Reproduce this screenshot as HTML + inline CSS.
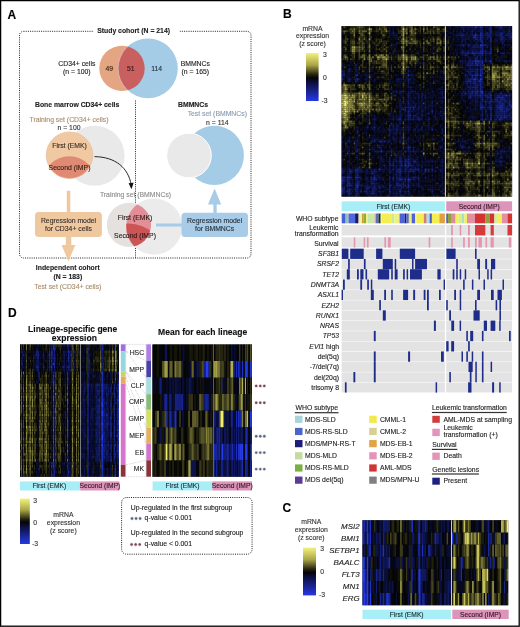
<!DOCTYPE html><html><head><meta charset="utf-8"><style>html,body{margin:0;padding:0;background:#fff;}svg{display:block;font-family:"Liberation Sans",sans-serif;filter:blur(0.3px);}</style></head><body><svg width="520" height="627" viewBox="0 0 520 627" font-family="Liberation Sans, sans-serif">
<rect width="520" height="627" fill="#fff"/>
<defs><clipPath id="cG2"><circle cx="128" cy="262" r="38.5"/></clipPath></defs>
<text x="7.60" y="18.66" font-size="12" font-weight="bold" fill="#000" stroke="#000" stroke-width="0.12">A</text>
<rect x="19.5" y="31.3" width="231.5" height="226.7" rx="4" fill="none" stroke="#222" stroke-width="1" stroke-dasharray="1 1.2"/>
<rect x="93.50" y="27.00" width="86.00" height="8.00" fill="#fff"/>
<text x="133.60" y="33.46" font-size="6.85" text-anchor="middle" font-weight="bold" fill="#222" stroke="#222" stroke-width="0.12">Study cohort (N = 214)</text>
<defs><clipPath id="cOr"><circle cx="122" cy="68.4" r="22.7"/></clipPath><clipPath id="cG1"><circle cx="128.9" cy="224.9" r="22.1"/></clipPath><clipPath id="cPe"><circle cx="69.5" cy="155.2" r="23.3"/></clipPath></defs>
<circle cx="122" cy="68.4" r="22.7" fill="#e3a582"/>
<circle cx="148" cy="68.4" r="29.8" fill="#a5cce6"/>
<circle cx="148" cy="68.4" r="29.8" fill="#c9605f" clip-path="url(#cOr)"/>
<circle cx="148" cy="68.4" r="29.8" fill="none" stroke="#fff" stroke-opacity="0.35" stroke-width="0.8" clip-path="url(#cOr)"/>
<text x="76.80" y="66.26" font-size="6.85" text-anchor="middle" fill="#222" stroke="#222" stroke-width="0.12">CD34+ cells</text>
<text x="76.80" y="74.36" font-size="6.85" text-anchor="middle" fill="#222" stroke="#222" stroke-width="0.12">(n = 100)</text>
<text x="109.30" y="70.66" font-size="6.85" text-anchor="middle" fill="#3a2410" stroke="#3a2410" stroke-width="0.12">49</text>
<text x="130.80" y="70.66" font-size="6.85" text-anchor="middle" fill="#3a1414" stroke="#3a1414" stroke-width="0.12">51</text>
<text x="156.60" y="70.66" font-size="6.85" text-anchor="middle" fill="#1e2c3a" stroke="#1e2c3a" stroke-width="0.12">114</text>
<text x="195.30" y="65.76" font-size="6.85" text-anchor="middle" fill="#222" stroke="#222" stroke-width="0.12">BMMNCs</text>
<text x="195.30" y="74.06" font-size="6.85" text-anchor="middle" fill="#222" stroke="#222" stroke-width="0.12">(n = 165)</text>
<text x="35.00" y="106.56" font-size="6.85" font-weight="bold" fill="#222" stroke="#222" stroke-width="0.12">Bone marrow CD34+ cells</text>
<text x="178.00" y="106.56" font-size="6.85" font-weight="bold" fill="#222" stroke="#222" stroke-width="0.12">BMMNCs</text>
<line x1="135.5" y1="100.5" x2="135.5" y2="258" stroke="#222" stroke-width="1" stroke-dasharray="1 1.2"/>
<text x="69.00" y="121.76" font-size="6.85" text-anchor="middle" fill="#a88c6c" stroke="#a88c6c" stroke-width="0.12">Training set (CD34+ cells)</text>
<text x="69.00" y="129.76" font-size="6.85" text-anchor="middle" fill="#333" stroke="#333" stroke-width="0.12">n = 100</text>
<circle cx="94.6" cy="155.8" r="30" fill="#e9e9e9"/>
<circle cx="69.5" cy="155.2" r="23.3" fill="#f0c8a2"/>
<circle cx="69.3" cy="182.8" r="26.6" fill="#e08a74" clip-path="url(#cPe)"/>
<circle cx="69.5" cy="155.2" r="23.3" fill="none" stroke="#e8b89a" stroke-width="0.6"/>
<text x="69.50" y="148.26" font-size="6.85" text-anchor="middle" fill="#3a2a20" stroke="#3a2a20" stroke-width="0.12">First (EMK)</text>
<text x="69.50" y="169.56" font-size="6.85" text-anchor="middle" fill="#3a2018" stroke="#3a2018" stroke-width="0.12">Second (IMP)</text>
<path d="M94.5 156.6 C 116 157, 128 168, 131.2 184.5" fill="none" stroke="#111" stroke-width="0.9"/>
<path d="M128.6 183.2 L131.5 189.2 L133.6 182.8 Z" fill="#111"/>
<text x="217.30" y="116.46" font-size="6.85" text-anchor="middle" fill="#8a9bb0" stroke="#8a9bb0" stroke-width="0.12">Test set (BMMNCs)</text>
<text x="217.30" y="124.56" font-size="6.85" text-anchor="middle" fill="#333" stroke="#333" stroke-width="0.12">n = 114</text>
<circle cx="214.3" cy="155.4" r="29.6" fill="#a5cce6"/>
<circle cx="189" cy="155.5" r="22.3" fill="#e9e9e9" stroke="#fff" stroke-width="1"/>
<text x="135.50" y="197.46" font-size="6.85" text-anchor="middle" fill="#8c8c8c" stroke="#8c8c8c" stroke-width="0.12">Training set (BMMNCs)</text>
<circle cx="154.1" cy="226.6" r="28.1" fill="#ebebeb"/>
<circle cx="128.9" cy="224.9" r="22.1" fill="#e5e1de"/>
<g clip-path="url(#cG1)"><circle cx="154.1" cy="226.6" r="28.1" fill="#e38d97"/><circle cx="154.1" cy="226.6" r="28.1" fill="#cc5454" clip-path="url(#cG2)"/><circle cx="154.1" cy="226.6" r="28.1" fill="none" stroke="#fff" stroke-opacity="0.3" stroke-width="0.8"/></g>
<text x="135.00" y="220.36" font-size="6.85" text-anchor="middle" fill="#2a2020" stroke="#2a2020" stroke-width="0.12">First (EMK)</text>
<text x="135.00" y="237.66" font-size="6.85" text-anchor="middle" fill="#2a1818" stroke="#2a1818" stroke-width="0.12">Second (IMP)</text>
<rect x="66.80" y="190.80" width="3.50" height="22.00" fill="#f0c8a0"/>
<rect x="35" y="212" width="66.9" height="24.9" rx="3.5" fill="#f0c8a0"/>
<rect x="65.80" y="236.50" width="5.50" height="9.00" fill="#f0c8a0"/>
<path d="M61.5 245 L75.4 245 L68.45 261.2 Z" fill="#f0c8a0"/>
<text x="68.50" y="222.56" font-size="6.85" text-anchor="middle" fill="#3a3028" stroke="#3a3028" stroke-width="0.12">Regression model</text>
<text x="68.50" y="230.66" font-size="6.85" text-anchor="middle" fill="#3a3028" stroke="#3a3028" stroke-width="0.12">for CD34+ cells</text>
<rect x="156.00" y="223.50" width="26.00" height="3.00" fill="#a8cce8"/>
<rect x="181.5" y="212.7" width="66.5" height="24.3" rx="3.5" fill="#a8cce8"/>
<rect x="213.40" y="203.00" width="3.30" height="10.00" fill="#a8cce8"/>
<path d="M208 204.6 L221.2 204.6 L214.6 188.5 Z" fill="#a8cce8"/>
<text x="214.60" y="222.56" font-size="6.85" text-anchor="middle" fill="#22303c" stroke="#22303c" stroke-width="0.12">Regression model</text>
<text x="214.60" y="231.06" font-size="6.85" text-anchor="middle" fill="#22303c" stroke="#22303c" stroke-width="0.12">for BMMNCs</text>
<text x="67.80" y="269.76" font-size="6.85" text-anchor="middle" font-weight="bold" fill="#222" stroke="#222" stroke-width="0.12">Independent cohort</text>
<text x="67.80" y="278.56" font-size="6.85" text-anchor="middle" font-weight="bold" fill="#222" stroke="#222" stroke-width="0.12">(N = 183)</text>
<text x="67.80" y="289.26" font-size="6.85" text-anchor="middle" fill="#a88c6c" stroke="#a88c6c" stroke-width="0.12">Test set (CD34+ cells)</text>
<rect x="341.60" y="26.20" width="170.50" height="170.40" fill="#000"/>
<path stroke="#050503" stroke-width="2.00" d="M341.6 27.2h1.7m3.4 0h1.7m25.4 0h1.7m37.2 0h1.7m3.4 0h1.7m5.1 0h1.7m1.7 0h1.7m11.8 0h1.7m7.9 0h1.7m39 0h1.7M343.3 29.2h1.7m1.7 0h1.7m59.2 0h1.7m30.5 0h1.7m6.2 0h1.7m42.4 0h3.4M378.9 31.2h1.6m10.2 0h1.7m3.4 0h1.7m10.1 0h1.7m45.2 0h1.7M346.7 33.2h1.7m8.4 0h1.7m6.8 0h1.7m5.1 0h3.4m32.1 0h1.7m8.5 0h1.7m35 0h1.7M355.1 35.2h1.7m13.6 0h1.7m3.4 0h1.7m3.3 0h1.7m5.1 0h1.7m10.2 0h1.7m3.4 0h1.7m20.3 0h1.7m3.4 0h3.3M341.6 37.2h3.4m1.7 0h3.4m22 0h3.4m3.4 0h1.6m10.2 0h1.7m8.5 0h1.7m15.2 0h5.1m3.4 0h1.7m1.7 0h1.7m10.1 0h1.7m14.7 0h1.7M348.4 39.2h1.7m5 0h3.4m8.5 0h1.7m15.2 0h3.4m11.9 0h1.7m6.7 0h1.7m8.5 0h1.7m1.7 0h1.7m5.1 0h1.7m62.1 0h1.7M356.8 41.2h1.7m15.3 0h1.7m18.6 0h1.7m25.4 0h1.7m11.8 0h1.7m23.2 0h1.7m5 0h1.7m18.7 0h1.7M341.6 43.2h1.7m3.4 0h3.4m30.4 0h1.7m35.6 0h1.7m1.7 0h1.7m8.5 0h1.6m1.7 0h1.7m5.1 0h1.7m14.7 0h1.7m13.5 0h1.7m17 0h1.7m11.8 0h1.7M356.8 45.2h1.7m28.8 0h1.7m8.5 0h3.4m6.7 0h1.7m3.4 0h1.7m27.1 0h3.4m2.8 0h1.7m42.4 0h1.7m5 0h1.7M341.6 47.2h1.7m27.1 0h1.7m1.7 0h1.7m8.4 0h1.7m11.9 0h3.4m5.1 0h1.6m5.1 0h1.7m10.2 0h1.7m3.4 0h1.7m8.4 0h1.7m11.3 0h3.4m35.6 0h1.7m5 0h1.7M346.7 49.3h3.4m54.2 0h5m1.7 0h1.7m3.4 0h1.7m23.7 0h1.7m6.2 0h1.7m47.4 0h1.7m5.1 0h1.7M367 51.3h1.7m3.4 0h1.7m5.1 0h1.6m6.8 0h1.7m1.7 0h1.7m11.9 0h1.7m8.4 0h1.7m11.9 0h1.7m11.8 0h1.7m2.8 0h3.4m8.5 0h1.7m32.2 0h1.7m6.7 0h1.7m6.8 0h3.4M343.3 53.3h1.7m5.1 0h1.7m5 0h1.7m3.4 0h1.7m6.8 0h1.7m33.9 0h1.6m5.1 0h1.7m8.5 0h1.7m1.7 0h1.7m11.8 0h1.7m6.2 0h1.7M355.1 55.3h1.7m10.2 0h1.7m20.3 0h1.7m25.4 0h1.7m1.7 0h1.7m10.2 0h1.6m1.7 0h1.7m5.1 0h1.7m2.8 0h1.7m3.4 0h1.7m5.1 0h1.7m38.9 0h1.7m6.8 0h1.7M341.6 57.3h1.7m6.8 0h1.7m3.3 0h3.4m59.3 0h1.7m36.7 0h1.7m35.6 0h3.3m10.2 0h1.7M355.1 59.3h1.7m18.7 0h1.7m18.6 0h1.7m51.9 0h1.7m55.9 0h1.7M341.6 61.3h5.1m11.8 0h3.4m1.7 0h3.4m52.5 0h1.7m13.5 0h1.7m5.1 0h3.4m9.6 0h3.4m35.6 0h1.7M345 63.3h3.4m15.2 0h1.7m5.1 0h1.7m15.2 0h1.7m1.7 0h3.4m3.4 0h1.7m8.4 0h1.7m17 0h1.7m6.7 0h1.7m1.7 0h1.7m45.2 0h1.7m6.8 0h1.7m1.6 0h3.4m1.7 0h1.7m5.1 0h1.7M375.5 65.3h5m13.6 0h1.7m11.8 0h3.4m17 0h1.7m1.7 0h1.6m1.7 0h1.7m3.4 0h5.1m4.5 0h1.7m47.4 0h1.7m5.1 0h1.7M348.4 67.3h1.7m1.7 0h1.7m13.5 0h1.7m5.1 0h1.7m25.4 0h1.7m18.6 0h1.7m5.1 0h1.7m10.1 0h3.4M360.2 69.3h1.7m5.1 0h1.7m25.4 0h1.7m1.7 0h1.7m20.3 0h3.4m8.5 0h1.6m1.7 0h1.7m5.1 0h1.7m41.8 0h1.7M353.5 71.3h1.6m18.7 0h1.7m13.5 0h1.7m3.4 0h1.7m3.4 0h1.7m15.2 0h1.7m8.5 0h1.7m3.4 0h1.6m23.2 0h1.7m5 0h1.7m18.7 0h1.7m15.2 0h1.7M361.9 73.3h1.7m8.5 0h1.7m5.1 0h1.6m8.5 0h3.4m3.4 0h3.4m13.5 0h1.7m45.2 0h1.7M377.2 75.3h1.7m42.3 0h1.7m3.4 0h1.7m5 0h1.7m19.8 0h1.7m3.4 0h1.7m28.8 0h1.7m8.4 0h1.7M358.5 77.3h1.7m1.7 0h3.4m23.7 0h1.7m3.4 0h1.7M372.1 79.3h1.7m6.7 0h1.7m11.9 0h1.7m22 0h1.7m1.7 0h1.7m3.4 0h1.7m21.4 0h1.7m3.4 0h1.7m5.1 0h1.6m20.4 0h1.7M361.9 81.3h1.7m13.6 0h3.3m1.7 0h3.4m5.1 0h1.7m1.7 0h1.7m10.2 0h1.6m11.9 0h1.7m3.4 0h1.7m1.7 0h1.7m1.7 0h1.6m19.8 0h1.7m28.8 0h3.4M341.6 83.3h1.7m1.7 0h5.1m8.4 0h1.7m6.8 0h1.7m3.4 0h1.7m42.3 0h1.7m1.7 0h1.7m24.8 0h1.7m11.9 0h1.7m23.7 0h1.7M355.1 85.3h1.7m35.6 0h1.7m6.8 0h1.7m25.4 0h1.7m6.7 0h1.7m5.1 0h1.7m4.5 0h1.7m3.4 0h1.7M356.8 87.3h1.7m6.8 0h1.7m3.4 0h3.4m20.3 0h1.7m5.1 0h1.7m1.7 0h1.7m27 0h1.7m1.7 0h3.4m3.4 0h1.7m40.1 0h1.7m1.7 0h1.7M358.5 89.3h1.7m18.7 0h3.3m15.3 0h1.7m60.4 0h1.7m23.7 0h1.7m1.7 0h1.7m10.1 0h1.7M355.1 91.4h3.4m15.3 0h1.7m1.7 0h1.7m6.7 0h3.4m1.7 0h1.7m23.7 0h1.7m29.9 0h3.4m1.7 0h1.7m1.7 0h1.7m38.9 0h3.4m10.2 0h1.7M373.8 93.4h1.7m70.5 0h1.7m3.4 0h1.7M378.9 95.4h1.6m17 0h1.7m28.8 0h1.7m8.4 0h1.7m6.2 0h1.7m44.1 0h1.7M382.2 97.4h1.7m10.2 0h1.7m8.5 0h1.7m27 0h1.7m14.7 0h1.7m1.7 0h1.7m1.7 0h3.4M392.4 99.4h1.7m1.7 0h1.7m35.5 0h1.7m8.5 0h1.7m9.6 0h1.7m10.1 0h1.7M373.8 101.4h1.7m11.8 0h1.7m5.1 0h1.7m27.1 0h1.7m28.2 0h1.7m1.7 0h1.7m10.1 0h1.7M373.8 103.4h1.7m57.5 0h1.7m8.5 0h1.7m1.1 0h1.7m1.7 0h1.7m10.2 0h1.6m3.4 0h1.7m15.3 0h1.7M392.4 105.4h3.4m6.8 0h1.7m51.9 0h5.1m5 0h1.7M372.1 107.4h1.7m18.6 0h3.4m37.2 0h1.7m28.2 0h1.7M389 109.4h1.7m1.7 0h1.7m3.4 0h1.7m38.9 0h1.7m9.6 0h1.7m16.9 0h1.7M380.5 111.4h1.7m20.4 0h1.7m45.1 0h1.7m8.5 0h3.3m28.9 0h1.7M355.1 113.4h1.7m1.7 0h1.7m18.7 0h1.6m13.6 0h1.7m15.2 0h1.7m1.7 0h1.7m16.9 0h1.7m19.8 0h3.4m3.4 0h1.6m3.4 0h3.4M355.1 115.4h1.7m6.8 0h1.7m10.2 0h1.7m5 0h1.7m18.7 0h1.7m55.3 0h1.7m6.7 0h1.7m13.6 0h1.7M351.8 117.4h1.7m11.8 0h1.7m13.5 0h1.7m1.7 0h3.4m15.3 0h1.7m18.6 0h1.7M353.5 119.4h1.6m3.4 0h1.7m62.7 0h1.7m40 0h1.7m11.9 0h1.7m11.9 0h1.7M360.2 121.4h1.7m8.5 0h1.7m3.4 0h1.7m28.8 0h1.6m3.4 0h1.7m17 0h1.7m8.4 0h1.7m43.5 0h1.7m23.7 0h1.7M356.8 123.4h1.7m5.1 0h1.7m10.2 0h3.4m18.6 0h1.7m1.7 0h1.7m18.6 0h1.7m15.2 0h1.7m6.2 0h1.7M358.5 125.4h1.7m1.7 0h1.7m5.1 0h1.7m13.5 0h5.1m40.7 0h1.7m18 0h1.7m6.8 0h1.7m3.3 0h1.7m20.4 0h1.7M348.4 127.4h1.7m1.7 0h1.7m15.2 0h1.7m20.3 0h1.7m30.5 0h1.7m10.1 0h3.4m11.3 0h1.7m8.5 0h1.7m1.6 0h3.4m20.4 0h1.7M350.1 129.4h1.7m6.7 0h1.7m15.3 0h1.7m8.4 0h1.7m35.6 0h1.7m24.8 0h3.4m3.4 0h1.7m6.7 0h1.7m1.7 0h1.7m18.7 0h1.7m8.4 0h1.7M345 131.4h1.7m13.5 0h1.7m5.1 0h3.4m1.7 0h1.7m13.5 0h1.7m17 0h1.6m3.4 0h1.7m6.8 0h1.7m24.8 0h1.7m23.7 0h3.4m10.2 0h1.7m16.9 0h1.7m1.7 0h1.7M351.8 133.5h1.7m6.7 0h1.7m6.8 0h1.7m1.7 0h1.7m23.7 0h1.7m11.8 0h1.7m3.4 0h1.7m5.1 0h1.7m5.1 0h1.7m14.6 0h1.7m1.7 0h1.7m5.1 0h1.7m3.4 0h1.6m1.7 0h3.4m3.4 0h1.7m6.8 0h1.7m5.1 0h3.4m6.7 0h1.7m1.7 0h1.7m1.7 0h1.7m3.4 0h1.7M345 135.5h8.5m6.7 0h1.7m1.7 0h1.7m13.6 0h1.6m5.1 0h1.7m18.7 0h1.6m27.1 0h1.7m3.4 0h3.4m19.7 0h3.4m1.7 0h3.4m1.7 0h1.7m22 0h1.7M380.5 137.5h1.7m3.4 0h1.7m18.7 0h1.6m3.4 0h1.7m1.7 0h1.7m27.1 0h1.7m9.6 0h1.7m1.7 0h1.7m6.7 0h5.1m25.4 0h1.7m1.7 0h1.7M360.2 139.5h1.7m6.8 0h1.7m27.1 0h1.7m15.2 0h1.7m29.9 0h1.7m8.5 0h1.7m16.9 0h1.7m8.5 0h1.7m8.5 0h1.6m6.8 0h5.1M360.2 141.5h1.7m1.7 0h3.4m8.5 0h1.7m42.3 0h1.7m6.8 0h1.7m1.7 0h3.3m1.7 0h1.7m57.1 0h1.6m13.6 0h1.7M377.2 143.5h1.7m18.6 0h1.7m16.9 0h1.7m82.4 0h3.4m3.4 0h3.4M343.3 145.5h1.7m42.3 0h1.7m1.7 0h1.7m1.7 0h1.7m1.7 0h1.7m6.8 0h1.6m28.8 0h1.7m18.1 0h1.7m10.1 0h1.7m35.6 0h1.7M343.3 147.5h1.7m20.3 0h1.7m30.5 0h1.7m20.3 0h1.7m3.4 0h1.7m5.1 0h1.6m3.4 0h1.7m7.9 0h1.7m42.4 0h1.7m1.7 0h1.7M360.2 149.5h1.7m22 0h1.7m1.7 0h1.7m8.5 0h3.4m10.1 0h1.7m1.7 0h1.7m3.4 0h1.7m6.8 0h1.7m1.7 0h1.6m23.2 0h1.7m6.7 0h1.7m13.6 0h3.4m1.7 0h1.7m18.6 0h1.7M353.5 151.5h1.6m101.1 0h1.7m3.4 0h1.6m10.2 0h1.7m1.7 0h1.7m1.7 0h1.7m5.1 0h1.7M343.3 153.5h1.7m25.4 0h1.7m1.7 0h1.7m3.4 0h1.6m6.8 0h1.7m6.8 0h1.7m8.5 0h1.6m5.1 0h1.7m1.7 0h1.7m1.7 0h1.7m3.4 0h1.7m1.7 0h1.7m8.4 0h3.4m29.9 0h1.7m17 0h1.7M350.1 155.5h1.7m1.7 0h1.6m5.1 0h1.7m3.4 0h1.7m8.5 0h1.7m40.6 0h1.7m6.8 0h1.7m1.7 0h1.7m5 0h1.7m19.8 0h1.7m3.3 0h1.7m3.4 0h3.4m10.2 0h1.7m1.7 0h1.7m11.8 0h1.7M346.7 157.5h1.7m3.4 0h3.3m20.4 0h1.7m6.7 0h1.7m33.9 0h1.7m8.5 0h1.7m33.2 0h1.7m20.4 0h1.7m3.4 0h1.7m10.1 0h1.7m5.1 0h1.7M345 159.5h1.7m5.1 0h1.7m23.7 0h1.7m11.8 0h1.7m30.5 0h1.7m8.4 0h3.4m6.8 0h1.7m41.8 0h1.7m5.1 0h1.7m10.1 0h1.7m3.4 0h1.7M343.3 161.5h1.7m5.1 0h1.7m3.3 0h1.7m1.7 0h3.4m5.1 0h1.7m77.3 0h1.7m10.2 0h3.4m23.7 0h3.4m18.6 0h1.7m1.7 0h1.7M351.8 163.5h5m30.5 0h1.7m44 0h1.7m1.7 0h3.4m3.4 0h1.7m16.4 0h1.6m33.9 0h1.7m3.4 0h1.7M343.3 165.5h1.7m16.9 0h1.7m1.7 0h1.7m8.5 0h3.4m106.1 0h1.7m1.7 0h1.7m3.4 0h1.7m10.1 0h1.7m3.4 0h1.7M350.1 167.5h1.7m20.3 0h1.7m3.4 0h1.7m3.3 0h1.7m6.8 0h1.7m5.1 0h1.7m10.1 0h1.7m11.9 0h1.7m5.1 0h1.7m70.5 0h1.7m3.4 0h3.4M390.7 169.5h1.7m57 0h1.7m5.1 0h1.7m15.2 0h1.7m6.8 0h1.7m1.7 0h1.7m8.5 0h1.6m5.1 0h1.7M446 171.5h1.7m11.9 0h1.7m11.8 0h1.7m10.2 0h1.7m15.2 0h3.4M361.9 173.5h1.7m45.7 0h1.7m15.3 0h1.7m1.7 0h1.7m3.3 0h3.4m5.1 0h1.7m6.2 0h1.7M368.7 175.6h1.7m13.5 0h1.7m5.1 0h1.7m10.2 0h1.7m15.2 0h1.7m1.7 0h1.7m1.7 0h1.7m8.4 0h1.7m5.1 0h1.7m14.7 0h1.7m3.3 0h1.7m23.8 0h1.7m6.7 0h1.7M361.9 177.6h1.7m22 0h1.7m87.5 0h1.7m1.7 0h1.7m18.6 0h3.4m6.8 0h1.7M436.4 179.6h1.7m11.3 0h1.7m10.2 0h1.6m18.7 0h1.7m6.8 0h1.7M361.9 181.6h1.7m23.7 0h1.7m92.6 0h1.7m6.8 0h1.7M368.7 183.6h1.7m11.8 0h1.7m39 0h1.7m5.1 0h1.7m31.5 0h1.7m17 0h1.7M446 185.6h1.7m11.9 0h1.7m13.5 0h3.4m3.4 0h1.7m1.7 0h1.7m8.5 0h1.6m1.7 0h1.7M479.9 187.6h3.4m11.9 0h1.6m3.4 0h1.7M361.9 189.6h1.7m18.6 0h1.7m18.7 0h1.7m1.7 0h1.6m41.8 0h1.7m3.4 0h1.7m6.7 0h1.7m15.3 0h3.4m1.7 0h3.4M409.3 191.6h1.7m5.1 0h1.7m5.1 0h1.7m1.7 0h1.7m6.7 0h1.7m1.7 0h1.7m3.4 0h1.7m6.2 0h1.7m6.8 0h3.3m23.8 0h1.7M361.9 193.6h1.7m18.6 0h1.7m18.7 0h1.7m25.4 0h1.7m14.6 0h1.7m23.7 0h1.7m6.8 0h3.4m1.7 0h1.7m10.1 0h1.7m1.7 0h1.7m5.1 0h1.7M360.2 195.6h1.7m1.7 0h1.7m25.4 0h1.7m5.1 0h1.7m25.4 0h3.4m1.7 0h1.7m8.4 0h1.7m1.7 0h1.7m14.7 0h1.7m20.3 0h1.7m1.7 0h1.7m13.5 0h1.7"/>
<path stroke="#4b4922" stroke-width="2.00" d="M343.3 27.2h1.7m15.2 0h3.4m5.1 0h1.7m13.5 0h1.7m15.3 0h1.7m6.7 0h1.7m11.9 0h1.7M358.5 29.2h1.7m44.1 0h1.7M370.4 31.2h1.7m8.4 0h1.7m22.1 0h1.7m6.7 0h1.7m15.3 0h1.7m1.6 0h1.7m1.7 0h1.7m5.1 0h1.7M343.3 33.2h1.7m15.2 0h3.4m16.9 0h1.7m42.4 0h1.7m3.4 0h1.7m1.6 0h1.7m3.4 0h1.7M360.2 35.2h1.7m22 0h1.7m15.3 0h1.7M353.5 37.2h1.6m3.4 0h1.7m3.4 0h1.7m3.4 0h1.7m35.6 0h1.6M346.7 39.2h1.7m52.5 0h1.7m3.4 0h1.6m6.8 0h1.7m6.8 0h1.7M345 41.2h1.7m5.1 0h3.3m3.4 0h3.4m18.6 0h1.7m33.9 0h1.7m15.2 0h1.7m1.7 0h1.7m5.1 0h1.7M345 43.2h1.7m5.1 0h1.7m5 0h1.7m8.5 0h1.7m15.2 0h1.7m13.6 0h1.7m8.4 0h3.4m1.7 0h1.7m8.5 0h1.7M361.9 45.2h1.7m20.3 0h1.7M356.8 47.2h1.7m1.7 0h1.7m1.7 0h1.7m20.3 0h1.7M355.1 49.3h1.7m22.1 0h1.6m3.4 0h1.7m37.3 0h1.7m11.8 0h1.7m58.7 0h1.7M363.6 51.3h1.7M351.8 53.3h1.7m5 0h1.7M343.3 55.3h3.4m6.8 0h1.6m3.4 0h1.7m37.3 0h1.7m1.7 0h1.7m1.7 0h1.7m5 0h1.7m13.6 0h1.7m8.4 0h1.7M343.3 57.3h1.7m1.7 0h1.7m5.1 0h1.6m3.4 0h1.7m30.5 0h1.7m5.1 0h5.1m6.7 0h1.7m11.9 0h1.7m6.8 0h1.6m6.8 0h1.7m1.7 0h1.7m6.2 0h1.7m1.7 0h1.7M346.7 59.3h1.7m1.7 0h1.7m27.1 0h1.6m6.8 0h1.7m1.7 0h1.7m5.1 0h1.7m23.7 0h1.7m3.4 0h1.7M361.9 61.3h1.7m11.9 0h1.7m5 0h1.7m25.4 0h1.7m25.4 0h1.7m9.6 0h1.7M375.5 63.3h1.7m5 0h3.4m15.3 0h1.7m6.7 0h1.7M451.1 65.3h1.7m50.8 0h1.7m1.7 0h1.7m1.7 0h1.7M358.5 67.3h1.7m8.5 0h1.7m5.1 0h1.7m5 0h1.7m6.8 0h1.7m1.7 0h1.7m35.6 0h3.3m50.3 0h1.7m13.5 0h1.7M368.7 69.3h1.7m59.3 0h1.7m67.1 0h1.7M361.9 71.3h1.7m16.9 0h3.4m17 0h1.7m30.4 0h1.7m18.1 0h1.7m32.2 0h1.7m13.5 0h3.4M447.7 73.3h1.7m49.1 0h1.7m8.5 0h1.7M368.7 75.3h1.7m116.3 0h1.7m8.4 0h1.7M402.6 77.3h1.7m48.5 0h3.4m44 0h1.7M447.7 79.3h1.7m39 0h1.7m5.1 0h1.6m1.7 0h1.7M368.7 81.3h1.7m79 0h1.7m44.1 0h1.6m1.7 0h1.7m3.4 0h1.7m5.1 0h1.7M343.3 83.3h1.7m111.2 0h1.7m33.9 0h5m8.5 0h1.7m1.7 0h1.7M348.4 85.3h1.7m10.1 0h1.7m5.1 0h1.7m10.2 0h1.6m5.1 0h1.7m15.3 0h1.7m41.7 0h1.7m8.5 0h1.7m33.9 0h3.4m3.3 0h1.7m3.4 0h1.7m5.1 0h1.7M341.6 87.3h1.7m15.2 0h1.7m3.4 0h1.7m82.4 0h1.7m3.4 0h1.7m37.3 0h1.7m5 0h1.7m6.8 0h1.7M350.1 89.3h1.7m95.9 0h1.7m55.9 0h1.7m3.4 0h1.7M341.6 93.4h1.7m8.5 0h1.7m1.6 0h3.4m11.9 0h1.7m11.8 0h3.4M377.2 95.4h1.7M355.1 97.4h1.7m10.2 0h1.7m18.6 0h1.7M351.8 99.4h1.7m3.3 0h1.7m18.7 0h1.7m3.3 0h1.7m1.7 0h3.4m1.7 0h1.7m55.3 0h1.7M365.3 101.4h3.4M367 103.4h1.7m3.4 0h1.7m5.1 0h1.6m1.7 0h1.7m39 0h1.7m33.3 0h1.7M356.8 105.4h1.7m11.9 0h1.7m1.7 0h1.7m1.7 0h1.7m8.4 0h1.7m58.7 0h1.7M370.4 107.4h1.7m73.9 0h3.4m3.4 0h1.7M355.1 109.4h1.7m3.4 0h1.7m1.7 0h1.7m11.9 0h1.7M351.8 111.4h1.7m23.7 0h1.7m15.2 0h1.7m51.9 0h1.7M350.1 113.4h1.7m10.1 0h1.7m84.1 0h5.1M348.4 115.4h1.7m97.6 0h1.7M451.1 117.4h3.4M447.7 119.4h1.7M456.2 121.4h3.4m3.3 0h1.7M348.4 123.4h6.7m97.7 0h3.4m1.7 0h1.7m3.3 0h1.7m3.4 0h3.4m1.7 0h1.7m5.1 0h3.4m8.5 0h3.4M343.3 125.4h1.7m3.4 0h1.7m102.7 0h1.7m11.8 0h1.7m1.7 0h1.7m3.4 0h1.7m1.7 0h1.7m3.4 0h1.7m6.8 0h1.7m16.9 0h1.7M402.6 127.4h1.7m48.5 0h3.4m1.7 0h1.7m13.5 0h1.7m17 0h1.7m13.5 0h1.7M474.8 129.4h1.7M447.7 131.4h1.7m27.1 0h1.7m13.6 0h1.7m1.7 0h1.6m13.6 0h1.7M402.6 133.5h1.7m43.4 0h1.7m28.8 0h1.7m11.9 0h1.7M368.7 135.5h1.7m32.2 0h1.7m46.8 0h1.7m33.9 0h1.7m18.6 0h1.7m1.7 0h1.7M451.1 139.5h1.7m35.6 0h1.7M491.8 141.5h1.7M426.3 143.5h1.7m62.1 0h1.7m18.6 0h1.7M368.7 145.5h1.7m106.1 0h1.7m8.5 0h1.7m5.1 0h1.7M402.6 147.5h1.7m73.9 0h1.7m5.1 0h3.4M368.7 149.5h1.7m75.6 0h1.7M459.6 151.5h1.7M346.7 153.5h1.7m15.2 0h1.7m64.4 0h1.7m3.3 0h3.4m16.4 0h1.7m6.7 0h1.7m1.7 0h1.7m18.7 0h1.7M368.7 155.5h1.7m20.3 0h1.7m40.6 0h1.7m11.3 0h1.7m1.7 0h1.7m13.5 0h1.7m17 0h1.7m6.8 0h1.7M451.1 157.5h1.7m25.4 0h1.7m3.4 0h1.7M447.7 159.5h5.1m1.7 0h1.7m6.7 0h1.7m1.7 0h1.7M365.3 161.5h1.7m84.1 0h1.7m1.7 0h1.7M473.1 163.5h1.7m1.7 0h1.7m8.5 0h1.7m3.4 0h1.7M363.6 165.5h1.7m87.5 0h1.7m1.7 0h1.7m6.7 0h1.7m8.5 0h3.4m3.4 0h1.7M361.9 167.5h1.7m90.9 0h3.4m15.2 0h1.7m1.7 0h1.7m5.1 0h1.7m6.8 0h3.4M451.1 169.5h1.7M469.7 171.5h1.7m6.8 0h1.7m3.4 0h1.7m8.5 0h1.7M446 173.5h1.7m10.2 0h1.7m23.7 0h1.7m10.2 0h1.6m3.4 0h1.7m1.7 0h1.7m1.7 0h1.7M452.8 175.6h6.8m13.5 0h1.7m18.7 0h3.3m10.2 0h1.7M451.1 177.6h1.7m33.9 0h1.7m3.4 0h1.7M468 179.6h1.7m17 0h1.7M446 181.6h3.4m5.1 0h1.7m8.4 0h3.4m17 0h1.7m10.1 0h1.7m5.1 0h1.7M452.8 183.6h1.7m1.7 0h1.7m6.7 0h1.7m5.1 0h1.7m10.2 0h1.7m1.7 0h3.4m1.7 0h1.7m3.3 0h1.7m3.4 0h1.7M447.7 185.6h1.7m3.4 0h1.7m3.4 0h1.7m8.4 0h1.7m13.6 0h1.7m6.8 0h1.7M451.1 187.6h1.7m11.8 0h3.4m1.7 0h1.7m22.1 0h1.7m11.8 0h5.1M447.7 189.6h1.7m33.9 0h1.7m20.3 0h1.7M468 191.6h1.7m13.6 0h1.7m20.3 0h1.7m1.7 0h3.4M466.3 193.6h1.7M449.4 195.6h1.7m15.2 0h1.7m6.8 0h1.7m3.4 0h1.7m1.7 0h1.7m3.4 0h1.7"/>
<path stroke="#252511" stroke-width="2.00" d="M345 27.2h1.7m3.4 0h6.7m6.8 0h1.7m10.2 0h1.7m3.3 0h1.7m3.4 0h1.7m20.3 0h1.7m5.1 0h1.7m18.6 0h1.7m1.7 0h1.7M348.4 29.2h1.7m5 0h3.4m3.4 0h1.7m13.6 0h1.7m3.3 0h1.7m13.6 0h1.7m13.5 0h1.7m15.3 0h5m6.8 0h1.7M341.6 31.2h1.7m5.1 0h1.7m5 0h1.7m17 0h1.7m11.8 0h3.4m6.8 0h1.7m18.6 0h1.7m11.9 0h1.6m6.8 0h3.4m2.8 0h1.7m5.1 0h1.7M363.6 33.2h1.7m1.7 0h1.7m13.5 0h3.4m11.9 0h3.4m8.4 0h1.7m5.1 0h1.7m1.7 0h1.7m6.8 0h1.7M345 35.2h1.7m16.9 0h1.7m40.7 0h1.6m6.8 0h1.7m13.6 0h1.7m8.4 0h1.7M361.9 37.2h1.7m18.6 0h3.4m1.7 0h1.7m18.6 0h8.5m11.9 0h1.7m1.7 0h3.3m8.5 0h1.7M350.1 39.2h5m5.1 0h1.7m3.4 0h1.7m10.2 0h3.3m45.8 0h1.7m3.4 0h1.6m14.7 0h1.7M346.7 41.2h1.7m16.9 0h3.4m3.4 0h1.7m8.4 0h6.8m10.2 0h1.7m8.4 0h1.7m6.8 0h3.4m1.7 0h3.4m5.1 0h1.6m5.1 0h1.7m6.2 0h1.7M343.3 43.2h1.7m15.2 0h1.7m5.1 0h1.7m3.4 0h1.7m3.4 0h1.7m3.3 0h3.4m11.9 0h1.7m30.5 0h1.7m1.6 0h1.7m11.3 0h1.7M346.7 45.2h1.7m1.7 0h1.7m8.4 0h1.7m1.7 0h1.7m16.9 0h1.7m27.1 0h1.7m3.4 0h1.7m5.1 0h1.7m11.8 0h1.7M367 47.2h1.7m6.8 0h1.7m3.3 0h3.4m3.4 0h1.7m30.5 0h1.7m11.8 0h1.7m62.1 0h1.7m11.9 0h1.7M363.6 49.3h1.7m11.9 0h1.7m15.2 0h1.7m18.6 0h1.7m13.6 0h1.7m1.6 0h1.7m60.5 0h1.6M343.3 51.3h3.4m13.5 0h3.4m18.6 0h1.7m10.2 0h1.7m30.5 0h1.7m10.1 0h1.7M363.6 53.3h1.7m3.4 0h1.7m15.2 0h1.7m28.8 0h1.7M350.1 55.3h3.4m6.7 0h1.7m3.4 0h1.7m23.7 0h1.7m6.8 0h1.7m8.4 0h1.7m3.4 0h1.7m8.5 0h1.7m6.7 0h1.7m8.5 0h1.7m50.3 0h1.6M351.8 57.3h1.7m16.9 0h1.7m16.9 0h1.7m3.4 0h3.4m28.8 0h1.7m10.1 0h1.7m13 0h1.7m42.3 0h1.7M341.6 59.3h3.4m6.8 0h3.3m6.8 0h1.7m16.9 0h1.7m25.4 0h3.4m15.3 0h1.7m11.8 0h1.7m4.5 0h3.4m1.7 0h5.1m39 0h1.6M346.7 61.3h1.7m23.7 0h1.7m3.4 0h3.3m17 0h3.4m3.4 0h1.7m6.7 0h1.7m8.5 0h1.7m1.7 0h1.7m24.8 0h1.7M372.1 63.3h3.4m5 0h1.7m22.1 0h1.7m5 0h1.7m3.4 0h1.7m1.7 0h1.7m6.8 0h3.4m11.8 0h1.7m2.8 0h1.7m1.7 0h1.7m39 0h1.7M380.5 65.3h1.7m8.5 0h1.7m11.9 0h3.3m6.8 0h1.7m10.2 0h1.7m8.4 0h1.7m7.9 0h1.7m39 0h1.7m5.1 0h3.3m5.1 0h1.7M345 67.3h1.7m16.9 0h3.4m10.2 0h1.7m8.4 0h1.7m15.3 0h1.7m8.4 0h1.7m10.2 0h1.7m10.1 0h1.7m18.1 0h5M387.3 69.3h1.7m11.9 0h1.7m23.7 0h1.7m5 0h1.7m8.5 0h1.7m11.3 0h1.7m42.3 0h1.7M343.3 71.3h1.7m18.6 0h1.7m11.9 0h1.7m5 0h1.7m1.7 0h1.7m1.7 0h1.7m11.9 0h1.7m16.9 0h1.7m26.5 0h1.7m35.6 0h1.7M358.5 73.3h1.7m8.5 0h1.7m10.1 0h6.8m18.7 0h1.6m11.9 0h1.7m6.8 0h1.7m23.1 0h1.7m6.8 0h1.6m20.4 0h1.7m3.4 0h1.7m6.7 0h1.7m1.7 0h1.7M390.7 75.3h1.7m23.7 0h1.7m28.2 0h1.7m1.7 0h1.7M353.5 77.3h1.6m25.4 0h1.7m8.5 0h1.7m13.6 0h1.6m22.1 0h1.7m19.7 0h1.7m37.3 0h1.7M368.7 79.3h1.7m16.9 0h1.7m13.6 0h1.7m48.5 0h1.7m1.7 0h1.7m32.2 0h1.7m5 0h1.7m3.4 0h1.7M426.3 81.3h1.7m5 0h1.7m16.4 0h1.7m3.4 0h3.4M363.6 83.3h3.4m20.3 0h1.7m54.2 0h1.7m4.5 0h1.7m45.7 0h1.7m1.7 0h1.7M341.6 85.3h1.7m13.5 0h1.7m11.9 0h1.7m22 0h1.7m27.1 0h1.7m26.5 0h1.7m35.6 0h1.7m10.1 0h3.4M351.8 87.3h3.3m20.4 0h1.7m10.1 0h1.7m13.6 0h1.7m45.1 0h3.4m6.8 0h1.7m38.9 0h3.4m1.7 0h1.7m1.7 0h1.7M355.1 89.3h1.7m6.8 0h3.4m23.7 0h1.7m27.1 0h1.7m29.9 0h3.4m1.7 0h1.7m3.4 0h1.6m30.6 0h1.7m3.3 0h1.7M358.5 91.4h5.1m82.4 0h1.7m3.4 0h1.7M375.5 93.4h3.4M372.1 95.4h1.7m11.8 0h1.7m3.4 0h1.7m55.3 0h1.7M356.8 97.4h1.7m15.3 0h1.7m13.5 0h1.7m60.4 0h1.7M375.5 99.4h1.7m25.4 0h1.7m45.1 0h1.7M355.1 101.4h1.7m13.6 0h3.4m1.7 0h1.7M390.7 103.4h1.7m10.2 0h1.7m46.8 0h1.7M355.1 105.4h1.7m97.7 0h1.7M355.1 107.4h3.4m17 0h1.7m3.3 0h5.1m5.1 0h1.7m57 0h1.7m5.1 0h1.7M380.5 109.4h3.4m6.8 0h1.7m1.7 0h1.7m62.1 0h1.7M365.3 111.4h1.7m8.5 0h1.7m1.7 0h1.6m1.7 0h1.7m6.8 0h1.7m53.6 0h1.7M377.2 113.4h1.7m6.7 0h3.4m68.9 0h1.7M368.7 115.4h1.7m84.1 0h3.4m5 0h1.7M350.1 117.4h1.7m1.7 0h1.6m13.6 0h1.7m75.6 0h1.7m1.7 0h1.7m5.1 0h1.7M348.4 119.4h1.7m11.8 0h1.7m87.5 0h3.4M358.5 121.4h1.7m1.7 0h1.7m22 0h1.7m72.3 0h3.3m1.7 0h1.7m5.1 0h5.1m15.3 0h5M346.7 123.4h1.7m10.1 0h1.7m67.8 0h1.7m6.7 0h1.7m13 0h1.7m3.4 0h1.7m6.7 0h1.7m18.7 0h1.7m8.5 0h1.6m5.1 0h1.7M346.7 125.4h1.7m5.1 0h1.6m99.4 0h1.7m37.3 0h1.7m13.5 0h1.7M341.6 127.4h1.7m6.8 0h1.7m1.7 0h1.6m1.7 0h1.7m87.5 0h1.7m8.5 0h1.7m10.1 0h3.4m32.2 0h1.7M341.6 129.4h1.7m1.7 0h1.7m6.8 0h1.6m47.5 0h1.7m53.6 0h1.7m11.8 0h3.4m17 0h1.7m13.5 0h1.7M402.6 131.4h1.7m48.5 0h1.7m1.7 0h1.7m16.9 0h1.7m3.4 0h5.1m13.5 0h1.7m8.5 0h1.7M361.9 133.5h1.7m87.5 0h3.4m30.5 0h1.7m6.8 0h1.7m10.1 0h1.7M387.3 135.5h1.7m25.4 0h1.7m6.8 0h1.7m8.4 0h1.7m1.7 0h3.4m14.7 0h5.1m15.2 0h1.7m18.7 0h1.6M351.8 137.5h3.3m13.6 0h1.7m52.5 0h1.7m28.2 0h1.7m18.6 0h3.4m15.3 0h1.7m10.1 0h3.4M426.3 139.5h1.7m5 0h1.7m23.2 0h1.7m33.9 0h1.7M486.7 141.5h3.4m3.4 0h1.7M361.9 143.5h1.7m1.7 0h3.4m1.7 0h1.7m18.6 0h1.7m13.6 0h1.6m22.1 0h3.3m10.2 0h1.7m1.1 0h1.7m1.7 0h1.7m3.4 0h1.7m18.6 0h1.7m22 0h1.7M345 145.5h1.7m13.5 0h1.7m40.7 0h1.7m15.2 0h1.7m28.2 0h3.4m44 0h3.4M422.9 147.5h1.7m5.1 0h1.7m16.3 0h1.7m30.5 0h1.7m15.2 0h3.4M358.5 149.5h1.7m30.5 0h1.7m10.2 0h1.7m22 0h1.7m1.7 0h1.7m3.3 0h1.7m6.8 0h1.7m9.6 0h1.7m18.6 0h1.7m10.2 0h1.7M363.6 151.5h1.7m25.4 0h1.7m53.6 0h1.7m30.5 0h1.7m11.9 0h1.7M350.1 153.5h1.7m33.8 0h1.7m3.4 0h1.7m5.1 0h1.7m15.2 0h1.7m10.2 0h1.7m15.2 0h1.7m4.5 0h1.7m13.5 0h1.7m6.8 0h3.4m8.5 0h1.7m6.8 0h1.7M345 155.5h1.7m15.2 0h1.7m30.5 0h1.7m6.8 0h1.7m18.6 0h1.7m31.6 0h1.7m3.4 0h1.6m25.5 0h1.7m3.4 0h1.7M454.5 157.5h1.7m1.7 0h1.7m1.7 0h1.6m5.1 0h1.7M358.5 159.5h1.7m10.2 0h1.7m73.9 0h1.7m22 0h3.4M361.9 161.5h3.4m84.1 0h1.7m5.1 0h1.7m6.7 0h1.7m1.7 0h5.1m1.7 0h1.7M350.1 163.5h1.7m8.4 0h3.4m8.5 0h1.7m1.7 0h1.7m75.6 0h1.7m3.4 0h3.4m18.6 0h1.7m3.4 0h1.7m6.8 0h1.7m10.1 0h3.4M462.9 165.5h1.7m3.4 0h1.7m8.5 0h1.7M363.6 167.5h1.7m96 0h1.6m25.5 0h1.7M447.7 169.5h1.7m8.5 0h1.7m6.7 0h1.7m1.7 0h3.4m3.4 0h1.7m5.1 0h1.7m8.5 0h1.7M447.7 171.5h1.7m3.4 0h1.7m22 0h1.7m18.6 0h1.7m10.2 0h1.7M422.9 173.5h1.7m29.9 0h1.7m6.7 0h3.4m6.8 0h1.7m5.1 0h3.4m1.7 0h1.7m3.4 0h1.7m13.5 0h1.7M449.4 175.6h1.7m10.2 0h1.6m6.8 0h1.7m25.4 0h1.7M452.8 177.6h1.7m10.1 0h1.7m1.7 0h3.4m5.1 0h1.7m15.3 0h1.7m6.7 0h3.4m1.7 0h1.7M454.5 179.6h1.7m1.7 0h1.7m15.2 0h5.1m11.9 0h1.7m1.7 0h3.3m5.1 0h1.7M402.6 181.6h1.7m25.4 0h1.7m21.4 0h1.7m22 0h1.7m1.7 0h1.7m13.6 0h1.6m10.2 0h1.7M402.6 183.6h1.7m53.6 0h5m6.8 0h1.7m5.1 0h1.7M402.6 185.6h1.7m45.1 0h3.4m10.1 0h1.7m8.5 0h1.7m13.6 0h1.7m3.4 0h1.7m1.6 0h1.7m3.4 0h3.4m5.1 0h1.7M402.6 187.6h1.7m48.5 0h1.7m16.9 0h1.7m5.1 0h1.7M422.9 189.6h1.7m5.1 0h1.7m6.7 0h1.7m3.4 0h1.7m6.2 0h3.4m1.7 0h1.7m11.8 0h6.8m11.9 0h1.7m3.4 0h1.7m6.7 0h3.4M446 191.6h1.7m18.6 0h1.7m20.4 0h1.7m16.9 0h1.7M449.4 193.6h1.7m1.7 0h1.7m15.2 0h1.7m30.5 0h1.7m1.7 0h1.7M368.7 195.6h1.7m16.9 0h1.7m13.6 0h1.7m6.7 0h1.7m20.3 0h1.7m1.7 0h1.7m16.4 0h1.7m1.7 0h1.7m1.7 0h3.3m5.1 0h5.1m1.7 0h1.7m17 0h1.6m10.2 0h3.4"/>
<path stroke="#080a20" stroke-width="2.00" d="M348.4 27.2h1.7m40.6 0h1.7m1.7 0h3.4m1.7 0h1.7m45.1 0h3.4m3.4 0h1.7m52.5 0h1.7m1.7 0h1.7M454.5 29.2h6.8m3.3 0h1.7m20.4 0h1.7m8.4 0h1.7m6.8 0h1.7M449.4 31.2h1.7m10.2 0h1.6m3.4 0h1.7m15.3 0h1.7m8.5 0h1.7m5 0h1.7m8.5 0h1.7M341.6 33.2h1.7m52.5 0h1.7m23.7 0h1.7m18.6 0h1.7m2.8 0h1.7m16.9 0h1.7m1.7 0h1.7m6.8 0h3.4m3.4 0h1.7M346.7 35.2h3.4m15.2 0h1.7m5.1 0h3.4m15.2 0h1.7m23.7 0h1.7m16.9 0h1.7m6.8 0h1.7m4.5 0h1.7m42.4 0h1.7M355.1 37.2h1.7m89.2 0h1.7m3.4 0h5.1m39 0h1.6M341.6 39.2h1.7m45.7 0h1.7m1.7 0h1.7m51.9 0h1.7m1.7 0h1.7m5.1 0h1.7m1.7 0h1.7m27.1 0h1.7m3.4 0h1.7M341.6 41.2h1.7m5.1 0h1.7m42.3 0h1.7m1.7 0h1.7m57 0h1.7m35.6 0h3.4m3.3 0h1.7M370.4 43.2h1.7m20.3 0h1.7m73.9 0h1.7m10.2 0h1.7m1.7 0h1.7m11.8 0h3.4m3.4 0h1.7m1.7 0h1.7M355.1 45.2h1.7m15.3 0h3.4m13.5 0h1.7m1.7 0h1.7m37.3 0h1.6m1.7 0h1.7m57.1 0h5m3.4 0h1.7m6.8 0h1.7M394.1 47.2h3.4m16.9 0h1.7m1.7 0h1.7m22 0h1.7m2.8 0h1.7m1.7 0h1.7m5.1 0h1.7m3.4 0h1.6m1.7 0h1.7m17 0h1.7m15.2 0h1.7m1.7 0h1.7m1.7 0h1.7M392.4 49.3h1.7m1.7 0h1.7m15.2 0h1.7m6.8 0h1.7m8.5 0h1.6m23.2 0h3.4m3.3 0h3.4m1.7 0h1.7m13.6 0h5.1m13.5 0h1.7M341.6 51.3h1.7m30.5 0h1.7m33.8 0h1.7m6.8 0h1.7m11.9 0h1.6m16.4 0h3.4m6.8 0h1.7m8.4 0h1.7m15.3 0h1.7m10.1 0h1.7m3.4 0h1.7m1.7 0h1.7M348.4 53.3h1.7m5 0h1.7m10.2 0h1.7m3.4 0h1.7m16.9 0h1.7m1.7 0h5.1m8.4 0h1.7m20.4 0h1.7m6.7 0h1.7m1.7 0h1.7m7.9 0h1.7m5.1 0h1.7m37.2 0h1.7m11.9 0h1.7M392.4 55.3h1.7m27.1 0h1.7m26.5 0h1.7m8.5 0h1.7m6.7 0h1.7m17 0h1.7m8.4 0h1.7m1.7 0h1.7m6.8 0h1.7M441.5 57.3h1.7m23.1 0h1.7m18.7 0h3.4m20.3 0h1.7M348.4 59.3h1.7m6.7 0h1.7m97.7 0h1.7m5 0h1.7m8.5 0h1.7m8.5 0h1.7m1.7 0h3.4m6.7 0h1.7m1.7 0h5.1m5.1 0h1.7M348.4 61.3h1.7m6.7 0h1.7m30.5 0h1.7m60.4 0h1.7m13.5 0h1.7m27.2 0h3.3m3.4 0h1.7M343.3 63.3h1.7m22 0h1.7m27.1 0h1.7m60.4 0h3.4m22 0h1.7m1.7 0h1.7M345 65.3h1.7m3.4 0h1.7m1.7 0h1.6m33.9 0h1.7m1.7 0h1.7m22 0h3.4m1.7 0h1.7m1.7 0h1.7m11.8 0h1.7m45.2 0h1.7M350.1 67.3h1.7m5 0h1.7m30.5 0h1.7m18.6 0h1.7m63.8 0h1.7m1.7 0h1.7M341.6 69.3h3.4m44 0h1.7m5.1 0h1.7m51.9 0h1.7m15.2 0h1.7m22.1 0h1.7M358.5 71.3h1.7m35.6 0h1.7m16.9 0h1.7m8.5 0h1.7m11.8 0h1.7m19.8 0h3.3m27.2 0h1.7M350.1 73.3h1.7m3.3 0h1.7m10.2 0h1.7m23.7 0h1.7m5.1 0h1.7m37.2 0h1.7m1.7 0h1.7m21.4 0h3.4m3.4 0h3.4m3.4 0h1.7M350.1 75.3h3.4m10.1 0h1.7m8.5 0h1.7m3.4 0h1.6m6.8 0h1.7m8.5 0h1.7m6.8 0h1.6m20.4 0h1.7M350.1 77.3h1.7m5 0h1.7m6.8 0h1.7m5.1 0h1.7m25.4 0h1.7m3.4 0h1.7m28.7 0h1.7m5.1 0h1.7m29.9 0h1.7M351.8 79.3h1.7m6.7 0h1.7m5.1 0h1.7m6.8 0h5m1.7 0h1.7m8.5 0h1.7m16.9 0h1.7m15.3 0h1.7m3.3 0h3.4m1.7 0h3.4m18.1 0h1.7m1.6 0h1.7M343.3 81.3h1.7m6.8 0h1.7m5 0h3.4m10.2 0h1.7m6.7 0h1.7m18.7 0h1.7m6.7 0h3.4m1.7 0h1.7m13.6 0h1.7m11.8 0h1.7m9.6 0h1.7m33.9 0h1.7M356.8 83.3h1.7m32.2 0h1.7m3.4 0h3.4m1.7 0h1.7m1.7 0h1.7m8.4 0h1.7m1.7 0h1.7m5.1 0h1.7m13.5 0h1.7M406 85.3h1.6m10.2 0h1.7m15.2 0h1.7m23.2 0h1.7m3.3 0h1.7m1.7 0h1.7M355.1 87.3h1.7m23.7 0h1.7m13.6 0h3.4m13.5 0h5.1m13.6 0h1.6m6.8 0h1.7M392.4 89.3h1.7m1.7 0h1.7m1.7 0h3.4m5 0h1.7m1.7 0h1.7m1.7 0h3.4m6.8 0h1.7m5.1 0h1.6M378.9 91.4h1.6m3.4 0h1.7m11.9 0h1.7m23.7 0h1.7m3.4 0h1.7m5 0h1.7m6.8 0h1.7m16.4 0h1.6m3.4 0h1.7m18.7 0h1.7m6.8 0h1.6m3.4 0h1.7m6.8 0h1.7M387.3 93.4h3.4m1.7 0h1.7m3.4 0h1.7m11.8 0h3.4m5.1 0h1.7m10.2 0h1.6m10.2 0h1.7m11.3 0h1.7m5 0h1.7m22.1 0h1.7m8.4 0h1.7m6.8 0h1.7M395.8 95.4h1.7m1.7 0h1.7m15.2 0h1.7m1.7 0h1.7m10.2 0h1.6m6.8 0h1.7m18.1 0h1.7M395.8 97.4h1.7m1.7 0h3.4m13.5 0h1.7m53.6 0h1.7m37.3 0h1.7M411 99.4h6.8m6.8 0h1.7m3.4 0h1.7m3.3 0h5.1m1.7 0h1.7m2.8 0h1.7m8.5 0h1.7m6.7 0h1.7m3.4 0h1.7m1.7 0h1.7m13.6 0h1.7M389 101.4h1.7m1.7 0h1.7m3.4 0h1.7m1.7 0h1.7m6.7 0h1.7m3.4 0h1.7m3.4 0h1.7m5.1 0h1.7m1.7 0h1.7m5 0h1.7m19.8 0h1.7m10.1 0h1.7m1.7 0h1.7M395.8 103.4h1.7m28.8 0h3.4m5 0h1.7m28.2 0h1.7m1.7 0h1.7m1.7 0h3.4m3.4 0h1.7M416.1 105.4h1.7m5.1 0h1.7m16.9 0h1.7m18.1 0h1.6m6.8 0h5.1m30.5 0h1.7M389 107.4h1.7m32.2 0h1.7m5.1 0h1.7m11.8 0h1.7m31.6 0h3.4M414.4 109.4h1.7m3.4 0h1.7m5.1 0h1.7m1.7 0h1.7m3.3 0h3.4m21.5 0h1.7m3.3 0h1.7m11.9 0h1.7m13.6 0h1.7m15.2 0h1.7M392.4 111.4h1.7m1.7 0h1.7m3.4 0h1.7m13.5 0h1.7m11.9 0h1.7m5 0h1.7m24.8 0h1.7m1.7 0h1.7m3.4 0h10.2m5.1 0h1.7m20.3 0h1.7M373.8 113.4h1.7m22 0h1.7m20.3 0h1.7m1.7 0h3.4m10.1 0h1.7m26.5 0h1.7m3.4 0h1.7m1.7 0h3.4m3.4 0h1.7m6.8 0h1.7m3.4 0h1.7M356.8 115.4h1.7m18.7 0h3.3m10.2 0h1.7m1.7 0h1.7m22 0h1.7m6.8 0h1.7m10.1 0h1.7m35 0h3.4M372.1 117.4h1.7m1.7 0h1.7m10.1 0h5.1m1.7 0h1.7m10.2 0h1.6m3.4 0h1.7m6.8 0h1.7m5.1 0h1.7m1.7 0h1.7m11.8 0h1.7m16.4 0h1.6m1.7 0h3.4m11.9 0h1.7m6.8 0h1.7m1.7 0h1.7M356.8 119.4h1.7m8.5 0h1.7m13.5 0h1.7m1.7 0h3.4m5.1 0h1.7m35.6 0h3.3m5.1 0h1.7m1.7 0h1.7m26.5 0h1.7m1.7 0h1.7m20.3 0h1.7M372.1 121.4h1.7m10.1 0h1.7m3.4 0h1.7m1.7 0h1.7m1.7 0h3.4m13.5 0h3.4m1.7 0h5.1m1.7 0h1.7m6.7 0h1.7m74 0h1.7M367 123.4h1.7m1.7 0h3.4m8.4 0h1.7m8.5 0h3.4m15.2 0h5.1m1.7 0h1.7m5.1 0h1.7m6.7 0h3.4m5.1 0h1.7m46.9 0h1.7m8.4 0h1.7M355.1 125.4h1.7m20.4 0h1.7m3.3 0h1.7m10.2 0h1.7m3.4 0h1.7m8.4 0h1.7m23.7 0h1.7m24.9 0h1.6M358.5 127.4h1.7m15.3 0h1.7m10.1 0h1.7m5.1 0h1.7m15.2 0h5.1m3.4 0h1.7m3.4 0h1.7m6.7 0h1.7m6.8 0h3.4M348.4 129.4h1.7m1.7 0h1.7m1.6 0h1.7m8.5 0h3.4m10.2 0h1.6m35.6 0h1.7m77.4 0h1.6m3.4 0h3.4M341.6 131.4h1.7m3.4 0h1.7m5.1 0h3.3m1.7 0h1.7m3.4 0h1.7m11.9 0h1.7m45.7 0h1.7m5.1 0h1.6m5.1 0h1.7m3.4 0h1.7m16.4 0h1.6M341.6 133.5h1.7m20.3 0h1.7m1.7 0h1.7m1.7 0h1.7m6.8 0h1.6m6.8 0h1.7m1.7 0h1.7m13.6 0h3.3m3.4 0h1.7m3.4 0h3.4m11.8 0h1.7m55.4 0h1.7m3.4 0h1.6M341.6 135.5h1.7m13.5 0h1.7m18.7 0h1.7m15.2 0h1.7m3.4 0h3.4m1.7 0h1.7m3.3 0h1.7m13.6 0h1.7m5.1 0h1.6M346.7 137.5h1.7m6.7 0h1.7m1.7 0h1.7m5.1 0h1.7m6.8 0h3.4m1.7 0h1.6m6.8 0h1.7m5.1 0h1.7m1.7 0h1.7m18.6 0h1.7m8.5 0h1.7m3.3 0h1.7m3.4 0h1.7m19.8 0h1.7m3.3 0h1.7m32.2 0h1.7M341.6 139.5h1.7m10.2 0h3.3m1.7 0h1.7m18.7 0h1.6m3.4 0h1.7m23.7 0h1.7m1.7 0h1.7m1.7 0h1.7m3.4 0h1.7m16.9 0h1.7m1.7 0h1.7m4.5 0h1.7m30.5 0h1.7M345 141.5h1.7m20.3 0h1.7m16.9 0h1.7m5.1 0h1.7m6.8 0h1.7m18.6 0h1.7m11.8 0h1.7m16.4 0h1.7m15.2 0h1.7m27.1 0h1.7m1.7 0h3.4M348.4 143.5h3.4m27.1 0h3.3m3.4 0h3.4m3.4 0h1.7m1.7 0h1.7m15.2 0h1.7m25.4 0h1.7m21.4 0h1.7m5.1 0h3.4M341.6 145.5h1.7m20.3 0h1.7m1.7 0h1.7m6.8 0h1.7m6.7 0h1.7m6.8 0h1.7m1.7 0h1.7m6.8 0h1.7m3.3 0h1.7m3.4 0h3.4m3.4 0h1.7m15.2 0h3.4m23.1 0h1.7m3.4 0h1.7m1.7 0h1.7m25.4 0h1.7m1.7 0h1.7m3.4 0h1.7M358.5 147.5h1.7m8.5 0h1.7m5.1 0h1.7m5 0h1.7m27.1 0h1.7m3.4 0h1.7m16.9 0h1.7m6.8 0h1.7m4.5 0h1.7m15.2 0h1.7m6.8 0h1.7m18.7 0h1.6m5.1 0h1.7M367 149.5h1.7m10.2 0h1.6m15.3 0h1.7m3.4 0h1.7m37.2 0h1.7m19.8 0h3.3m3.4 0h1.7m28.8 0h1.7M368.7 151.5h5.1m44 0h1.7m3.4 0h1.7m3.4 0h1.7m1.7 0h1.6m5.1 0h1.7m3.4 0h1.7m21.4 0h1.7m1.7 0h1.7m3.4 0h1.7m11.9 0h1.7M372.1 153.5h1.7m15.2 0h1.7m27.1 0h1.7m84.1 0h1.7m3.4 0h1.7M343.3 155.5h1.7m1.7 0h1.7m3.4 0h1.7m23.7 0h1.7m3.3 0h1.7m5.1 0h1.7m1.7 0h1.7m3.4 0h1.7m15.2 0h1.7m8.5 0h1.7m15.2 0h3.4m45.2 0h1.7m10.1 0h5.1M341.6 157.5h1.7m6.8 0h1.7m30.4 0h1.7m13.6 0h1.7m11.8 0h5.1m10.2 0h1.7m5 0h1.7m5.1 0h5.1m48.6 0h1.7m1.6 0h1.7M353.5 159.5h1.6m17 0h1.7m1.7 0h1.7m6.7 0h5.1m30.5 0h1.7m68.9 0h1.7m10.1 0h1.7M372.1 161.5h1.7m11.8 0h1.7m3.4 0h1.7m18.6 0h1.7m10.2 0h1.7m13.5 0h1.7m53.7 0h1.7m10.1 0h1.7M341.6 163.5h1.7m5.1 0h1.7m8.4 0h1.7m13.6 0h1.7m6.7 0h1.7m10.2 0h1.7m1.7 0h1.7m20.3 0h1.7m5.1 0h5.1m8.4 0h1.7m48.6 0h1.7m3.4 0h1.6m11.9 0h1.7M341.6 165.5h1.7m1.7 0h1.7m3.4 0h1.7m1.7 0h1.6m5.1 0h1.7m10.2 0h1.7m6.7 0h1.7m3.4 0h1.7m15.3 0h1.7m10.1 0h1.7m3.4 0h1.7m5.1 0h1.7m1.7 0h1.7m55.3 0h1.7m18.6 0h1.7M345 167.5h1.7m18.6 0h1.7m3.4 0h1.7m3.4 0h1.7m10.1 0h1.7m27.1 0h1.7m10.2 0h1.7m68.8 0h3.4M443.2 169.5h1.7m1.1 0h1.7m11.9 0h5m15.3 0h1.7m22 0h1.7m1.7 0h1.7M345 171.5h1.7m22 0h1.7m23.7 0h1.7m20.3 0h1.7m11.9 0h1.7m6.7 0h1.7m3.4 0h1.7m45.2 0h1.7M351.8 173.5h1.7m5 0h1.7m3.4 0h1.7m11.9 0h6.7m33.9 0h1.7m1.7 0h1.7m15.2 0h3.4M343.3 175.6h3.4m6.8 0h1.6m5.1 0h1.7m1.7 0h3.4m3.4 0h3.4m5.1 0h3.3m6.8 0h1.7m10.2 0h1.7m1.7 0h1.7m3.3 0h1.7m13.6 0h1.7M353.5 177.6h1.6m8.5 0h1.7m3.4 0h1.7m23.7 0h1.7m23.7 0h3.4m3.4 0h1.7m3.4 0h1.6m3.4 0h5.1m19.8 0h1.6m17 0h1.7m8.5 0h1.7M353.5 179.6h1.6m6.8 0h1.7m13.6 0h1.7m1.6 0h1.7m1.7 0h1.7m8.5 0h1.7m23.7 0h1.7m11.8 0h1.7m5.1 0h1.7m18.1 0h1.7m38.9 0h1.7M350.1 181.6h1.7m8.4 0h1.7m13.6 0h1.7m1.7 0h1.6m1.7 0h1.7m6.8 0h1.7m1.7 0h1.7m10.2 0h1.6m5.1 0h3.4m18.6 0h1.7m3.4 0h1.7M345 183.6h1.7m6.8 0h1.6m5.1 0h1.7m1.7 0h1.7m28.8 0h1.7m10.2 0h1.6m1.7 0h1.7m3.4 0h1.7m3.4 0h1.7m6.8 0h1.7m1.7 0h1.6m57.1 0h1.7M343.3 185.6h1.7m8.5 0h1.6m28.8 0h1.7m1.7 0h1.7m17 0h1.6m6.8 0h1.7m10.2 0h1.7m3.4 0h1.6m67.2 0h1.7M350.1 187.6h1.7m1.7 0h1.6m3.4 0h1.7m20.3 0h1.7m22.1 0h1.7m8.4 0h3.4m10.2 0h3.4m29.9 0h1.6M345 189.6h1.7m23.7 0h1.7m5.1 0h5m1.7 0h1.7m25.4 0h1.7m5.1 0h1.7m5.1 0h1.7m33.3 0h3.3m27.2 0h1.7m6.7 0h1.7M353.5 191.6h1.6m6.8 0h1.7m11.9 0h1.7m6.7 0h3.4m3.4 0h1.7m27.1 0h1.7m8.5 0h1.7m18 0h1.7m3.4 0h1.7M360.2 193.6h1.7m1.7 0h1.7m3.4 0h1.7m8.5 0h1.6m5.1 0h3.4m1.7 0h1.7m8.5 0h1.7m3.4 0h1.6m5.1 0h3.4m3.4 0h3.4m15.2 0h1.7m35 0h1.7m22 0h1.7M343.3 195.6h1.7m20.3 0h3.4m3.4 0h1.7m3.4 0h1.7m25.4 0h3.3m5.1 0h1.7m3.4 0h5.1m5.1 0h1.7m11.8 0h1.7"/>
<path stroke="#383719" stroke-width="2.00" d="M356.8 27.2h1.7m20.4 0h1.6m1.7 0h1.7m22.1 0h1.6m11.9 0h1.7m5.1 0h1.7m8.4 0h1.7M351.8 29.2h1.7m6.7 0h1.7m1.7 0h1.7m1.7 0h1.7m6.8 0h1.7m3.3 0h1.7m18.7 0h1.7m6.7 0h1.7m5.1 0h1.7m1.7 0h1.7M346.7 31.2h1.7m1.7 0h1.7m8.4 0h1.7m13.6 0h3.4m3.3 0h3.4m13.6 0h1.7m13.5 0h1.7m3.4 0h1.7m5.1 0h3.4m8.4 0h1.7M350.1 33.2h3.4m47.4 0h1.7m1.7 0h1.7m6.7 0h1.7m8.5 0h1.7m1.7 0h1.7m8.4 0h1.7M409.3 35.2h5.1M345 37.2h1.7m13.5 0h1.7m8.5 0h1.7m27.1 0h1.7m35.5 0h3.4M345 39.2h1.7m15.2 0h1.7m11.9 0h1.7m3.3 0h1.7m15.3 0h1.7m5.1 0h1.7m3.3 0h1.7m1.7 0h1.7m15.3 0h1.7m8.4 0h1.7m1.7 0h1.7M343.3 41.2h1.7m5.1 0h1.7m10.1 0h1.7m5.1 0h1.7m5.1 0h1.7m1.7 0h1.6m27.1 0h1.7m1.7 0h1.7m17 0h1.7m16.3 0h1.7M350.1 43.2h1.7m5 0h1.7m5.1 0h1.7m8.5 0h1.7m3.4 0h1.6m23.8 0h1.7m1.6 0h1.7m10.2 0h1.7m22 0h1.7m2.8 0h1.7M351.8 45.2h3.3m3.4 0h1.7m15.3 0h3.4m11.8 0h1.7m27.1 0h1.7m8.5 0h1.7m8.4 0h1.7M343.3 47.2h3.4m3.4 0h1.7m71.1 0h1.7m13.5 0h1.7m3.4 0h1.7m2.8 0h1.7M350.1 49.3h1.7m5 0h1.7m1.7 0h1.7m13.6 0h1.7m5 0h1.7m1.7 0h1.7m13.6 0h1.7m6.7 0h1.7m27.1 0h3.4m1.7 0h1.7m2.8 0h1.7M350.1 51.3h1.7m3.3 0h3.4m22 0h1.7m23.8 0h1.6m15.3 0h1.7m18.6 0h1.7M433 53.3h1.7M373.8 55.3h1.7m1.7 0h1.7m8.4 0h1.7m23.7 0h1.7m8.5 0h1.7M367 57.3h1.7m6.8 0h1.7m30.4 0h1.7m6.8 0h1.7m1.7 0h3.4m5.1 0h1.7m28.2 0h1.7M345 59.3h1.7m11.8 0h1.7m6.8 0h1.7m32.2 0h1.7m13.5 0h3.4m15.2 0h1.7m1.7 0h1.7m3.4 0h1.7M373.8 61.3h1.7m5 0h1.7m1.7 0h1.7m25.4 0h1.7m1.7 0h3.4m22 0h1.7M353.5 63.3h1.6m6.8 0h1.7m13.6 0h3.3m25.5 0h1.6m15.3 0h1.7m8.4 0h1.7m5.1 0h1.7m11.3 0h1.7M360.2 65.3h3.4m33.9 0h1.7m1.7 0h1.7m8.4 0h1.7m10.2 0h1.7m5.1 0h1.7m24.8 0h1.7m25.4 0h1.7m6.8 0h1.7m3.3 0h1.7M343.3 67.3h1.7m16.9 0h1.7m8.5 0h1.7m6.7 0h1.7m1.7 0h1.7m11.9 0h3.4m6.7 0h1.7m27.1 0h1.7m18.1 0h1.7m25.4 0h1.7m10.2 0h1.6M358.5 69.3h1.7m18.7 0h1.6m5.1 0h1.7m3.4 0h1.7m11.9 0h1.7m16.9 0h1.7m26.5 0h1.7m30.5 0h1.7m1.7 0h1.7m5.1 0h5m5.1 0h1.7M436.4 71.3h1.7m5.1 0h1.7m1.1 0h5.1m33.9 0h1.7m11.8 0h1.7m5.1 0h3.4M387.3 73.3h1.7m11.9 0h1.7m15.2 0h1.7m10.2 0h1.7m11.8 0h1.7m1.1 0h1.7m6.8 0h1.7m30.5 0h1.7M385.6 75.3h1.7m15.3 0h1.7m15.2 0h1.7m1.7 0h1.7m26.5 0h3.4m3.4 0h1.7m28.8 0h1.7M377.2 77.3h1.7m3.3 0h1.7m33.9 0h3.4m24.8 0h1.7m1.7 0h1.7m33.9 0h1.7m1.7 0h1.7m13.5 0h1.7M422.9 79.3h1.7m21.4 0h1.7m39 0h1.7m16.9 0h1.7M447.7 81.3h1.7m37.3 0h1.7m20.3 0h1.7M383.9 83.3h3.4m15.3 0h1.7m18.6 0h1.7m8.4 0h1.7m16.4 0h1.7m33.9 0h3.4m11.8 0h1.7M350.1 85.3h3.4m10.1 0h1.7m16.9 0h1.7m3.4 0h1.7m30.5 0h1.7m31.6 0h1.7m32.2 0h1.7m6.8 0h1.6M346.7 87.3h5.1m8.4 0h1.7m5.1 0h1.7m10.2 0h1.6m1.7 0h3.4m5.1 0h1.7m30.5 0h1.7m31.6 0h1.7m45.7 0h1.7M341.6 89.3h1.7m8.5 0h3.3m22.1 0h1.7m5 0h5.1m57 0h1.7m6.8 0h1.7m39 0h3.3m8.5 0h3.4M341.6 91.4h1.7m3.4 0h1.7m1.7 0h1.7m16.9 0h1.7m32.2 0h1.7m87.5 0h1.7m13.5 0h1.7M350.1 93.4h1.7m13.5 0h1.7m23.7 0h1.7m55.3 0h1.7M356.8 95.4h1.7m8.5 0h1.7m1.7 0h1.7m15.2 0h1.7m5.1 0h1.7m57 0h1.7M360.2 97.4h1.7m10.2 0h1.7m1.7 0h3.4m5 0h3.4m15.3 0h1.7M355.1 99.4h1.7m10.2 0h1.7m3.4 0h1.7m20.3 0h1.7M358.5 101.4h3.4m15.3 0h1.7m1.6 0h3.4m18.7 0h1.7M353.5 103.4h3.3m28.8 0h1.7m1.7 0h1.7m45.7 0h1.7m9.6 0h1.7M372.1 105.4h1.7m5.1 0h3.3M365.3 107.4h1.7m10.2 0h3.3m5.1 0h1.7m63.8 0h1.7M356.8 109.4h1.7m8.5 0h1.7m1.7 0h1.7m11.8 0h3.4m15.3 0h1.7m46.8 0h1.7M355.1 111.4h1.7m6.8 0h1.7m1.7 0h1.7m15.2 0h1.7m65.5 0h1.7m3.4 0h1.7M360.2 113.4h1.7m1.7 0h3.4m1.7 0h1.7m72.8 0h1.7m1.1 0h1.7M358.5 115.4h1.7m1.7 0h1.7m87.5 0h1.7M361.9 117.4h1.7m84.1 0h1.7m5.1 0h1.7m1.7 0h1.7M341.6 119.4h1.7m25.4 0h1.7m75.6 0h1.7m6.8 0h1.7M351.8 121.4h3.3m13.6 0h1.7m32.2 0h1.7m45.1 0h1.7m15.2 0h1.7M341.6 123.4h1.7m16.9 0h1.7m23.7 0h1.7m3.4 0h1.7m30.5 0h1.7m46.8 0h1.7m35.6 0h1.7M350.1 125.4h3.4m97.6 0h1.7m11.8 0h1.7m5.1 0h1.7m6.8 0h1.7m20.3 0h1.7m1.7 0h3.4M471.4 127.4h1.7m1.7 0h1.7m3.4 0h1.7m1.7 0h1.7m3.4 0h1.7m3.4 0h1.7m10.1 0h1.7M343.3 129.4h1.7m102.7 0h1.7m3.4 0h1.7m15.2 0h1.7m5.1 0h1.7m1.7 0h1.7m1.7 0h1.7M343.3 131.4h1.7m141.7 0h3.4m3.4 0h1.7m1.6 0h1.7M476.5 133.5h1.7m20.3 0h1.7m6.8 0h1.7M358.5 135.5h1.7m83 0h1.7m1.1 0h1.7m5.1 0h1.7m5.1 0h1.7m42.3 0h3.4m1.7 0h1.7M361.9 137.5h1.7m20.3 0h1.7m60.4 0h1.7m45.8 0h1.7M402.6 139.5h1.7m43.4 0h1.7m27.1 0h3.4M402.6 141.5h1.7m79 0h1.7M345 143.5h1.7m16.9 0h1.7m3.4 0h1.7m49.1 0h1.7m1.7 0h1.7m3.4 0h1.7m6.7 0h1.7m13 0h1.7m20.3 0h1.7m6.8 0h1.7m1.7 0h1.7m10.1 0h1.7M377.2 145.5h1.7m44 0h1.7m5.1 0h1.7m1.6 0h1.7m50.3 0h1.7m3.4 0h1.7m3.4 0h1.6M433 147.5h1.7m41.8 0h1.7m5.1 0h1.7M422.9 149.5h1.7m8.4 0h1.7m14.7 0h3.4m30.5 0h1.7m8.5 0h1.7M451.1 151.5h1.7m5.1 0h1.7M351.8 153.5h3.3m3.4 0h3.4m32.2 0h1.7m6.8 0h1.7m41.7 0h1.7m13.6 0h1.6m6.8 0h1.7m8.5 0h1.7m1.7 0h1.7m3.4 0h1.7m1.7 0h1.7m3.3 0h1.7M454.5 155.5h1.7m18.6 0h3.4m1.7 0h1.7m5.1 0h1.7M368.7 157.5h1.7m67.7 0h1.7m9.6 0h1.7m8.5 0h1.7m13.5 0h1.7M343.3 159.5h1.7m16.9 0h1.7m89.2 0h1.7m3.4 0h1.7m5 0h1.7m1.7 0h1.7m6.8 0h1.7m5.1 0h3.4M368.7 161.5h1.7m92.5 0h1.7m11.9 0h1.7m5.1 0h1.7m6.8 0h1.7M370.4 163.5h1.7m73.9 0h1.7m15.2 0h1.7m17 0h1.7m5.1 0h1.7m20.3 0h1.7M446 165.5h1.7m6.8 0h1.7m13.5 0h1.7m1.7 0h1.7m8.5 0h1.7M358.5 167.5h1.7m76.2 0h1.7m11.3 0h3.4m11.8 0h1.7m5.1 0h1.7m6.8 0h3.4m22 0h1.7m3.4 0h1.7M478.2 169.5h1.7m8.5 0h1.7m18.6 0h1.7M456.2 171.5h1.7m6.7 0h3.4m11.9 0h1.7m25.4 0h1.7m1.7 0h1.7M449.4 173.5h1.7m5.1 0h1.7m1.7 0h3.3m3.4 0h1.7m1.7 0h3.4m13.6 0h1.7m5.1 0h1.7m6.7 0h1.7M446 175.6h1.7m20.3 0h1.7m5.1 0h1.7m8.5 0h1.7m13.5 0h6.8m1.7 0h1.7M466.3 177.6h1.7m42.4 0h1.7M446 179.6h3.4m3.4 0h1.7m8.4 0h5.1m1.7 0h1.7m11.9 0h1.7m3.4 0h1.7m3.4 0h1.7M451.1 181.6h1.7m3.4 0h3.4m13.5 0h3.4m10.2 0h1.7m16.9 0h1.7m1.7 0h1.7M436.4 183.6h1.7m11.3 0h1.7m3.4 0h1.7m28.8 0h1.7m8.5 0h1.6m1.7 0h3.4m1.7 0h1.7M454.5 185.6h3.4m6.7 0h3.4m1.7 0h3.4m5.1 0h3.4m5.1 0h1.7m16.9 0h5.1M447.7 187.6h1.7m23.7 0h1.7m1.7 0h1.7m5.1 0h1.7m6.8 0h1.7m3.3 0h1.7M476.5 189.6h3.4m30.5 0h1.7M456.2 191.6h1.7m11.8 0h1.7m6.8 0h1.7m13.6 0h1.7m3.3 0h1.7m3.4 0h1.7M443.2 193.6h1.7m9.6 0h3.4m10.1 0h1.7m3.4 0h1.7m8.5 0h1.7m1.7 0h1.7m15.2 0h1.7m3.4 0h1.7M451.1 195.6h3.4m1.7 0h1.7m6.7 0h1.7m1.7 0h1.7m20.4 0h1.7m6.7 0h1.7m1.7 0h3.4"/>
<path stroke="#5e5d2b" stroke-width="2.00" d="M358.5 27.2h1.7m50.8 0h1.7m20.3 0h1.7M350.1 29.2h1.7m27.1 0h1.6m3.4 0h3.4m39 0h1.7m8.4 0h3.4m3.4 0h1.7M343.3 31.2h3.4m6.8 0h1.6m6.8 0h5.1m33.9 0h1.7m3.4 0h1.6m1.7 0h1.7m11.9 0h1.7M353.5 33.2h1.6m3.4 0h1.7M361.9 35.2h1.7m5.1 0h1.7m11.8 0h1.7M363.6 39.2h1.7m67.7 0h1.7m1.7 0h3.4M400.9 41.2h1.7m1.7 0h1.7m6.7 0h3.4M353.5 43.2h1.6m6.8 0h1.7m42.4 0h1.6m1.7 0h1.7m27.1 0h1.7M402.6 45.2h1.7m1.7 0h1.6M355.1 47.2h1.7m5.1 0h1.7M345 49.3h1.7m11.8 0h1.7m1.7 0h1.7m5.1 0h1.7M358.5 51.3h1.7m25.4 0h1.7m49.1 0h1.7m58.7 0h1.7M353.5 53.3h1.6m47.5 0h1.7M361.9 55.3h3.4m13.6 0h1.6m25.5 0h1.6M360.2 57.3h3.4m22 0h3.4M370.4 59.3h1.7m27.1 0h1.7m3.4 0h1.7m23.7 0h1.7m1.6 0h1.7m1.7 0h1.7M370.4 61.3h1.7m13.5 0h1.7m50.8 0h1.7M368.7 63.3h1.7m15.2 0h1.7m27.1 0h1.7M368.7 65.3h1.7m11.8 0h5.1m60.4 0h1.7m3.4 0h1.7M378.9 67.3h1.6m5.1 0h1.7m18.7 0h1.6m11.9 0h1.7m1.7 0h1.7m5.1 0h1.7m11.8 0h1.7m2.8 0h1.7m3.4 0h3.4m32.2 0h1.7m8.4 0h1.7m3.4 0h1.7m3.4 0h1.7M507 69.3h3.4M368.7 71.3h1.7m32.2 0h1.7m89.2 0h5M422.9 73.3h1.7m8.4 0h1.7m16.4 0h1.7M447.7 75.3h1.7m49.1 0h1.7m1.7 0h1.7m1.7 0h1.7M422.9 77.3h1.7m31.6 0h1.7m28.8 0h1.7m13.5 0h1.7m3.4 0h1.7M503.6 79.3h1.7m3.4 0h1.7M491.8 81.3h1.7m11.8 0h3.4M368.7 83.3h1.7m77.3 0h1.7m49.1 0h1.7m3.4 0h1.7m1.7 0h1.7M346.7 85.3h1.7m5.1 0h1.6m6.8 0h1.7m5.1 0h1.7m13.5 0h1.7m111.2 0h1.7m8.5 0h1.7M343.3 87.3h1.7m16.9 0h1.7m129.9 0h1.7m1.6 0h1.7m11.9 0h1.7M343.3 89.3h1.7m1.7 0h1.7m13.5 0h1.7m128.2 0h1.7M343.3 91.4h1.7M348.4 93.4h1.7m3.4 0h1.6m5.1 0h1.7m5.1 0h1.7M350.1 95.4h1.7m3.3 0h1.7m3.4 0h1.7m13.6 0h1.7m6.7 0h1.7M363.6 97.4h1.7m5.1 0h1.7m18.6 0h1.7M365.3 99.4h1.7m6.8 0h1.7m3.4 0h3.3M356.8 101.4h1.7m3.4 0h3.4m20.3 0h1.7m60.4 0h1.7M365.3 103.4h1.7m3.4 0h1.7m11.8 0h1.7m67.2 0h1.7m1.7 0h1.7M353.5 105.4h1.6m10.2 0h1.7m8.5 0h1.7m6.7 0h1.7M353.5 107.4h1.6m3.4 0h3.4m6.8 0h1.7M454.5 109.4h1.7M350.1 111.4h1.7m10.1 0h1.7M346.7 113.4h3.4m3.4 0h1.6M341.6 115.4h1.7m3.4 0h1.7M341.6 117.4h1.7m5.1 0h1.7M343.3 119.4h1.7M341.6 121.4h1.7m5.1 0h1.7m95.9 0h1.7m3.4 0h3.4m22 0h1.7m10.2 0h1.7M345 123.4h1.7m22 0h1.7m32.2 0h1.7m84.1 0h1.7m16.9 0h1.7m1.7 0h1.7M468 125.4h1.7m6.8 0h1.7m25.4 0h1.7M343.3 127.4h1.7m102.7 0h1.7m16.9 0h1.7m8.5 0h1.7M478.2 129.4h1.7m25.4 0h1.7M478.2 131.4h1.7M510.4 133.5h1.7M476.5 135.5h3.4m3.4 0h1.7m6.8 0h1.7M402.6 137.5h1.7m75.6 0h1.7m1.7 0h1.7M483.3 139.5h1.7m6.8 0h1.7M478.2 141.5h1.7M353.5 143.5h1.6m97.7 0h1.7m25.4 0h1.7m6.8 0h1.7m1.7 0h3.4M447.7 145.5h1.7m25.4 0h1.7m6.8 0h1.7M361.9 147.5h1.7m124.8 0h1.7M447.7 149.5h1.7m39 0h1.7m1.7 0h1.7M452.8 151.5h1.7M361.9 153.5h1.7m5.1 0h1.7m62.6 0h1.7m41.8 0h3.4M446 157.5h1.7m28.8 0h1.7M368.7 159.5h1.7m85.8 0h1.7m1.7 0h1.7M447.7 161.5h1.7m16.9 0h1.7M451.1 163.5h1.7m1.7 0h3.4m10.1 0h3.4m3.4 0h1.7M368.7 165.5h1.7m80.7 0h1.7M446 167.5h1.7m10.2 0h1.7m10.1 0h1.7m3.4 0h1.7M491.8 169.5h1.7M505.3 171.5h1.7M452.8 173.5h1.7m33.9 0h1.7m1.7 0h1.7M451.1 175.6h1.7m13.5 0h1.7m8.5 0h1.7m1.7 0h1.7m1.7 0h1.7m3.4 0h1.7M447.7 177.6h1.7M468 181.6h5.1m10.2 0h1.7m3.4 0h1.7m3.4 0h1.7m3.3 0h1.7m10.2 0h1.7M447.7 183.6h1.7m1.7 0h1.7m25.4 0h1.7m27.1 0h3.4M503.6 187.6h3.4M466.3 189.6h1.7m23.8 0h1.7m13.5 0h1.7M491.8 191.6h1.7M447.7 193.6h1.7m42.4 0h3.4M486.7 195.6h1.7m5.1 0h1.7"/>
<path stroke="#141409" stroke-width="2.00" d="M365.3 27.2h3.4m8.5 0h1.7m18.6 0h1.7m5.1 0h1.7m23.7 0h1.7m8.4 0h1.7m1.7 0h1.7M341.6 29.2h1.7m1.7 0h1.7m18.6 0h1.7m5.1 0h1.7m25.4 0h1.7m16.9 0h1.7m1.7 0h1.7m1.7 0h1.7m1.7 0h1.7m5 0h1.7m9.6 0h1.7M356.8 31.2h1.7m8.5 0h1.7m3.4 0h1.7m42.3 0h1.7m16.9 0h1.7m68.9 0h1.7M345 33.2h1.7m8.4 0h1.7m13.6 0h1.7m3.4 0h5m5.1 0h3.4m42.4 0h1.6m1.7 0h1.7m3.4 0h1.7m1.7 0h1.7m2.8 0h1.7m44.1 0h1.7M350.1 35.2h3.4m5 0h1.7m17 0h1.7m6.7 0h1.7m32.2 0h1.7m1.7 0h1.7m13.5 0h1.7M350.1 37.2h3.4m3.3 0h1.7m6.8 0h1.7m8.5 0h1.7m3.3 0h1.7m15.3 0h1.7m5.1 0h1.7m16.9 0h3.4m13.5 0h1.7M343.3 39.2h1.7m25.4 0h1.7m1.7 0h1.7m6.7 0h1.7m3.4 0h1.7m1.7 0h1.7m1.7 0h1.7m20.3 0h1.7m1.7 0h1.7m3.4 0h1.7m8.4 0h1.7m33.3 0h1.7M355.1 41.2h1.7m6.8 0h1.7m5.1 0h1.7m5.1 0h1.7m49.1 0h1.7m11.8 0h1.7m7.9 0h1.7M355.1 43.2h1.7m8.5 0h1.7m8.5 0h1.7m13.5 0h1.7m6.8 0h1.7m23.7 0h1.7m24.8 0h1.7m35.6 0h1.7m3.4 0h1.7M343.3 45.2h3.4m20.3 0h1.7m11.8 0h1.7m3.4 0h1.7m13.6 0h1.7m1.7 0h1.7m3.3 0h1.7m3.4 0h1.7m10.2 0h1.7m5 0h1.7m3.4 0h1.7M372.1 47.2h1.7m5.1 0h1.6m10.2 0h1.7m11.9 0h1.7m3.3 0h3.4m3.4 0h1.7m3.4 0h1.7m3.4 0h1.7m6.7 0h3.4m13 0h1.7m40.7 0h3.3M341.6 49.3h3.4m20.3 0h3.4m1.7 0h1.7m1.7 0h1.7m5 0h1.7m5.1 0h1.7m1.7 0h1.7m27.1 0h1.7m3.4 0h3.4m23.1 0h1.7m40.7 0h1.7m13.5 0h3.4M346.7 51.3h3.4m15.2 0h1.7m8.5 0h1.7m6.7 0h1.7m11.9 0h3.4m10.1 0h3.4m1.7 0h1.7m1.7 0h1.7m3.4 0h1.7m3.4 0h1.7m3.3 0h1.7m3.4 0h1.7m52 0h1.7M345 53.3h1.7m28.8 0h3.4m3.3 0h3.4m15.3 0h1.7m1.7 0h1.7m8.4 0h1.7m18.6 0h1.7M346.7 55.3h1.7m8.4 0h1.7m13.6 0h1.7m10.1 0h1.7m8.5 0h3.4m10.1 0h1.7m8.5 0h1.7m8.5 0h3.4m6.7 0h3.4m6.2 0h1.7m3.4 0h1.7m39 0h1.7m10.1 0h1.7M365.3 57.3h1.7m6.8 0h1.7m16.9 0h1.7m30.5 0h1.7m8.4 0h1.7m9.6 0h1.7m1.7 0h1.7m40.7 0h1.7m10.1 0h3.4M360.2 59.3h1.7m3.4 0h1.7m5.1 0h3.4m13.5 0h1.7m1.7 0h3.4m23.7 0h3.4m8.5 0h1.6m58.8 0h1.7M351.8 61.3h3.3m32.2 0h1.7m1.7 0h1.7m1.7 0h1.7m5.1 0h1.7m5 0h1.7m18.7 0h6.7M341.6 63.3h1.7m15.2 0h1.7m33.9 0h1.7m3.4 0h1.7m11.8 0h1.7m22 0h1.7m3.4 0h1.7m62.1 0h1.7m3.4 0h1.7M343.3 65.3h1.7m20.3 0h1.7m5.1 0h3.4m11.8 0h1.7m10.2 0h1.7m18.6 0h1.7m11.8 0h1.7m24.9 0h1.7m27.1 0h1.7m10.1 0h1.7m6.8 0h1.7M353.5 67.3h1.6m5.1 0h1.7m8.5 0h1.7m23.7 0h1.7m13.5 0h3.4m20.3 0h1.7m13 0h1.7m11.8 0h1.7M353.5 69.3h1.6m6.8 0h3.4m5.1 0h3.4m1.7 0h3.4m3.3 0h3.4m13.6 0h1.7m5.1 0h1.6m6.8 0h1.7m1.7 0h1.7m8.5 0h1.7m6.7 0h3.4m6.2 0h1.7m5.1 0h3.4m1.7 0h1.7m1.7 0h1.6M378.9 71.3h1.6m5.1 0h1.7m10.2 0h1.7m20.3 0h1.7m6.8 0h3.4m3.3 0h1.7m18.1 0h1.7m1.7 0h1.7m49.1 0h1.7M353.5 73.3h1.6m8.5 0h1.7m10.2 0h3.4m25.4 0h1.7m5 0h1.7m3.4 0h1.7m13.6 0h1.6m3.4 0h1.7m1.7 0h1.7m7.9 0h1.7m5.1 0h3.4M345 75.3h1.7m37.2 0h1.7m8.5 0h1.7m22 0h1.7m5.1 0h1.7m3.4 0h1.7m5 0h1.7m18.1 0h1.7m27.1 0h1.7M343.3 77.3h1.7m6.8 0h1.7m22 0h1.7m1.7 0h1.6m3.4 0h5.1m3.4 0h1.7m16.9 0h1.7m3.4 0h1.7m3.4 0h1.7m1.7 0h3.4m5 0h1.7m1.7 0h3.4m3.4 0h1.7m13 0h3.4m22 0h1.7M383.9 79.3h3.4m3.4 0h1.7m27.1 0h1.7m8.5 0h1.7m19.7 0h1.7m5.1 0h1.7m25.4 0h1.7m13.5 0h1.7M385.6 81.3h1.7m15.3 0h1.7m11.8 0h1.7m5.1 0h1.7m63.8 0h1.7m10.1 0h1.7M351.8 83.3h3.3m5.1 0h1.7m18.6 0h3.4m37.3 0h1.7m15.2 0h1.7m13 0h3.4m1.7 0h1.7m1.7 0h1.6m20.4 0h1.7M365.3 85.3h1.7m5.1 0h1.7m1.7 0h3.4m1.6 0h1.7m8.5 0h1.7m5.1 0h1.7m5.1 0h1.7m20.3 0h1.7m1.7 0h1.7m29.9 0h1.6m20.4 0h3.4M373.8 87.3h1.7m10.1 0h1.7m32.2 0h1.7m24.8 0h1.7m10.2 0h1.7m1.7 0h1.6m20.4 0h1.7m5.1 0h1.7m3.4 0h1.6M348.4 89.3h1.7m10.1 0h1.7m8.5 0h1.7m3.4 0h1.7m5 0h1.7m18.7 0h1.7m18.6 0h1.7m1.7 0h1.7m1.7 0h1.7m18 0h1.7m35.6 0h1.7m13.5 0h3.4M348.4 91.4h1.7m1.7 0h3.3m8.5 0h5.1m1.7 0h1.7m82.4 0h1.7m37.3 0h1.7m10.1 0h1.7M380.5 93.4h3.4m18.7 0h1.7m18.6 0h1.7M373.8 95.4h1.7m5 0h3.4m18.7 0h1.7m1.7 0h1.6m15.3 0h1.7m11.8 0h1.7m18.1 0h1.7M378.9 97.4h3.3m47.5 0h1.7m16.3 0h1.7m5.1 0h1.7M389 99.4h1.7m6.8 0h1.7m23.7 0h1.7m26.5 0h3.4m37.3 0h1.7M378.9 101.4h1.6m3.4 0h1.7m5.1 0h1.7m53.6 0h1.7M380.5 103.4h1.7m5.1 0h1.7m8.5 0h1.7m30.5 0h1.7m8.4 0h1.7m13 0h1.7m3.4 0h1.7M382.2 105.4h1.7m6.8 0h1.7m53.6 0h1.7m1.7 0h5.1M373.8 107.4h1.7m11.8 0h1.7m13.6 0h1.7m33.8 0h1.7m14.7 0h1.7m3.4 0h3.3M373.8 109.4h1.7m11.8 0h1.7m33.9 0h1.7m18.6 0h1.7m7.9 0h1.7m1.7 0h1.7M358.5 111.4h3.4m10.2 0h3.4m10.1 0h3.4m33.9 0h1.7m18.6 0h1.7m7.9 0h3.4m1.7 0h1.7M351.8 113.4h1.7m16.9 0h1.7m8.4 0h1.7m1.7 0h1.7m5.1 0h1.7m10.2 0h1.7m48.5 0h1.7m5.1 0h1.7m10.1 0h1.7m3.4 0h3.4m11.9 0h1.7M350.1 115.4h1.7m1.7 0h1.6m5.1 0h1.7m8.5 0h1.7m15.2 0h1.7m33.9 0h1.7m21.4 0h1.7m1.7 0h1.7m1.7 0h1.7m3.4 0h1.7m5 0h1.7M358.5 117.4h1.7m3.4 0h1.7m11.9 0h1.7m80.7 0h1.7m1.6 0h1.7M351.8 119.4h1.7m10.1 0h1.7m25.4 0h1.7m57 0h1.7m5.1 0h1.7M363.6 121.4h3.4m15.2 0h1.7m39 0h1.7m1.7 0h1.7m8.4 0h1.7m5.1 0h1.7m23.1 0h1.7m11.9 0h1.7m3.4 0h1.7m8.4 0h1.7m5.1 0h5.1M355.1 123.4h1.7m5.1 0h1.7m52.5 0h1.7m11.9 0h1.7m18 0h1.7m8.5 0h1.7m25.4 0h1.7m8.4 0h1.7m5.1 0h1.7M341.6 125.4h1.7m59.3 0h1.7m18.6 0h1.7m1.7 0h1.7m5 0h1.7m21.5 0h1.7m23.7 0h1.7m3.4 0h3.4m5.1 0h6.7M385.6 127.4h1.7m63.8 0h1.7m28.8 0h1.7m13.5 0h1.7m3.4 0h1.7m5.1 0h3.4M346.7 129.4h1.7m106.1 0h1.7m6.7 0h1.7m1.7 0h1.7m35.6 0h1.7m3.4 0h1.7M351.8 131.4h1.7m69.4 0h1.7m11.8 0h1.7m13 0h1.7m10.1 0h5.1m1.7 0h1.7m28.8 0h3.4M343.3 133.5h3.4m35.5 0h1.7m1.7 0h1.7m39 0h1.7m29.9 0h1.7m13.5 0h3.4m25.4 0h1.7M343.3 135.5h1.7m8.5 0h1.6m6.8 0h1.7m16.9 0h1.7m1.7 0h1.7m10.2 0h1.7m13.5 0h1.7m6.8 0h3.4m3.4 0h1.7m1.7 0h1.7m18 0h1.7m10.2 0h1.6m3.4 0h1.7m3.4 0h1.7m6.8 0h3.4m15.2 0h1.7m1.7 0h1.7M377.2 137.5h1.7m40.6 0h1.7m10.2 0h1.6m18.1 0h1.7m23.7 0h1.7m3.4 0h1.7m1.7 0h1.7m1.7 0h1.7m5.1 0h1.6m5.1 0h1.7m3.4 0h5.1M345 139.5h1.7m15.2 0h3.4m57.6 0h1.7m3.4 0h3.4m21.4 0h3.4m10.1 0h1.7m1.7 0h1.7m8.5 0h1.7m5.1 0h1.7m8.4 0h3.4m8.5 0h3.4M361.9 141.5h1.7m59.3 0h1.7m1.7 0h1.7m1.7 0h1.7m14.6 0h5.1m23.7 0h3.4m6.8 0h1.7m10.1 0h1.7M356.8 143.5h5.1m13.6 0h1.7m16.9 0h1.7m3.4 0h3.4m1.7 0h1.7m5 0h1.7m11.9 0h1.7m8.4 0h1.7m28.2 0h3.4m37.3 0h1.7M353.5 145.5h1.6m3.4 0h1.7m1.7 0h1.7m1.7 0h1.7m18.6 0h1.7m39 0h1.7m3.4 0h1.6m13 0h1.7m5.1 0h1.7m25.4 0h3.4m18.6 0h1.7m3.4 0h1.7M353.5 147.5h1.6m5.1 0h1.7m1.7 0h1.7m61 0h3.4m8.4 0h1.7m11.3 0h1.7m1.7 0h1.7m25.4 0h1.7M353.5 149.5h1.6m6.8 0h1.7m30.5 0h1.7m20.3 0h1.7m18.6 0h1.7m14.7 0h1.7m18.6 0h1.7m1.7 0h3.4m16.9 0h1.7M358.5 151.5h1.7m1.7 0h1.7m66.1 0h1.7m16.3 0h3.4m32.2 0h1.7M345 153.5h1.7m28.8 0h3.4m13.5 0h1.7m6.8 0h1.7m6.7 0h1.7m20.4 0h1.6m35 0h1.7m11.9 0h1.7m22 0h1.7m3.4 0h1.7M358.5 155.5h1.7m40.7 0h1.7m1.7 0h1.7m13.5 0h1.7m10.2 0h1.6m5.1 0h1.7m19.8 0h1.7m5 0h1.7m5.1 0h1.7M345 157.5h1.7m47.4 0h1.7m6.8 0h1.7m32.1 0h1.7m24.8 0h1.7m5.1 0h1.7m8.5 0h3.4m1.7 0h1.7M350.1 159.5h1.7m8.4 0h1.7m1.7 0h1.7m1.7 0h1.7m104.4 0h3.4m3.4 0h3.4M345 161.5h1.7m6.8 0h1.6m15.3 0h1.7m80.7 0h1.7m18.6 0h1.7m5.1 0h3.4M343.3 163.5h1.7m1.7 0h1.7m15.2 0h3.4m55.9 0h1.7M358.5 165.5h1.7m89.2 0h1.7m6.8 0h1.7m1.7 0h1.6m17 0h1.7m10.2 0h1.7M343.3 167.5h1.7m6.8 0h3.3m5.1 0h1.7m40.7 0h1.7m55.3 0h1.7m1.6 0h1.7m22.1 0h1.7m8.4 0h1.7M429.7 169.5h1.7m21.4 0h1.7m10.1 0h1.7m1.7 0h1.7m5.1 0h1.7m10.2 0h1.7m16.9 0h1.7m3.4 0h1.7M402.6 171.5h1.7m45.1 0h3.4m1.7 0h1.7m1.7 0h1.7m1.7 0h1.6m8.5 0h1.7m1.7 0h1.7m10.2 0h3.4m5.1 0h1.6M368.7 173.5h1.7m49.1 0h1.7m53.6 0h1.7m22 0h1.7m8.5 0h1.7M385.6 175.6h3.4m45.7 0h1.7m26.5 0h1.7m6.8 0h1.7m8.5 0h1.7M443.2 177.6h1.7m1.1 0h1.7m6.8 0h5.1m3.3 0h1.7m8.5 0h1.7m8.5 0h1.7m3.4 0h1.7m5.1 0h3.3m6.8 0h1.7M451.1 179.6h1.7m20.3 0h1.7m5.1 0h1.7m3.4 0h1.7m11.8 0h1.7m1.7 0h1.7m1.7 0h1.7m1.7 0h3.4M368.7 181.6h1.7m13.5 0h1.7m33.9 0h1.7m1.7 0h1.7m1.7 0h1.7m15.2 0h1.7m4.5 0h1.7m10.2 0h1.6m39 0h1.7M361.9 183.6h1.7m74.5 0h1.7m3.4 0h1.7m29.9 0h1.7m3.4 0h1.7M368.7 185.6h1.7m62.6 0h1.7m26.6 0h1.6M422.9 187.6h1.7m21.4 0h1.7m1.7 0h1.7m3.4 0h5.1m3.3 0h1.7m3.4 0h1.7m5.1 0h1.7m8.5 0h1.7m1.7 0h1.7m8.4 0h1.7m1.7 0h1.7M426.3 189.6h1.7m5 0h1.7m1.7 0h1.7m7.9 0h1.7m10.2 0h1.7m5 0h1.7m1.7 0h1.7m25.5 0h3.3M402.6 191.6h1.7m43.4 0h1.7m3.4 0h1.7m10.1 0h1.7m5.1 0h5.1m5.1 0h1.7m11.9 0h3.3M353.5 193.6h1.6m67.8 0h1.7m26.5 0h1.7m5.1 0h1.7m3.3 0h3.4m10.2 0h3.4m15.3 0h1.6M358.5 195.6h1.7m49.1 0h1.7m11.9 0h1.7m21.4 0h1.7m49.1 0h1.7"/>
<path stroke="#060712" stroke-width="2.00" d="M370.4 27.2h3.4m42.3 0h1.7m3.4 0h1.7m8.5 0h1.6m50.3 0h1.7M373.8 29.2h1.7m11.8 0h1.7m1.7 0h1.7m1.7 0h1.7m55.3 0h1.7m23.7 0h1.7m5.1 0h1.7m10.2 0h1.6M394.1 31.2h1.7m25.4 0h1.7m1.7 0h1.7m24.8 0h1.7m5.1 0h1.7m27.1 0h1.7M473.1 33.2h1.7M341.6 35.2h3.4m11.8 0h1.7m8.5 0h1.7m10.2 0h1.6m17 0h1.7m8.4 0h1.7m8.5 0h1.7m1.7 0h1.7m1.7 0h1.7m1.7 0h1.7m6.7 0h1.7m3.4 0h1.7m4.5 0h1.7m1.7 0h1.7M367 37.2h1.7m8.5 0h1.7m6.7 0h1.7m28.8 0h1.7m16.9 0h1.7m55.4 0h3.4m10.1 0h1.7M372.1 39.2h1.7m67.7 0h1.7m7.9 0h1.7m1.7 0h1.7m40.6 0h1.7M390.7 41.2h1.7m5.1 0h1.7m50.2 0h1.7m16.9 0h1.7m1.7 0h1.7m10.2 0h1.7m20.3 0h1.7M387.3 43.2h3.4m3.4 0h1.7m53.6 0h1.7m1.7 0h5.1m5 0h1.7m13.6 0h1.7m20.3 0h1.7m6.8 0h3.4M341.6 45.2h1.7m22 0h1.7m3.4 0h1.7m6.8 0h1.6m37.3 0h1.7m1.7 0h1.7m29.9 0h1.7m45.7 0h1.7M346.7 47.2h3.4m15.2 0h1.7m10.2 0h1.7m28.7 0h1.7m18.7 0h1.7m28.2 0h1.7m6.7 0h1.7m20.4 0h1.7m15.2 0h1.7m1.7 0h1.7M372.1 49.3h1.7m15.2 0h1.7m6.8 0h3.4m16.9 0h1.7m8.5 0h1.7m5 0h1.7m9.6 0h1.7m5.1 0h1.7m11.8 0h1.7m20.4 0h1.7m1.7 0h1.7m13.5 0h1.7M370.4 51.3h1.7m5.1 0h1.7m10.1 0h1.7m10.2 0h1.7m5 0h1.7m11.9 0h1.7m10.1 0h1.7m18.1 0h1.7m40.7 0h1.6m5.1 0h1.7m1.7 0h1.7M360.2 53.3h1.7m3.4 0h1.7m6.8 0h1.7m3.4 0h3.3m5.1 0h1.7m10.2 0h1.7m8.4 0h1.7m8.5 0h1.7m3.4 0h1.7m16.9 0h1.7m1.1 0h1.7m6.8 0h1.7m35.6 0h3.4m3.3 0h1.7m5.1 0h1.7M341.6 55.3h1.7m5.1 0h1.7m20.3 0h1.7m82.4 0h1.7m13.5 0h3.4m10.2 0h1.7m6.8 0h1.7m16.9 0h1.7M348.4 57.3h1.7m109.5 0h1.7m1.6 0h1.7m13.6 0h1.7m3.4 0h1.7m23.7 0h1.7M424.6 59.3h1.7m15.2 0h1.7m14.7 0h3.4m5 0h1.7m25.5 0h1.7m10.1 0h1.7m1.7 0h1.7M355.1 61.3h1.7m10.2 0h1.7m27.1 0h1.7m23.7 0h1.7m1.7 0h1.7m19.7 0h1.7m1.7 0h1.7m6.8 0h1.7m32.2 0h1.7M348.4 63.3h1.7m1.7 0h1.7m1.6 0h1.7m3.4 0h1.7m69.5 0h1.6m13 0h1.7m1.7 0h1.7m3.4 0h3.4m37.3 0h1.6m3.4 0h1.7m1.7 0h1.7m1.7 0h1.7M358.5 65.3h1.7m3.4 0h1.7m1.7 0h1.7m1.7 0h1.7m23.7 0h1.7m15.2 0h1.7m40.1 0h1.7m1.7 0h1.7m3.3 0h1.7m25.5 0h1.7M341.6 67.3h1.7m3.4 0h1.7m44 0h1.7m22 0h3.4m5.1 0h1.7m40 0h1.7m22.1 0h1.7M345 69.3h3.4m3.4 0h1.7m20.3 0h1.7m5 0h1.7m10.2 0h1.7m15.2 0h5.1m1.7 0h1.7m22 0h1.7m18.1 0h1.7M345 71.3h1.7m13.5 0h1.7m3.4 0h1.7m8.5 0h1.7m28.8 0h1.6m3.4 0h1.7m5.1 0h1.7m1.7 0h1.7M345 73.3h1.7m5.1 0h1.7m6.7 0h1.7m8.5 0h1.7m22 0h1.7m13.5 0h1.7m3.4 0h1.7m5.1 0h1.7m1.7 0h1.7m8.4 0h1.7m48.6 0h1.7m3.4 0h1.7M353.5 75.3h1.6m3.4 0h1.7m15.3 0h1.7m3.3 0h1.7m10.2 0h1.7m5.1 0h1.7m37.2 0h5.1m18.1 0h3.3m18.7 0h1.7M373.8 77.3h1.7m20.3 0h3.4m1.7 0h1.7m6.7 0h1.7m3.4 0h1.7m11.9 0h1.7m31.6 0h3.3m5.1 0h1.7M345 79.3h1.7m15.2 0h1.7m52.5 0h1.7m13.6 0h1.6m3.4 0h1.7M345 81.3h1.7m6.8 0h1.6m8.5 0h1.7m5.1 0h1.7m3.4 0h1.7m10.1 0h1.7m28.8 0h1.7m1.7 0h1.7m16.9 0h3.4m2.8 0h1.7m11.9 0h3.3M350.1 83.3h1.7m10.1 0h1.7m6.8 0h1.7m1.7 0h5.1m15.2 0h1.7m10.2 0h1.6m18.7 0h1.7m8.4 0h1.7M373.8 85.3h1.7m33.8 0h6.8m5.1 0h1.7m1.7 0h1.7m5.1 0h3.3m3.4 0h5.1m14.7 0h1.7m30.5 0h1.7M377.2 87.3h1.7m10.1 0h1.7m1.7 0h1.7m30.5 0h5.1m5 0h1.7m18.1 0h1.7m6.7 0h1.7m22.1 0h1.7M356.8 89.3h1.7m8.5 0h1.7m3.4 0h3.4m18.6 0h1.7m10.2 0h1.6m5.1 0h1.7m3.4 0h1.7m1.7 0h1.7m10.1 0h3.4m6.8 0h1.7m13 0h1.7m3.3 0h1.7m18.7 0h1.7M375.5 91.4h1.7m5 0h1.7m22.1 0h1.6m11.9 0h1.7m8.5 0h1.7m6.7 0h1.7m18.1 0h1.7m23.7 0h1.7m18.6 0h1.7M372.1 93.4h1.7m5.1 0h1.6m13.6 0h1.7m8.5 0h1.7m20.3 0h1.7m1.7 0h1.7m3.3 0h3.4m11.3 0h1.7m1.7 0h1.7m5.1 0h1.7m22 0h1.7m6.8 0h3.4m6.7 0h1.7M389 95.4h1.7m13.6 0h1.7m5 0h1.7m1.7 0h1.7m10.2 0h1.7m15.2 0h1.7m4.5 0h3.4m1.7 0h1.7m1.7 0h1.7M406 97.4h1.6m15.3 0h1.7m1.7 0h1.7m8.4 0h1.7m7.9 0h1.7m15.2 0h5.1m15.3 0h1.7m6.8 0h1.7M400.9 99.4h1.7m3.4 0h1.6m11.9 0h1.7m6.8 0h1.7m28.2 0h3.4m16.9 0h1.7M404.3 101.4h1.7m10.1 0h1.7m25.4 0h1.7m6.2 0h1.7m1.7 0h1.7m5.1 0h1.6m3.4 0h1.7M392.4 103.4h3.4m10.2 0h1.6m30.5 0h1.7m23.1 0h1.7M389 105.4h1.7m6.8 0h1.7m6.8 0h1.6m5.1 0h1.7m11.9 0h1.7m8.4 0h1.7m1.7 0h1.7m1.7 0h1.7m18 0h1.7m3.4 0h1.7m17 0h1.7m5.1 0h1.7M436.4 107.4h1.7m19.8 0h1.7m5 0h1.7m5.1 0h1.7M395.8 109.4h1.7m8.5 0h1.6m3.4 0h1.7m20.3 0h1.7m5.1 0h1.7m4.5 0h1.7m13.6 0h3.3M370.4 111.4h1.7m16.9 0h1.7m6.8 0h1.7m20.3 0h1.7m5.1 0h1.7m5 0h1.7m3.4 0h1.7m43.5 0h1.7m3.4 0h1.7M356.8 113.4h1.7m8.5 0h1.7m3.4 0h1.7m1.7 0h1.7m5 0h1.7m22.1 0h1.6m22.1 0h1.7m31.5 0h1.7m18.7 0h1.7M351.8 115.4h1.7m27 0h1.7m1.7 0h3.4m10.2 0h1.7m28.8 0h5m3.4 0h1.7m23.2 0h1.6m3.4 0h1.7m10.2 0h1.7m8.5 0h1.7M370.4 117.4h1.7m6.8 0h1.6m50.9 0h1.6m3.4 0h1.7m1.7 0h1.7m36.7 0h1.7m3.4 0h1.7M350.1 119.4h1.7m8.4 0h1.7m8.5 0h1.7m5.1 0h1.7m1.6 0h1.7m20.4 0h1.7m53.6 0h6.7m1.7 0h1.7m1.7 0h1.7m5.1 0h1.7M355.1 121.4h3.4m18.7 0h1.7m1.6 0h1.7m8.5 0h1.7m1.7 0h1.7m13.5 0h1.7m5.1 0h1.7m13.6 0h1.6m1.7 0h1.7m1.7 0h1.7m1.7 0h1.7m36.7 0h1.7m20.3 0h1.7M365.3 123.4h1.7m11.9 0h1.6m6.8 0h3.4m13.6 0h3.3m18.7 0h1.7m3.4 0h1.6m6.8 0h1.7m1.7 0h1.7m53.6 0h1.7M356.8 125.4h1.7m1.7 0h1.7m1.7 0h3.4m3.4 0h1.7m6.8 0h1.6m20.4 0h1.7m8.4 0h3.4m5.1 0h1.7m15.2 0h3.4m3.4 0h1.7m1.1 0h1.7m11.9 0h1.7m11.8 0h1.7m15.3 0h1.7M360.2 127.4h1.7m1.7 0h1.7m15.2 0h1.7m1.7 0h1.7m32.2 0h1.7m18.6 0h1.7m21.5 0h1.6m32.3 0h1.6m1.7 0h3.4M361.9 129.4h1.7m5.1 0h1.7m10.1 0h1.7m28.8 0h1.7m13.6 0h1.7m1.7 0h1.7m1.6 0h1.7m1.7 0h5.1m1.7 0h1.7m1.1 0h1.7m13.6 0h1.6m18.7 0h1.7m1.7 0h3.4m5.1 0h1.7m1.6 0h1.7m11.9 0h1.7M350.1 131.4h1.7m10.1 0h1.7m6.8 0h1.7m37.2 0h1.7m17 0h3.4m1.6 0h3.4m3.4 0h1.7m7.9 0h1.7m3.4 0h1.7m1.7 0h3.4m6.7 0h1.7M346.7 133.5h1.7m5.1 0h1.6m3.4 0h1.7m15.3 0h1.7m3.3 0h1.7m1.7 0h1.7m15.3 0h1.7m18.6 0h1.7m8.5 0h1.6m1.7 0h5.1m3.4 0h1.7m9.6 0h1.7m3.4 0h1.7m8.4 0h1.7m10.2 0h3.4M355.1 135.5h1.7m10.2 0h1.7m6.8 0h1.7m5 0h1.7m6.8 0h1.7m5.1 0h1.7m8.4 0h1.7m3.4 0h1.7m1.7 0h1.7m10.2 0h1.7m55.3 0h1.7m1.7 0h1.7m10.1 0h1.7M343.3 137.5h1.7m15.2 0h1.7m1.7 0h1.7m5.1 0h1.7m18.6 0h1.7m32.2 0h3.4m1.7 0h1.7m5 0h1.7m11.3 0h1.7m5.1 0h1.7m5 0h1.7m6.8 0h1.7m13.6 0h1.7M343.3 139.5h1.7m1.7 0h1.7m1.7 0h1.7m35.5 0h1.7m1.7 0h1.7m32.2 0h1.7m10.1 0h3.4m19.8 0h1.7m3.3 0h1.7m6.8 0h1.7m15.3 0h1.7m8.4 0h1.7M351.8 141.5h1.7m15.2 0h1.7m20.3 0h1.7m5.1 0h1.7m11.8 0h1.7m30.5 0h1.7m6.2 0h1.7m13.5 0h1.7m5.1 0h1.7m5.1 0h1.7m8.5 0h1.7m13.5 0h3.4M343.3 143.5h1.7m6.8 0h1.7m18.6 0h3.4m8.4 0h1.7m23.7 0h1.7m3.4 0h1.7m1.7 0h1.7m1.7 0h1.7m15.2 0h1.7m1.7 0h1.7m13 0h3.4m1.7 0h1.6m5.1 0h1.7m33.9 0h1.7M348.4 145.5h1.7m1.7 0h1.7m16.9 0h3.4m25.4 0h1.7m10.1 0h3.4m3.4 0h1.7m5.1 0h1.7m8.4 0h1.7m18.1 0h1.7m10.1 0h1.7m3.4 0h1.7m37.3 0h1.7M350.1 147.5h1.7m35.5 0h1.7m1.7 0h3.4m6.8 0h1.7m18.6 0h1.7m29.9 0h1.7m3.4 0h1.7m11.8 0h3.4m25.4 0h1.7m5.1 0h1.7m1.7 0h1.7M341.6 149.5h1.7m6.8 0h3.4m10.1 0h1.7m10.2 0h3.4m3.3 0h1.7m1.7 0h1.7m1.7 0h1.7m13.6 0h3.3m13.6 0h1.7m1.7 0h1.7m15.2 0h1.7m14.7 0h3.4m8.4 0h3.4m17 0h1.7m3.4 0h1.6m13.6 0h1.7M345 151.5h1.7m3.4 0h1.7m8.4 0h1.7m3.4 0h1.7m35.6 0h1.7m22 0h1.7m5 0h3.4m18.1 0h1.7m15.2 0h1.7m8.5 0h1.7m1.7 0h1.7m6.8 0h1.7M341.6 153.5h1.7m11.8 0h3.4m6.8 0h3.4m11.8 0h5.1m18.7 0h1.7m5 0h1.7m8.5 0h1.7m84.1 0h1.7M363.6 155.5h1.7m6.8 0h1.7m13.5 0h1.7m17 0h1.6m20.4 0h1.7m5 0h1.7m35 0h1.7m37.3 0h1.7M343.3 157.5h1.7m13.5 0h10.2m1.7 0h1.7m1.7 0h1.7m11.8 0h1.7m1.7 0h3.4m11.9 0h1.6m15.3 0h1.7m3.4 0h1.7m1.7 0h1.6m1.7 0h1.7m29.9 0h1.7m3.4 0h3.4m13.6 0h1.7M346.7 159.5h1.7m16.9 0h1.7m6.8 0h1.7m22 0h1.7m3.4 0h1.7m13.5 0h1.7m6.8 0h3.4m10.1 0h1.7m19.8 0h1.6m25.5 0h1.7m1.7 0h1.7m6.7 0h1.7m1.7 0h1.7m1.7 0h1.7M373.8 161.5h5.1m23.7 0h1.7m15.2 0h1.7m40.1 0h1.6m25.5 0h1.7M345 163.5h1.7m20.3 0h1.7m8.5 0h1.7m5 0h3.4m3.4 0h1.7m10.2 0h1.7m6.7 0h1.7m18.7 0h1.6m70.6 0h1.7M367 165.5h1.7m5.1 0h1.7m47.4 0h1.7m8.4 0h1.7m1.7 0h1.7m21.5 0h1.7m47.4 0h1.7M367 167.5h1.7m5.1 0h1.7m44 0h1.7m3.4 0h3.4m5 0h1.7m3.4 0h3.4m1.7 0h1.7m40.1 0h1.7m3.4 0h1.7m3.4 0h1.6m6.8 0h1.7M361.9 169.5h3.4m3.4 0h1.7m32.2 0h1.7m15.2 0h1.7m1.7 0h1.7m11.8 0h1.7m16.4 0h1.7m40.6 0h3.4M380.5 171.5h1.7m3.4 0h1.7m35.6 0h1.7m8.4 0h1.7m1.7 0h1.7m24.8 0h1.7m3.4 0h1.7m28.8 0h3.4M345 173.5h1.7m6.8 0h1.6m28.8 0h1.7m1.7 0h1.7m1.7 0h1.7m10.2 0h1.7m1.7 0h1.6m3.4 0h1.7m3.4 0h1.7m10.2 0h1.7m1.7 0h3.3M341.6 175.6h1.7m8.5 0h1.7m8.4 0h1.7m3.4 0h1.7m13.5 0h1.7m27.1 0h3.4m1.7 0h1.7m11.9 0h1.7m1.6 0h1.7M387.3 177.6h1.7m1.7 0h1.7m30.5 0h1.7m5.1 0h1.7m1.6 0h1.7m14.7 0h1.7m8.5 0h1.7m10.1 0h1.7m8.5 0h1.7m1.7 0h1.7M368.7 179.6h1.7m20.3 0h1.7m30.5 0h1.7m5.1 0h1.7m11.8 0h1.7m11.3 0h1.7m13.5 0h1.7M353.5 181.6h1.6m8.5 0h1.7m11.9 0h1.7m1.6 0h1.7m3.4 0h1.7m23.7 0h1.7m3.4 0h1.7m13.6 0h1.6m3.4 0h3.4m19.8 0h1.7m1.6 0h1.7m35.6 0h1.7M380.5 183.6h1.7m3.4 0h1.7m3.4 0h1.7m28.8 0h1.7m1.7 0h3.4m5 0h1.7m5.1 0h1.7M422.9 185.6h1.7m11.8 0h1.7m52 0h1.7M345 187.6h1.7m15.2 0h1.7m23.7 0h1.7m1.7 0h1.7m18.6 0h3.4m10.2 0h1.7m6.7 0h1.7m1.7 0h1.7m21.5 0h1.7m28.8 0h1.7M368.7 189.6h1.7m20.3 0h1.7m23.7 0h1.7m1.7 0h1.7m18.6 0h1.7m58.7 0h1.7m6.8 0h1.7M387.3 191.6h1.7m22 0h1.7m1.7 0h1.7m8.5 0h1.7m10.1 0h1.7m19.8 0h1.7m3.3 0h1.7m11.9 0h1.7m1.7 0h1.7m3.4 0h1.7m3.4 0h1.7m8.4 0h3.4M345 193.6h1.7m5.1 0h1.7m23.7 0h1.7m5 0h1.7m25.4 0h1.7m3.4 0h1.7m8.5 0h3.4m3.3 0h1.7m1.7 0h1.7m1.7 0h1.7m18.1 0h3.3m25.5 0h1.7M345 195.6h1.7m6.8 0h1.6m6.8 0h1.7m18.6 0h3.4m28.8 0h3.4m16.9 0h1.7"/>
<path stroke="#0a0e31" stroke-width="2.00" d="M387.3 27.2h3.4m1.7 0h1.7m60.4 0h1.7m1.7 0h1.7m33.9 0h1.7M395.8 29.2h1.7m51.9 0h1.7m1.7 0h1.7m15.2 0h1.7m13.6 0h1.7m16.9 0h1.7M447.7 31.2h1.7m15.2 0h1.7m1.7 0h3.4m1.7 0h3.4m15.3 0h1.7m3.3 0h1.7m8.5 0h1.7M348.4 33.2h1.7m40.6 0h1.7m1.7 0h1.7m55.3 0h3.4m1.7 0h3.4m3.3 0h1.7m27.2 0h1.7m11.8 0h1.7M452.8 35.2h3.4m11.8 0h1.7m33.9 0h1.7M389 37.2h1.7m1.7 0h3.4m63.8 0h1.7m1.6 0h5.1m1.7 0h1.7m11.9 0h3.4m11.8 0h1.7M395.8 39.2h1.7m73.9 0h1.7m10.2 0h3.4m20.3 0h1.7M389 41.2h1.7m62.1 0h1.7m1.7 0h3.4m3.3 0h1.7m10.2 0h1.7m30.5 0h5.1M459.6 43.2h3.3m3.4 0h1.7m1.7 0h3.4m11.9 0h3.4m6.8 0h1.6M348.4 45.2h1.7m45.7 0h1.7m27.1 0h1.7m1.7 0h1.7m21.4 0h1.7m1.7 0h3.4m6.7 0h3.4m3.4 0h1.7m15.3 0h1.7m15.2 0h3.4M389 47.2h1.7m1.7 0h1.7m37.3 0h1.6m26.6 0h1.7m8.4 0h1.7m13.6 0h1.7M454.5 49.3h1.7m5.1 0h1.6m13.6 0h3.4m20.3 0h1.7m1.7 0h1.7M395.8 51.3h1.7m57 0h3.4m8.4 0h1.7m20.4 0h1.7M341.6 53.3h1.7m3.4 0h1.7m72.8 0h1.7m5.1 0h1.7m6.7 0h1.7m11.3 0h1.7m32.2 0h1.7m10.2 0h1.6M462.9 55.3h1.7m11.9 0h1.7m10.2 0h1.7m11.8 0h3.4M461.3 57.3h1.6m1.7 0h1.7m3.4 0h3.4m8.5 0h1.7m15.2 0h1.7m1.7 0h1.7M461.3 59.3h1.6m8.5 0h1.7m5.1 0h1.7M350.1 61.3h1.7m40.6 0h1.7m89.2 0h1.7m15.2 0h1.7m5.1 0h1.7M350.1 63.3h1.7m5 0h1.7m6.8 0h1.7m22 0h1.7m27.1 0h1.7m1.7 0h1.7m40 0h3.4m6.8 0h1.7m13.6 0h1.7M346.7 65.3h1.7m3.4 0h1.7m3.3 0h1.7m106.1 0h1.7M471.4 67.3h1.7m3.4 0h1.7M356.8 69.3h1.7m6.8 0h1.7m95.9 0h1.7M350.1 71.3h1.7m15.2 0h1.7m1.7 0h3.4m35.5 0h1.7m1.7 0h1.7m50.2 0h1.7m11.9 0h1.7M346.7 73.3h1.7m16.9 0h1.7m40.6 0h1.7m53.6 0h1.7M346.7 75.3h3.4m10.1 0h3.4m3.4 0h1.7m1.7 0h3.4m8.4 0h1.7m5.1 0h1.7m10.2 0h1.7m11.8 0h1.7m15.3 0h1.6m1.7 0h1.7m6.8 0h1.7m23.1 0h1.7M345 77.3h5.1m5 0h1.7m3.4 0h1.7m8.5 0h1.7m35.5 0h1.7m3.4 0h1.7m17 0h1.6m35 0h1.7m8.5 0h1.7M343.3 79.3h1.7m1.7 0h1.7m15.2 0h1.7m23.7 0h1.7m13.6 0h3.3m5.1 0h3.4m25.4 0h3.4M346.7 81.3h1.7m1.7 0h1.7m13.5 0h3.4m23.7 0h1.7m5.1 0h1.7m11.8 0h1.7m20.3 0h1.7m1.7 0h1.7m23.1 0h1.7M355.1 83.3h1.7m22.1 0h1.6m11.9 0h1.7m15.2 0h3.4m15.3 0h5m1.7 0h1.7m5.1 0h1.7m21.4 0h1.7m1.7 0h1.7m20.4 0h1.7M389 85.3h1.7m8.5 0h1.7m15.2 0h1.7m45.1 0h1.7m6.8 0h3.4M399.2 87.3h1.7m5.1 0h1.6m10.2 0h1.7m1.7 0h1.7m6.8 0h1.7m33.2 0h1.7m11.9 0h1.7M404.3 89.3h1.7m3.3 0h1.7m17 0h1.7m6.7 0h1.7m3.4 0h1.7m23.1 0h1.7m5.1 0h1.7M372.1 91.4h1.7m6.7 0h1.7m22.1 0h1.7m3.3 0h1.7m6.8 0h1.7m5.1 0h3.4m5 0h1.7m1.7 0h1.7m1.7 0h1.7m46.9 0h1.7M400.9 93.4h1.7m3.4 0h1.6m17 0h1.7m6.7 0h1.7m19.8 0h1.7m1.7 0h1.7m47.4 0h1.7m1.7 0h1.7M434.7 95.4h1.7m29.9 0h1.7M392.4 97.4h1.7m3.4 0h1.7m10.1 0h5.1m5.1 0h1.7m13.5 0h1.7m3.4 0h1.7m18.1 0h3.3m30.6 0h1.7M404.3 99.4h1.7m20.3 0h1.7m3.4 0h1.6m6.8 0h1.7m19.8 0h3.3m3.4 0h1.7m13.6 0h3.4m11.8 0h1.7M395.8 101.4h1.7m35.5 0h1.7m3.4 0h3.4m18.1 0h1.7m1.6 0h1.7m13.6 0h1.7M404.3 103.4h1.7m3.3 0h3.4m5.1 0h1.7m1.7 0h1.7m53.6 0h1.7m8.5 0h1.7m3.4 0h3.4m10.1 0h1.7M400.9 105.4h1.7m1.7 0h1.7m3.3 0h1.7m6.8 0h3.4m11.8 0h1.7m3.4 0h1.7m24.8 0h1.7m11.9 0h1.7m3.4 0h1.7m6.8 0h1.7M397.5 107.4h1.7m16.9 0h1.7m1.7 0h1.7m5.1 0h3.4m5 0h1.7m31.6 0h3.4m1.7 0h1.7m17 0h1.7M428 109.4h1.7m11.8 0h1.7m23.1 0h1.7m3.4 0h1.7m3.4 0h1.7m5.1 0h1.7m1.7 0h1.7m3.4 0h1.7M406 111.4h1.6m5.1 0h1.7m10.2 0h1.7m1.7 0h1.7m38.3 0h3.4M392.4 113.4h1.7m1.7 0h1.7m6.8 0h1.7m6.7 0h1.7m25.4 0h3.4m43.5 0h1.7m18.6 0h1.7M372.1 115.4h1.7m37.2 0h1.7m6.8 0h1.7m11.8 0h1.7m8.5 0h1.7m24.8 0h5.1m17 0h1.7M355.1 117.4h3.4m1.7 0h1.7m5.1 0h1.7m13.5 0h1.7m13.6 0h1.7m1.7 0h1.7m1.7 0h1.7m8.4 0h1.7m8.5 0h1.7m6.7 0h1.7m3.4 0h1.7m29.9 0h1.7m5.1 0h1.7m6.8 0h1.7m6.8 0h1.7m11.8 0h1.7M378.9 119.4h1.6m3.4 0h1.7m15.3 0h1.7m23.7 0h1.7m1.7 0h1.7m6.7 0h1.7m28.2 0h1.7m3.4 0h1.7m11.9 0h3.4m15.2 0h1.7M367 121.4h1.7m5.1 0h1.7m3.4 0h1.6m6.8 0h1.7m11.9 0h1.7m1.7 0h1.7m84.1 0h1.7m6.7 0h3.4M407.6 123.4h1.7m10.2 0h1.7M372.1 125.4h1.7m1.7 0h1.7m3.3 0h1.7m8.5 0h1.7m13.6 0h1.6m6.8 0h1.7m5.1 0h1.7m8.5 0h1.6m8.5 0h1.7M361.9 127.4h1.7m13.6 0h1.7m3.3 0h1.7m13.6 0h5.1m1.7 0h1.7m20.3 0h1.7m1.7 0h3.3m6.8 0h1.7m43.5 0h1.7m3.4 0h1.7M363.6 129.4h1.7m5.1 0h1.7m10.1 0h1.7m13.6 0h3.4m5.1 0h1.6m1.7 0h1.7m48.6 0h1.7M348.4 131.4h1.7m15.2 0h1.7m8.5 0h1.7m3.3 0h6.8m3.4 0h5.1m1.7 0h1.7m1.7 0h1.7m1.7 0h1.7m8.4 0h3.4m3.4 0h1.7M348.4 133.5h3.4m3.3 0h1.7m8.5 0h1.7m6.8 0h1.7m1.7 0h1.7m25.4 0h1.7m3.3 0h1.7m3.4 0h1.7m11.9 0h1.7m10.1 0h1.7m21.4 0h1.7M365.3 135.5h1.7m3.4 0h3.4m18.6 0h1.7m23.7 0h1.7m70.6 0h1.7M345 137.5h1.7m3.4 0h1.7m15.2 0h1.7m13.5 0h1.7m5.1 0h1.7m13.6 0h1.7m3.3 0h1.7m1.7 0h1.7m6.8 0h1.7m11.8 0h1.7m3.4 0h1.7m19.8 0h1.6M351.8 139.5h1.7m13.5 0h1.7m1.7 0h1.7m13.5 0h1.7m13.6 0h1.7m1.7 0h3.3m11.9 0h1.7m13.5 0h1.7m26.5 0h1.7m6.8 0h1.7m28.8 0h1.7M343.3 141.5h1.7m13.5 0h1.7m45.8 0h1.6m1.7 0h1.7m5.1 0h1.7m6.8 0h1.7m13.5 0h1.7m13 0h1.7m3.4 0h1.7m6.7 0h1.7m1.7 0h1.7m35.6 0h1.7M341.6 143.5h1.7m3.4 0h1.7m33.8 0h1.7m5.1 0h1.7m16.9 0h1.7M350.1 145.5h1.7m27.1 0h1.6m20.4 0h1.7m40.6 0h1.7m13 0h1.7M341.6 147.5h1.7m13.5 0h1.7m8.5 0h1.7m1.7 0h1.7m1.7 0h1.7m5 0h1.7m1.7 0h3.4m6.8 0h1.7m3.4 0h1.7m3.4 0h1.7m8.4 0h1.7m1.7 0h1.7m36.7 0h1.7m11.8 0h1.7m32.2 0h3.4M343.3 149.5h6.8m20.3 0h1.7m20.3 0h1.7m15.2 0h1.7m27.1 0h1.7m26.5 0h1.7m32.2 0h1.7m1.7 0h1.7m1.7 0h3.4M343.3 151.5h1.7m22 0h1.7m15.2 0h1.7m8.5 0h3.4m27.1 0h1.7m10.1 0h1.7m1.7 0h3.4m55.3 0h1.7m8.5 0h1.7M348.4 153.5h1.7m49.1 0h1.7m6.7 0h1.7m32.2 0h1.7m52 0h1.6m5.1 0h1.7M355.1 155.5h3.4m8.5 0h1.7m1.7 0h1.7m1.7 0h1.7m3.4 0h3.3m1.7 0h1.7m25.4 0h3.4m1.7 0h1.7m3.4 0h1.7m16.9 0h1.7m53.7 0h1.6m11.9 0h1.7M348.4 157.5h1.7m28.8 0h1.6m109.6 0h1.7m6.7 0h1.7m6.8 0h1.7M348.4 159.5h1.7m5 0h1.7m22.1 0h1.6m33.9 0h1.7m5.1 0h1.7m8.5 0h1.6m3.4 0h3.4m57 0h3.4m8.5 0h1.7M351.8 161.5h1.7m3.3 0h1.7m20.4 0h1.6m3.4 0h1.7m32.2 0h1.7m10.2 0h1.7m1.6 0h1.7m1.7 0h1.7m5.1 0h1.7m45.2 0h1.7m16.9 0h1.7M378.9 163.5h3.3m13.6 0h1.7m8.5 0h1.6m6.8 0h1.7m1.7 0h1.7m1.7 0h1.7m1.7 0h1.7m8.4 0h1.7m62.1 0h1.7M346.7 165.5h1.7m3.4 0h1.7m1.6 0h3.4m11.9 0h1.7m15.2 0h1.7m8.5 0h1.7m35.5 0h1.7m1.7 0h1.7m3.4 0h1.7m53.6 0h1.7m3.4 0h1.7M341.6 167.5h1.7m3.4 0h3.4m6.7 0h1.7m20.4 0h3.3m1.7 0h3.4m6.8 0h1.7m5.1 0h1.7m10.1 0h1.7m3.4 0h1.7M346.7 169.5h1.7m5.1 0h1.6m17 0h1.7m1.7 0h3.4m5 0h5.1m5.1 0h1.7m37.2 0h3.4m63.8 0h1.7M353.5 171.5h1.6m8.5 0h1.7m13.6 0h1.6m3.4 0h1.7m6.8 0h1.7m20.3 0h1.7m10.2 0h1.7m53.6 0h1.7M343.3 173.5h1.7m15.2 0h1.7m13.6 0h1.7m8.4 0h1.7m5.1 0h3.4m1.7 0h1.7m1.7 0h1.7m10.1 0h1.7m10.2 0h1.7M350.1 175.6h1.7m6.7 0h1.7m32.2 0h3.4m1.7 0h1.7m6.8 0h1.6m6.8 0h1.7m11.9 0h1.7m8.4 0h3.4M351.8 177.6h1.7m22 0h1.7m3.3 0h1.7m1.7 0h1.7m17 0h1.7m1.7 0h1.6m1.7 0h1.7m17 0h1.7m5 0h1.7M345 179.6h1.7m11.8 0h1.7m3.4 0h1.7m20.3 0h3.4m13.6 0h1.7m1.7 0h1.6m8.5 0h1.7m3.4 0h1.7m1.7 0h5.1m5 0h1.7M345 181.6h1.7m18.6 0h1.7m33.9 0h1.7m18.6 0h1.7m5.1 0h1.7m3.3 0h1.7m6.8 0h1.7M367 183.6h1.7m10.2 0h1.6m6.8 0h1.7m3.4 0h1.7m5.1 0h1.7m11.8 0h1.7m20.3 0h1.7M363.6 185.6h1.7m6.8 0h1.7m1.7 0h1.7m8.4 0h1.7m5.1 0h3.4m13.5 0h3.4m6.8 0h3.4m5.1 0h1.7m8.4 0h1.7m3.4 0h1.7M360.2 187.6h1.7m1.7 0h1.7m10.2 0h1.7m8.4 0h1.7m8.5 0h1.7m20.3 0h3.4m5.1 0h1.7m6.7 0h1.7m1.7 0h6.8M351.8 189.6h1.7m5 0h1.7m3.4 0h1.7m28.8 0h1.7m11.8 0h3.4m1.7 0h1.7m6.8 0h1.7M358.5 191.6h1.7m20.3 0h1.7m10.2 0h1.7m1.7 0h3.4m6.8 0h1.6m5.1 0h1.7m6.8 0h1.7m5.1 0h1.7m3.3 0h1.7M380.5 193.6h1.7m35.6 0h1.7m5.1 0h1.7m8.4 0h1.7m53.7 0h1.7M350.1 195.6h1.7m18.6 0h1.7m1.7 0h1.7m3.4 0h3.3m3.4 0h1.7m5.1 0h3.4m35.6 0h1.6m5.1 0h1.7"/>
<path stroke="#727033" stroke-width="2.00" d="M402.6 27.2h1.7M370.4 29.2h1.7m33.9 0h1.6m3.4 0h1.7m1.7 0h1.7M351.8 31.2h1.7m5 0h1.7m8.5 0h1.7m40.6 0h1.7M411 33.2h1.7m1.7 0h1.7M411 39.2h1.7M426.3 41.2h1.7m11.8 0h1.7M414.4 43.2h1.7m6.8 0h1.7m3.4 0h1.7m6.7 0h1.7m1.7 0h1.7M368.7 45.2h1.7M358.5 47.2h1.7m8.5 0h1.7m30.5 0h1.7M402.6 49.3h1.7M368.7 51.3h1.7m32.2 0h1.7M375.5 55.3h1.7m5 0h1.7M363.6 57.3h1.7m6.8 0h1.7m6.7 0h1.7m22.1 0h1.7m6.7 0h1.7m15.3 0h1.7m1.6 0h1.7m1.7 0h1.7m9.6 0h1.7M377.2 59.3h1.7m3.3 0h3.4m27.1 0h1.7M368.7 61.3h1.7m32.2 0h1.7m1.7 0h1.6M486.7 67.3h1.7m13.5 0h1.7M447.7 69.3h1.7m39 0h1.7m1.7 0h1.7m8.4 0h1.7m1.7 0h1.7M491.8 71.3h1.7m16.9 0h1.7M402.6 73.3h1.7m22 0h1.7m79 0h1.7m1.7 0h1.7M507 75.3h5.1M368.7 77.3h1.7m77.3 0h1.7m45.8 0h1.6m8.5 0h1.7m3.4 0h1.7M493.5 81.3h1.7m1.6 0h1.7M358.5 85.3h1.7m148.5 0h1.7M368.7 87.3h1.7M368.7 89.3h1.7M345 91.4h1.7M346.7 93.4h1.7m20.3 0h1.7M358.5 95.4h1.7m3.4 0h3.4M348.4 97.4h1.7m8.4 0h1.7M361.9 99.4h1.7m6.8 0h1.7m11.8 0h1.7M351.8 103.4h1.7m3.3 0h1.7m17 0h3.4M358.5 105.4h1.7m3.4 0h1.7m1.7 0h1.7m16.9 0h1.7M361.9 107.4h1.7M341.6 109.4h1.7m6.8 0h1.7m6.7 0h1.7m11.9 0h1.7m1.7 0h1.7m1.7 0h1.6m67.2 0h1.7M346.7 121.4h1.7m1.7 0h1.7m102.7 0h1.7m13.5 0h1.7m6.8 0h1.7m3.4 0h1.7M447.7 123.4h1.7m25.4 0h1.7m28.8 0h1.7M346.7 127.4h1.7m129.8 0h1.7M505.3 131.4h1.7M493.5 135.5h1.7M447.7 137.5h1.7m28.8 0h1.7M402.6 143.5h1.7m28.7 0h1.7m41.8 0h1.7m8.5 0h1.7m6.8 0h1.6M428 145.5h1.7m48.5 0h1.7m8.5 0h1.7m1.7 0h1.7M491.8 147.5h1.7M452.8 155.5h1.7m23.7 0h1.7M452.8 157.5h1.7m1.7 0h1.7M478.2 159.5h1.7M447.7 163.5h3.4m13.5 0h1.7m17 0h1.7M466.3 165.5h1.7m3.4 0h1.7M368.7 167.5h1.7m77.3 0h1.7m18.6 0h1.7m8.5 0h1.7M491.8 171.5h1.7M468 173.5h1.7m6.8 0h1.7m18.6 0h1.7m11.9 0h1.7M478.2 175.6h1.7m6.8 0h1.7m22 0h1.7M507 179.6h1.7M446 183.6h1.7m18.6 0h3.4m3.4 0h1.7m18.7 0h1.7m10.1 0h1.7m3.4 0h1.7M486.7 187.6h1.7M491.8 195.6h1.7m11.8 0h1.7"/>
<path stroke="#10185a" stroke-width="2.00" d="M449.4 27.2h1.7m11.8 0h1.7m3.4 0h3.4m6.8 0h1.7m5.1 0h1.7m1.7 0h1.7m6.7 0h1.7M473.1 29.2h3.4m5.1 0h1.7m16.9 0h1.7m6.8 0h1.7M462.9 31.2h1.7m15.3 0h3.4M466.3 33.2h1.7m3.4 0h1.7m11.9 0h1.7m20.3 0h5.1M389 35.2h1.7m5.1 0h1.7m58.7 0h3.4m5 0h1.7m5.1 0h1.7m11.9 0h3.4m1.7 0h1.7m10.1 0h1.7m3.4 0h5.1M447.7 37.2h1.7m11.9 0h1.6m5.1 0h1.7m6.8 0h1.7m8.5 0h3.4m13.5 0h1.7M452.8 39.2h1.7m27.1 0h1.7m3.4 0h1.7m6.8 0h1.6M464.6 41.2h1.7m28.9 0h1.6m3.4 0h3.4M395.8 43.2h1.7m92.6 0h1.7M459.6 45.2h1.7m11.8 0h3.4m13.6 0h1.7m11.8 0h1.7m3.4 0h1.7M471.4 47.2h8.5M479.9 49.3h1.7M392.4 51.3h1.7m68.8 0h1.7m10.2 0h3.4m5.1 0h1.7M389 53.3h1.7m1.7 0h1.7m23.7 0h1.7m43.4 0h3.4m3.4 0h1.7m15.3 0h1.7m11.8 0h1.7m1.7 0h1.7M456.2 55.3h1.7m8.4 0h1.7m5.1 0h3.4m1.7 0h1.7m5.1 0h1.7M468 57.3h1.7M469.7 59.3h1.7m5.1 0h1.7m1.7 0h1.7m8.5 0h1.7M461.3 61.3h1.6m1.7 0h1.7m3.4 0h1.7m32.2 0h3.4M466.3 63.3h5.1m8.5 0h1.7m8.5 0h1.7M473.1 65.3h1.7m3.4 0h1.7M355.1 69.3h1.7m107.8 0h1.7m5.1 0h1.7M355.1 71.3h1.7m111.2 0h3.4m1.7 0h3.4M468 73.3h1.7M365.3 75.3h1.7m44 0h1.7m65.5 0h1.7m1.7 0h1.7M341.6 77.3h1.7m123 0h1.7m11.9 0h3.4M365.3 79.3h1.7m42.3 0h1.7M356.8 81.3h1.7m37.3 0h1.7m6.8 0h1.7m58.6 0h1.7m15.3 0h1.7M407.6 83.3h1.7m53.6 0h1.7m6.8 0h1.7m3.4 0h1.7m3.4 0h1.7M466.3 85.3h1.7m1.7 0h1.7m5.1 0h3.4M409.3 87.3h1.7m30.5 0h1.7m26.5 0h1.7M464.6 89.3h1.7m3.4 0h1.7m5.1 0h1.7M392.4 91.4h1.7m5.1 0h1.7m6.7 0h1.7m5.1 0h1.7m15.3 0h1.6m8.5 0h1.7m35 0h1.7m10.2 0h1.7M399.2 93.4h1.7m6.7 0h3.4m5.1 0h1.7m3.4 0h1.7m5.1 0h1.7m11.8 0h1.7m41.8 0h1.7m3.4 0h1.7m3.4 0h1.6m11.9 0h1.7M417.8 95.4h1.7m1.7 0h1.7m1.7 0h1.7m35 0h1.6m8.5 0h3.4m6.8 0h3.4m3.4 0h1.7m3.4 0h1.7M414.4 97.4h1.7m1.7 0h1.7m1.7 0h1.7m18.6 0h3.4m40.1 0h1.7m16.9 0h1.7m3.4 0h1.7M399.2 99.4h1.7m8.4 0h1.7m63.8 0h1.7m10.2 0h1.7m16.9 0h1.7m1.7 0h1.7M399.2 101.4h1.7m20.3 0h1.7m8.5 0h1.6m31.6 0h1.7m10.2 0h1.7m1.7 0h1.7m10.2 0h3.4m6.7 0h1.7M431.4 103.4h1.6m36.7 0h1.7m13.6 0h1.7m3.4 0h1.7m5 0h1.7m5.1 0h1.7M407.6 105.4h1.7m18.7 0h1.7m45.1 0h1.7m8.5 0h1.7m20.3 0h1.7M395.8 107.4h1.7m3.4 0h1.7m3.4 0h1.6m6.8 0h1.7m23.7 0h1.7m24.8 0h1.7m18.7 0h1.7m6.8 0h1.6m6.8 0h1.7m1.7 0h1.7M400.9 109.4h1.7m15.2 0h1.7m1.7 0h1.7m8.5 0h1.6m41.8 0h1.7m5.1 0h1.7m1.7 0h1.7m8.5 0h3.3m5.1 0h1.7M404.3 111.4h1.7m5 0h1.7m68.9 0h1.7m11.9 0h5m6.8 0h1.7m1.7 0h1.7M389 113.4h1.7m18.6 0h1.7m6.8 0h1.7m11.9 0h1.6m52 0h1.7m8.5 0h8.4m1.7 0h1.7m1.7 0h3.4M389 115.4h1.7m8.5 0h3.4m10.1 0h1.7m65.5 0h1.7m20.3 0h1.7m1.7 0h1.7M392.4 117.4h1.7m15.2 0h1.7m1.7 0h1.7m57 0h1.7m8.5 0h1.7m3.4 0h1.7m10.1 0h1.7m8.5 0h1.7M355.1 119.4h1.7m8.5 0h1.7m5.1 0h1.7m22 0h1.7m11.8 0h3.4m67.2 0h1.7m11.9 0h1.7m6.7 0h1.7m3.4 0h1.7M373.8 123.4h1.7M395.8 125.4h3.4m25.4 0h1.7m1.7 0h1.7M378.9 127.4h1.6m8.5 0h1.7m1.7 0h1.7m1.7 0h1.7m18.6 0h1.7M373.8 129.4h1.7m1.7 0h1.7m13.5 0h1.7m6.8 0h1.7m16.9 0h3.4m67.2 0h1.7M395.8 131.4h1.7m44 0h1.7M356.8 133.5h1.7m30.5 0h1.7m3.4 0h3.4m44 0h1.7m24.8 0h1.7M389 135.5h1.7M341.6 137.5h1.7m64.3 0h1.7M348.4 139.5h1.7m6.7 0h1.7m15.3 0h3.4m15.2 0h3.4m11.8 0h1.7m22.1 0h1.6M346.7 141.5h3.4m3.4 0h1.6m1.7 0h1.7m13.6 0h1.7m8.4 0h1.7m11.9 0h1.7m6.8 0h1.7m6.7 0h1.7m43.5 0h1.7m1.7 0h1.6m37.3 0h1.7M407.6 145.5h1.7M348.4 147.5h1.7m27.1 0h1.7m10.1 0h1.7M372.1 149.5h1.7m6.7 0h1.7m30.5 0h1.7M341.6 151.5h1.7m3.4 0h3.4m23.7 0h3.4m10.1 0h3.4m1.7 0h1.7m6.8 0h1.7m5 0h3.4m5.1 0h1.7m77.4 0h1.6m5.1 0h1.7m6.8 0h1.7M348.4 155.5h1.7m35.5 0h1.7m11.9 0h1.7m6.7 0h1.7M355.1 157.5h3.4m18.7 0h1.7m1.6 0h1.7m6.8 0h1.7m16.9 0h1.7M380.5 159.5h1.7m6.8 0h1.7m25.4 0h1.7m6.8 0h1.7m15.2 0h1.7M382.2 161.5h1.7m5.1 0h1.7m1.7 0h1.7m15.2 0h1.7m10.2 0h1.7m5.1 0h1.7m5 0h1.7m5.1 0h1.7M399.2 163.5h3.4m38.9 0h1.7m57 0h1.7M382.2 165.5h1.7m6.8 0h1.7m3.4 0h1.7m1.7 0h1.7m10.1 0h3.4m6.8 0h1.7m1.7 0h1.7M395.8 167.5h1.7m1.7 0h1.7m5.1 0h3.3m1.7 0h1.7m1.7 0h1.7m5.1 0h1.7M350.1 169.5h1.7m6.7 0h3.4m8.5 0h1.7m23.7 0h1.7m3.4 0h1.7m3.4 0h1.6m5.1 0h1.7m11.9 0h1.7m11.8 0h1.7m48.6 0h1.7M343.3 171.5h1.7m6.8 0h1.7m5 0h5.1m3.4 0h1.7m1.7 0h3.4m1.7 0h1.7m5 0h1.7m5.1 0h3.4m18.6 0h1.7m5.1 0h1.7m20.3 0h1.7M341.6 173.5h1.7m5.1 0h3.4m3.3 0h1.7m13.6 0h1.7m16.9 0h1.7m5.1 0h1.7m10.1 0h1.7M348.4 175.6h1.7m5 0h1.7m17 0h1.7m20.3 0h1.7m10.1 0h1.7m22.1 0h1.6M345 177.6h1.7m13.5 0h1.7m3.4 0h1.7m5.1 0h1.7m3.4 0h1.7m18.6 0h5.1m1.7 0h1.7m10.1 0h1.7m23.7 0h1.7M343.3 179.6h1.7m3.4 0h3.4m5 0h1.7m1.7 0h1.7m3.4 0h1.7m22 0h1.7m5.1 0h3.4m32.2 0h1.6M343.3 181.6h1.7m13.5 0h1.7m6.8 0h1.7m1.7 0h1.7m16.9 0h1.7m5.1 0h1.7m6.8 0h1.7m3.3 0h1.7M358.5 183.6h1.7m13.6 0h3.4m11.8 0h1.7m10.2 0h1.7m15.2 0h1.7M351.8 185.6h1.7m5 0h1.7m1.7 0h1.7m1.7 0h3.4m1.7 0h1.7m5.1 0h1.7m3.3 0h1.7m6.8 0h1.7m8.5 0h1.7m22 0h1.7M346.7 187.6h1.7m33.8 0h1.7m13.6 0h1.7m1.7 0h1.7m18.6 0h1.7m8.5 0h1.6M346.7 189.6h1.7m8.4 0h1.7m1.7 0h1.7m3.4 0h1.7m6.8 0h3.4m15.2 0h1.7m1.7 0h1.7m3.4 0h1.7m25.4 0h1.7M343.3 191.6h1.7m6.8 0h1.7m20.3 0h1.7m6.7 0h1.7m55.9 0h1.7M343.3 193.6h1.7m10.1 0h1.7m17 0h1.7m16.9 0h1.7m5.1 0h1.7m3.4 0h1.7M348.4 195.6h1.7m6.7 0h1.7m37.3 0h1.7m1.7 0h3.4"/>
<path stroke="#0d1345" stroke-width="2.00" d="M456.2 27.2h1.7m1.7 0h1.7m3.3 0h3.4m5.1 0h1.7m11.9 0h1.7m13.5 0h5.1M389 29.2h1.7m1.7 0h1.7m67.2 0h1.6m3.4 0h3.4m1.7 0h1.7m5.1 0h1.7m18.6 0h1.7m1.7 0h1.7m3.4 0h1.7m1.7 0h1.7M392.4 31.2h1.7m62.1 0h1.7m1.7 0h1.7m15.2 0h3.4m5.1 0h1.7m1.7 0h1.7m5.1 0h1.6m1.7 0h1.7m1.7 0h3.4M389 33.2h1.7m58.7 0h1.7m8.5 0h3.3m6.8 0h1.7m17 0h1.7m5.1 0h5m3.4 0h1.7M392.4 35.2h3.4m50.2 0h1.7m18.6 0h1.7m1.7 0h1.7m6.8 0h1.7m3.4 0h1.7m6.8 0h1.7m3.3 0h1.7M395.8 37.2h1.7m51.9 0h1.7m5.1 0h1.7m13.5 0h1.7m5.1 0h1.7m16.9 0h1.7m8.5 0h1.7M457.9 39.2h1.7m1.7 0h8.4m3.4 0h1.7m3.4 0h1.7m18.6 0h1.7m3.4 0h3.4m1.7 0h3.4M469.7 41.2h1.7m1.7 0h1.7m1.7 0h3.4m5.1 0h1.7m1.7 0h1.7m6.7 0h1.7m5.1 0h1.7M464.6 43.2h1.7m8.5 0h3.4M394.1 45.2h1.7m50.2 0h1.7m1.7 0h1.7m6.8 0h1.7m10.1 0h1.7m6.8 0h1.7m6.8 0h1.7M462.9 47.2h1.7m3.4 0h1.7m32.2 0h1.7M459.6 49.3h1.7m8.4 0h6.8M464.6 51.3h1.7m6.8 0h1.7m3.4 0h1.7M411 53.3h1.7m18.7 0h1.6m19.8 0h1.7m1.7 0h1.7m1.7 0h1.7m45.7 0h3.4M461.3 55.3h1.6m17 0h1.7m8.5 0h1.7M473.1 57.3h3.4m8.5 0h1.7m3.4 0h1.7m8.4 0h1.7M464.6 59.3h1.7m1.7 0h1.7m11.9 0h1.7m15.2 0h1.7M417.8 61.3h1.7m43.4 0h1.7m22.1 0h1.7m10.1 0h1.7m8.5 0h3.4M424.6 63.3h1.7m35 0h1.6M341.6 65.3h1.7m5.1 0h1.7m111.2 0h1.6M355.1 67.3h1.7m107.8 0h1.7m1.7 0h3.4m1.7 0h1.7m6.8 0h1.7M350.1 69.3h1.7m55.8 0h1.7m15.3 0h1.7m41.7 0h1.7m3.4 0h1.7m3.4 0h1.7M346.7 71.3h1.7m3.4 0h1.7m3.3 0h1.7m81.3 0h3.4M341.6 73.3h1.7m5.1 0h1.7m6.7 0h1.7m15.3 0h1.7M395.8 75.3h1.7m6.8 0h1.7m3.3 0h1.7m1.7 0h1.7m51.9 0h1.7M367 77.3h1.7m71.1 0h1.7m23.1 0h1.7m10.2 0h1.7M350.1 79.3h1.7m1.7 0h1.6m3.4 0h1.7m10.2 0h1.7m1.7 0h1.7m20.3 0h1.7m1.7 0h3.4m22 0h1.7m38.3 0h3.4m10.2 0h1.7M341.6 81.3h1.7m30.5 0h1.7m13.5 0h1.7m6.8 0h1.7m37.2 0h1.7m33.3 0h1.7m3.4 0h1.7M389 83.3h1.7m8.5 0h1.7m11.8 0h1.7m63.8 0h1.7M395.8 85.3h1.7m10.1 0h1.7m72.3 0h1.7M407.6 87.3h1.7m1.7 0h1.7m53.6 0h1.7M389 89.3h1.7m47.4 0h3.4m26.5 0h1.7m1.7 0h1.7m5.1 0h1.7m1.7 0h1.7m6.8 0h1.7M389 91.4h1.7m3.4 0h1.7m16.9 0h1.7m6.8 0h1.7m36.7 0h1.7m3.3 0h1.7m3.4 0h1.7m13.6 0h1.7m15.2 0h1.7M395.8 93.4h1.7m16.9 0h1.7m1.7 0h1.7m18.6 0h3.4m24.8 0h3.4m3.4 0h1.7m3.4 0h1.7m18.6 0h1.7m3.4 0h1.7M392.4 95.4h1.7m6.8 0h1.7m6.7 0h1.7m1.7 0h1.7m15.3 0h1.7m1.6 0h1.7m6.8 0h1.7m19.7 0h3.4m1.7 0h1.7m25.5 0h1.6m3.4 0h1.7m8.5 0h1.7M428 97.4h1.7m1.7 0h1.6m5.1 0h1.7m33.3 0h6.8m25.4 0h3.4M407.6 99.4h1.7m8.5 0h1.7m1.7 0h1.7m48.5 0h1.7m3.4 0h1.7m1.7 0h1.7m11.9 0h1.7m11.8 0h1.7m1.7 0h1.7M406 101.4h1.6m3.4 0h3.4m3.4 0h1.7m5.1 0h1.7m1.7 0h1.7m5 0h1.7m13 0h1.7m20.3 0h1.7m10.2 0h1.7m1.7 0h1.7m18.6 0h1.7m1.7 0h1.7M399.2 103.4h3.4m10.1 0h5.1m1.7 0h1.7m3.4 0h1.7m15.2 0h1.7m31.6 0h1.7m5.1 0h1.7m11.9 0h1.6m10.2 0h1.7m1.7 0h1.7M395.8 105.4h1.7m13.5 0h1.7m8.5 0h1.7m1.7 0h1.7m3.4 0h3.3m1.7 0h1.7m40.1 0h1.7m10.2 0h1.7M399.2 107.4h1.7m10.1 0h1.7m8.5 0h1.7m8.5 0h1.6m8.5 0h1.7m31.6 0h1.7m8.5 0h1.7m6.8 0h1.7m13.5 0h1.7M399.2 109.4h1.7m6.7 0h1.7m6.8 0h1.7m6.8 0h1.7m43.4 0h1.7m1.7 0h1.7m13.6 0h1.7M409.3 111.4h1.7m3.4 0h1.7m1.7 0h1.7m15.2 0h1.7m5.1 0h1.7m21.4 0h1.7m27.2 0h1.7M399.2 113.4h3.4m13.5 0h1.7m3.4 0h1.7m3.4 0h1.7m6.7 0h1.7m1.7 0h1.7M365.3 115.4h3.4m5.1 0h1.7m16.9 0h1.7m1.7 0h1.7m6.8 0h3.3m8.5 0h1.7m6.8 0h1.7m8.4 0h1.7m3.4 0h3.4m41.8 0h1.7m6.8 0h1.7m15.2 0h1.7M373.8 117.4h1.7m20.3 0h1.7m18.6 0h1.7m3.4 0h1.7m5.1 0h1.7m11.8 0h1.7m24.8 0h1.7m3.4 0h3.4m18.7 0h1.6M375.5 119.4h1.7m11.8 0h1.7m15.3 0h1.6m6.8 0h3.4m3.4 0h1.7m1.7 0h1.7m8.4 0h3.4m3.4 0h1.7m40.1 0h1.7m18.6 0h1.7m3.4 0h3.4M399.2 121.4h1.7m6.7 0h1.7m18.7 0h1.7M380.5 123.4h1.7m1.7 0h1.7m10.2 0h1.7m11.8 0h1.7m50.3 0h1.6M367 125.4h1.7m5.1 0h1.7m28.8 0h1.7m1.6 0h1.7m6.8 0h3.4m20.3 0h1.7M355.1 127.4h1.7m8.5 0h1.7m3.4 0h3.4m32.2 0h5m17 0h1.7M356.8 129.4h1.7m1.7 0h1.7m10.2 0h1.7m10.1 0h1.7m5.1 0h1.7m1.7 0h1.7m8.5 0h1.7m6.7 0h1.7m3.4 0h1.7m5.1 0h1.7m1.7 0h1.7m5 0h1.7M373.8 131.4h1.7m3.4 0h1.6m18.7 0h1.7m6.7 0h1.7m3.4 0h1.7m3.4 0h1.7m6.8 0h1.7m62.1 0h1.7M392.4 133.5h1.7m30.5 0h1.7M373.8 135.5h1.7M348.4 137.5h1.7m6.7 0h1.7m13.6 0h1.7m22 0h1.7m1.7 0h3.4m13.5 0h1.7m23.7 0h1.7m46.9 0h1.7M365.3 139.5h1.7m5.1 0h1.7m3.4 0h1.7m1.6 0h3.4m5.1 0h1.7m5.1 0h1.7m1.7 0h1.7m10.1 0h1.7m5.1 0h1.7m41.8 0h1.6m5.1 0h1.7M341.6 141.5h1.7m6.8 0h1.7m3.3 0h1.7m20.4 0h1.7m10.1 0h1.7m3.4 0h1.7m11.8 0h1.7m5.1 0h1.7m1.7 0h1.7m18.6 0h1.7m1.7 0h1.7m13 0h1.7m5 0h1.7m17 0h1.7M355.1 143.5h1.7m102.8 0h1.7M346.7 145.5h1.7m6.7 0h3.4m15.3 0h1.7m5 0h3.4m5.1 0h1.7m50.8 0h1.7m16.4 0h5M345 147.5h3.4m3.4 0h1.7m1.6 0h1.7m15.3 0h1.7m22 0h1.7m8.5 0h1.6m33.9 0h1.7m16.4 0h1.7m1.6 0h3.4M355.1 149.5h1.7m8.5 0h1.7m6.8 0h1.7m42.3 0h1.7m82.4 0h1.7M351.8 151.5h1.7m25.4 0h1.6m1.7 0h1.7m1.7 0h1.7m10.2 0h3.4m5.1 0h1.6m3.4 0h1.7m1.7 0h1.7m3.4 0h1.7m41.7 0h3.4m1.7 0h1.7m20.4 0h1.7m5 0h1.7m6.8 0h3.4M498.5 153.5h3.4M341.6 155.5h1.7m66 0h1.7m85.8 0h1.7m1.7 0h1.7m5.1 0h1.7M372.1 157.5h1.7m11.8 0h1.7m8.5 0h1.7m3.4 0h1.7m1.7 0h1.7m3.3 0h1.7m5.1 0h3.4m1.7 0h1.7m1.7 0h1.7m68.9 0h1.6m5.1 0h1.7m1.7 0h1.7m1.7 0h1.7M341.6 159.5h1.7m13.5 0h1.7m23.7 0h1.7m8.5 0h5.1m3.4 0h1.7m3.4 0h1.6m1.7 0h5.1m15.3 0h1.7m63.8 0h1.6M341.6 161.5h1.7m3.4 0h1.7m32.1 0h1.7m5.1 0h1.7m5.1 0h1.7m1.7 0h1.7m16.9 0h1.7m6.8 0h3.4m11.8 0h1.7m55.3 0h1.7m3.4 0h3.4M356.8 163.5h1.7m54.2 0h1.7m1.7 0h1.7M348.4 165.5h1.7m28.8 0h1.6m13.6 0h1.7m20.3 0h1.7m10.2 0h1.7m1.7 0h1.6m6.8 0h3.4m46.9 0h1.7m3.4 0h3.3m1.7 0h3.4M355.1 167.5h1.7m32.2 0h1.7m1.7 0h1.7m10.2 0h1.7m25.4 0h1.6m1.7 0h1.7m5.1 0h1.7M343.3 169.5h3.4m5.1 0h1.7m11.8 0h3.4m11.8 0h3.4m23.7 0h1.7m11.9 0h1.7m15.2 0h1.7m1.7 0h1.7M346.7 171.5h1.7m16.9 0h1.7m10.2 0h1.7m8.4 0h1.7m17 0h1.6m11.9 0h3.4m18.6 0h1.7M346.7 173.5h1.7m16.9 0h3.4m5.1 0h1.7m28.8 0h1.7m8.4 0h1.7m25.4 0h1.7M346.7 175.6h1.7m27.1 0h3.4m38.9 0h1.7m1.7 0h1.7m18.6 0h1.7M367 177.6h1.7m13.5 0h1.7m27.1 0h1.7M351.8 179.6h1.7m13.5 0h1.7m10.2 0h1.6m30.5 0h1.7m1.7 0h1.7m22 0h1.7m1.7 0h1.7M351.8 181.6h1.7m1.6 0h1.7m15.3 0h3.4m16.9 0h1.7m3.4 0h3.4m16.9 0h1.7m5.1 0h1.7M343.3 183.6h1.7m5.1 0h3.4m11.8 0h1.7m10.2 0h1.7m5 0h1.7m18.7 0h1.7m5 0h1.7m3.4 0h1.7m23.7 0h1.7M341.6 185.6h1.7m1.7 0h1.7m32.2 0h3.3m33.9 0h1.7m11.9 0h1.7m3.3 0h1.7m3.4 0h3.4M348.4 187.6h1.7m1.7 0h1.7m16.9 0h1.7m5.1 0h1.7m5 0h1.7m6.8 0h1.7m5.1 0h1.7m8.4 0h1.7M353.5 189.6h1.6m30.5 0h3.4m8.5 0h1.7m5.1 0h1.7m8.4 0h1.7m15.3 0h1.6m1.7 0h1.7m5.1 0h1.7M345 191.6h1.7m3.4 0h1.7m15.2 0h5.1m5.1 0h1.7m15.2 0h1.7m5.1 0h1.7m15.2 0h1.7M346.7 193.6h1.7m10.1 0h1.7m5.1 0h1.7m8.5 0h1.7m16.9 0h1.7m1.7 0h1.7m8.4 0h3.4m20.4 0h1.6m8.5 0h1.7M341.6 195.6h1.7m3.4 0h1.7m3.4 0h1.7m22 0h1.7m11.8 0h1.7m16.9 0h1.7"/>
<path stroke="#141e72" stroke-width="2.00" d="M461.3 27.2h1.6m8.5 0h1.7m3.4 0h1.7m17 0h1.6m1.7 0h1.7m8.5 0h1.7M462.9 29.2h1.7m15.3 0h1.7m6.8 0h1.7M471.4 31.2h1.7M392.4 33.2h1.7m80.7 0h1.7m5.1 0h1.7m18.6 0h1.7M459.6 35.2h1.7m1.6 0h1.7m8.5 0h1.7m1.7 0h1.7m3.4 0h1.7m11.9 0h1.6m1.7 0h1.7m5.1 0h1.7M500.2 37.2h1.7m6.8 0h1.7M474.8 39.2h3.4m22 0h3.4M461.3 41.2h1.6M501.9 43.2h1.7M461.3 45.2h1.6m13.6 0h1.7m5.1 0h3.4M481.6 47.2h1.7m3.4 0h1.7m1.7 0h1.7M461.3 51.3h1.6m5.1 0h1.7m1.7 0h1.7m11.9 0h1.7M461.3 53.3h1.6m5.1 0h1.7m5.1 0h3.4m6.8 0h1.7m1.7 0h1.7m11.8 0h1.7M479.9 57.3h1.7M485 59.3h1.7M459.6 61.3h1.7m6.7 0h1.7m1.7 0h3.4m13.6 0h1.7M476.5 63.3h3.4M355.1 65.3h1.7m109.5 0h6.8m8.5 0h1.7M479.9 67.3h1.7M469.7 69.3h1.7m3.4 0h3.4M341.6 71.3h1.7m5.1 0h1.7m42.3 0h1.7m13.5 0h1.7m57 0h1.7m3.4 0h1.7m3.4 0h1.7m3.4 0h1.7M343.3 73.3h1.7m124.7 0h1.7m3.4 0h1.7m5.1 0h1.7M341.6 75.3h3.4m124.7 0h1.7m1.7 0h1.7M355.1 79.3h1.7m40.7 0h1.7m8.4 0h1.7m58.7 0h5.1m3.4 0h1.7M348.4 81.3h1.7m116.2 0h1.7m5.1 0h3.4M466.3 83.3h1.7m1.7 0h1.7m3.4 0h1.7M468 87.3h1.7m1.7 0h6.8m3.4 0h1.7M395.8 91.4h1.7m3.4 0h1.7m8.4 0h1.7m50.2 0h1.7m8.5 0h3.4M461.3 93.4h1.6m6.8 0h3.4m3.4 0h1.7m1.7 0h1.7m6.8 0h1.7M407.6 95.4h1.7m67.2 0h3.4m6.8 0h1.7m8.4 0h3.4m3.4 0h1.7m1.7 0h1.7M407.6 97.4h1.7m58.7 0h1.7m10.2 0h1.7m5.1 0h3.4m5.1 0h1.6M496.8 99.4h1.7m3.4 0h3.4M407.6 101.4h1.7m32.2 0h1.7m31.6 0h1.7m11.9 0h1.7m6.7 0h1.7m1.7 0h1.7m1.7 0h3.4M479.9 103.4h1.7m6.8 0h1.7m8.4 0h3.4M399.2 105.4h1.7m13.5 0h1.7m63.8 0h1.7m8.5 0h1.7m3.4 0h3.3m5.1 0h1.7M404.3 107.4h1.7m1.6 0h1.7m8.5 0h1.7m5.1 0h1.7m57 0h1.7m20.3 0h1.7M409.3 109.4h1.7m68.9 0h1.7m16.9 0h1.7m5.1 0h1.7M399.2 111.4h1.7m20.3 0h1.7m16.9 0h1.7m48.6 0h1.7m10.1 0h1.7m1.7 0h1.7M407.6 113.4h1.7m18.7 0h1.7m51.9 0h1.7m20.3 0h1.7M414.4 115.4h1.7m5.1 0h1.7m58.7 0h1.7m3.4 0h1.7m6.8 0h5m6.8 0h1.7M399.2 117.4h1.7m6.7 0h1.7m8.5 0h1.7m15.2 0h1.7m65.5 0h1.7m6.8 0h1.7M373.8 119.4h1.7m16.9 0h1.7m3.4 0h1.7m5.1 0h1.7m6.7 0h1.7m5.1 0h1.7m6.8 0h1.7M399.2 123.4h1.7M392.4 125.4h1.7M367 127.4h1.7m52.5 0h1.7M387.3 129.4h3.4m16.9 0h1.7m5.1 0h1.7m25.4 0h1.7M389 131.4h1.7M399.2 133.5h1.7M392.4 137.5h1.7M441.5 139.5h1.7M370.4 141.5h1.7m15.2 0h1.7m75.6 0h1.7M412.7 147.5h1.7m94.3 0h1.7M356.8 149.5h1.7m49.1 0h1.7M355.1 151.5h3.4m18.7 0h1.7m42.3 0h1.7m77.3 0h1.7m1.7 0h1.7M399.2 157.5h1.7M399.2 159.5h1.7m3.4 0h1.7M348.4 161.5h1.7m45.7 0h1.7m6.8 0h3.3m23.8 0h1.6m62.2 0h1.6m1.7 0h3.4M392.4 163.5h1.7m10.2 0h1.7m3.3 0h1.7M383.9 165.5h1.7m3.4 0h1.7m15.3 0h1.6m1.7 0h1.7m6.8 0h1.7M341.6 169.5h1.7m30.5 0h1.7m13.5 0h1.7m6.8 0h1.7m11.8 0h1.7m3.4 0h1.7m10.2 0h1.7M348.4 171.5h1.7m6.7 0h1.7m37.3 0h3.4m1.7 0h1.7m1.7 0h1.7m1.6 0h3.4m17 0h1.7m1.7 0h1.6m1.7 0h1.7M356.8 173.5h1.7M399.2 175.6h1.7M358.5 177.6h1.7m10.2 0h1.7m6.8 0h1.6m15.3 0h1.7m10.1 0h1.7m5.1 0h1.7m1.7 0h1.7m5.1 0h1.7M355.1 179.6h1.7m15.3 0h1.7m8.4 0h1.7m28.8 0h1.7m3.4 0h1.7M346.7 181.6h3.4M346.7 183.6h1.7m6.7 0h1.7m13.6 0h1.7m23.7 0h3.4m8.4 0h1.7M360.2 185.6h1.7m11.9 0h1.7m20.3 0h1.7m15.2 0h1.7m3.4 0h1.7M341.6 187.6h1.7m11.8 0h1.7m8.5 0h5.1m1.7 0h1.7m20.3 0h1.7m10.2 0h1.6M343.3 189.6h1.7m5.1 0h1.7m15.2 0h1.7m3.4 0h1.7m15.2 0h1.7m8.5 0h1.7M355.1 191.6h3.4m5.1 0h1.7m6.8 0h1.7m5.1 0h1.6m23.8 0h1.7m35.5 0h1.7M350.1 193.6h1.7m15.2 0h1.7m1.7 0h1.7m16.9 0h1.7m5.1 0h1.7"/>
<path stroke="#1f31c1" stroke-width="2.00" d="M474.8 27.2h1.7M474.8 35.2h1.7m3.4 0h1.7M479.9 45.2h3.4M481.6 53.3h1.7M490.1 61.3h1.7M474.8 63.3h1.7M476.5 65.3h1.7M407.6 75.3h1.7M473.1 79.3h3.4M476.5 91.4h1.7m1.7 0h3.4M481.6 93.4h1.7M490.1 95.4h1.7m13.5 0h1.7M501.9 97.4h1.7M498.5 107.4h1.7M500.2 109.4h1.7M490.1 119.4h1.7M380.5 151.5h1.7M404.3 165.5h1.7m1.6 0h1.7M378.9 169.5h1.6M399.2 179.6h1.7M407.6 185.6h1.7M356.8 187.6h1.7M341.6 189.6h1.7"/>
<path stroke="#1b2aa5" stroke-width="2.00" d="M479.9 27.2h1.7m18.6 0h1.7M479.9 33.2h1.7M473.1 37.2h3.4M479.9 39.2h1.7M490.1 49.3h1.7M471.4 53.3h3.4m5.1 0h1.7m8.5 0h1.7M474.8 59.3h1.7M474.8 61.3h5.1m1.7 0h1.7M481.6 63.3h1.7M355.1 75.3h1.7m118 0h3.4M356.8 79.3h1.7M478.2 81.3h3.4M471.4 91.4h1.7M464.6 93.4h1.7m8.5 0h1.7m23.7 0h1.7M479.9 95.4h1.7M481.6 99.4h1.7m11.9 0h1.6m3.4 0h1.7M485 101.4h1.7m3.4 0h1.7m6.7 0h1.7M500.2 105.4h1.7M412.7 107.4h1.7m65.5 0h3.4m13.5 0h1.7m1.7 0h1.7M490.1 109.4h1.7M407.6 111.4h1.7m22.1 0h1.6M490.1 115.4h1.7M500.2 117.4h1.7m3.4 0h1.7M399.2 119.4h1.7m97.6 0h1.7M431.4 129.4h1.6M380.5 141.5h1.7M407.6 147.5h1.7M407.6 159.5h1.7M399.2 161.5h1.7M400.9 165.5h1.7M356.8 169.5h1.7m40.7 0h1.7m16.9 0h1.7m5.1 0h1.7M350.1 171.5h1.7m60.9 0h1.7m10.2 0h1.7M346.7 177.6h3.4m5 0h3.4m15.3 0h1.7M341.6 179.6h1.7m30.5 0h1.7m25.4 0h1.7m1.7 0h1.7M341.6 181.6h1.7M348.4 183.6h1.7M346.7 185.6h1.7m6.7 0h1.7m32.2 0h1.7m8.5 0h1.7M378.9 187.6h1.6M355.1 189.6h1.7M341.6 191.6h1.7m3.4 0h1.7m40.6 0h1.7m8.5 0h1.7m6.7 0h1.7M348.4 193.6h1.7m22 0h1.7"/>
<path stroke="#17248b" stroke-width="2.00" d="M481.6 27.2h1.7m6.8 0h1.7M490.1 29.2h1.7M490.1 31.2h1.7m16.9 0h1.7M486.7 33.2h1.7m1.7 0h1.7m8.4 0h1.7M461.3 35.2h1.6m25.5 0h1.7m10.1 0h1.7M479.9 37.2h3.4m6.8 0h1.7m10.1 0h1.7m6.8 0h1.7M490.1 39.2h1.7M479.9 41.2h3.4m6.8 0h1.7M481.6 43.2h1.7M462.9 45.2h1.7m3.4 0h1.7M479.9 47.2h1.7M481.6 49.3h1.7M479.9 51.3h3.4m6.8 0h1.7M466.3 53.3h1.7m10.2 0h1.7M464.6 55.3h1.7m15.3 0h1.7M476.5 57.3h1.7M479.9 61.3h1.7m3.4 0h1.7M471.4 63.3h1.7M474.8 65.3h1.7m3.4 0h1.7M348.4 69.3h1.7m129.8 0h3.4M479.9 71.3h1.7M476.5 73.3h1.7m1.7 0h1.7M356.8 75.3h1.7m106.1 0h1.7m5.1 0h1.7M471.4 77.3h1.7m1.7 0h1.7M341.6 79.3h1.7m5.1 0h1.7m131.5 0h1.7M355.1 81.3h1.7m50.8 0h1.7m58.7 0h3.4M473.1 83.3h1.7m5.1 0h1.7M474.8 85.3h1.7m3.4 0h1.7M479.9 87.3h1.7M474.8 89.3h1.7m3.4 0h1.7M468 91.4h1.7M469.7 95.4h1.7m3.4 0h1.7m8.5 0h1.7m15.2 0h1.7m5.1 0h1.7M424.6 97.4h1.7m43.4 0h1.7m10.2 0h1.7m6.8 0h1.7m5 0h5.1M490.1 99.4h1.7M481.6 101.4h1.7m11.9 0h1.6m11.9 0h1.7M407.6 103.4h1.7m92.6 0h1.7m5.1 0h1.7M481.6 105.4h1.7m15.2 0h1.7m1.7 0h1.7m5.1 0h3.4M409.3 107.4h1.7m77.4 0h3.4m10.1 0h1.7m6.8 0h1.7M404.3 109.4h1.7m6.7 0h1.7m87.5 0h1.7m3.4 0h3.4M485 111.4h1.7m13.5 0h1.7m1.7 0h1.7M490.1 113.4h1.7M407.6 115.4h3.4m89.2 0h1.7m1.7 0h1.7m3.4 0h1.7M490.1 117.4h1.7m5 0h1.7m5.1 0h1.7M407.6 119.4h1.7m8.5 0h1.7m62.1 0h1.7m1.7 0h1.7m8.5 0h1.6m3.4 0h1.7M389 125.4h1.7M373.8 127.4h1.7M395.8 129.4h1.7M356.8 131.4h1.7M373.8 141.5h1.7m3.4 0h1.6m3.4 0h1.7m13.6 0h1.7M378.9 147.5h1.6m28.8 0h1.7m28.8 0h1.7m19.8 0h1.6m5.1 0h1.7M404.3 151.5h1.7m6.7 0h1.7M395.8 155.5h1.7M500.2 157.5h1.7M400.9 161.5h1.7m5 0h1.7m3.4 0h3.4M389 163.5h1.7m16.9 0h1.7M392.4 165.5h1.7M348.4 169.5h1.7m5 0h1.7m35.6 0h1.7m10.2 0h1.7m3.3 0h1.7m3.4 0h1.7m15.3 0h1.6M341.6 171.5h1.7m11.8 0h1.7m17 0h1.7m23.7 0h1.7M372.1 173.5h1.7m25.4 0h1.7M356.8 175.6h1.7M341.6 177.6h3.4m5.1 0h1.7m37.2 0h1.7m1.7 0h1.7m18.6 0h1.7M346.7 179.6h1.7m22 0h1.7m3.4 0h1.7m15.2 0h1.7m15.2 0h1.7M356.8 181.6h1.7m49.1 0h1.7M341.6 183.6h1.7m13.5 0h1.7m13.6 0h1.7M348.4 185.6h3.4m45.7 0h1.7m5.1 0h1.7M343.3 187.6h1.7m28.8 0h1.7m13.5 0h1.7m16.9 0h1.7M348.4 189.6h1.7M348.4 191.6h1.7m10.1 0h1.7m3.4 0h1.7m64.4 0h1.6M341.6 193.6h1.7m13.5 0h1.7M355.1 195.6h1.7"/>
<path stroke="#86843d" stroke-width="2.00" d="M353.5 29.2h1.6m67.8 0h1.7M385.6 31.2h1.7M406 33.2h1.6M353.5 35.2h1.6M402.6 37.2h1.7M358.5 39.2h1.7M402.6 41.2h1.7m1.7 0h1.6M402.6 47.2h1.7M351.8 49.3h1.7M351.8 51.3h3.3M368.7 55.3h1.7m10.1 0h1.7m3.4 0h1.7M345 57.3h1.7m32.2 0h1.6m30.5 0h1.7M363.6 59.3h1.7m3.4 0h1.7m40.6 0h1.7M402.6 65.3h1.7M446 67.3h1.7m3.4 0h1.7m39 0h3.4m1.6 0h1.7M510.4 69.3h1.7M493.5 73.3h3.3m5.1 0h5.1M495.2 75.3h1.6m6.8 0h1.7M496.8 77.3h3.4m8.5 0h1.7M491.8 79.3h3.4m15.2 0h1.7M510.4 83.3h1.7M345 85.3h1.7m101 0h1.7m55.9 0h1.7M345 87.3h1.7M345 93.4h1.7m15.2 0h1.7M346.7 95.4h1.7m5.1 0h1.6M350.1 97.4h5m10.2 0h1.7M346.7 99.4h1.7m10.1 0h3.4M341.6 101.4h1.7m6.8 0h3.4M348.4 103.4h3.4M346.7 105.4h5.1M348.4 107.4h5.1m10.1 0h1.7m1.7 0h1.7M348.4 109.4h1.7m1.7 0h3.3m6.8 0h1.7m1.7 0h1.7m1.7 0h1.7M348.4 111.4h1.7m6.7 0h1.7M341.6 113.4h1.7M346.7 117.4h1.7M345 119.4h1.7M466.3 123.4h1.7m15.3 0h1.7M345 125.4h1.7m101 0h1.7M345 127.4h1.7M447.7 135.5h1.7M447.7 143.5h1.7m28.8 0h1.7M451.1 153.5h3.4m1.7 0h5.1M447.7 155.5h1.7m1.7 0h1.7M478.2 161.5h1.7M368.7 163.5h1.7m101 0h1.7M466.3 167.5h1.7M447.7 173.5h1.7m28.8 0h1.7M447.7 175.6h1.7M510.4 193.6h1.7M447.7 195.6h1.7m28.8 0h1.7m30.5 0h1.7"/>
<path stroke="#c5c258" stroke-width="2.00" d="M368.7 29.2h1.7M402.6 55.3h1.7M385.6 59.3h1.7M402.6 67.3h1.7M361.9 95.4h1.7M345 97.4h3.4m13.5 0h1.7M343.3 99.4h3.4m22 0h1.7M346.7 101.4h1.7M341.6 103.4h1.7m3.4 0h1.7m11.8 0h1.7M345 107.4h1.7M343.3 109.4h1.7M346.7 111.4h1.7M478.2 123.4h1.7M447.7 153.5h1.7"/>
<path stroke="#dad662" stroke-width="2.00" d="M402.6 29.2h1.7M343.3 95.4h1.7M343.3 103.4h1.7M343.3 105.4h1.7M345 109.4h1.7M343.3 113.4h1.7M478.2 163.5h1.7"/>
<path stroke="#9b9846" stroke-width="2.00" d="M402.6 31.2h1.7M402.6 33.2h1.7M402.6 35.2h1.7M368.7 39.2h1.7M402.6 43.2h1.7M351.8 47.2h1.7M353.5 49.3h1.6M368.7 57.3h1.7m11.8 0h3.4m20.4 0h1.6m6.8 0h1.7M402.6 59.3h1.7m10.1 0h1.7M402.6 63.3h1.7M507 67.3h1.7m1.7 0h1.7M402.6 69.3h1.7M491.8 73.3h1.7M491.8 75.3h3.4M491.8 77.3h3.4M507 79.3h1.7M501.9 81.3h1.7M343.3 85.3h1.7M343.3 93.4h1.7m13.5 0h1.7m3.4 0h1.7M348.4 95.4h1.7m18.6 0h1.7M341.6 97.4h1.7m25.4 0h1.7M348.4 99.4h1.7m3.4 0h1.6m8.5 0h1.7M358.5 103.4h1.7m1.7 0h1.7m5.1 0h1.7M341.6 105.4h1.7m8.5 0h1.7m6.7 0h3.4M341.6 107.4h1.7M346.7 109.4h1.7M341.6 111.4h3.4m8.5 0h1.6m13.6 0h1.7M343.3 115.4h1.7M345 117.4h1.7M346.7 119.4h1.7M343.3 121.4h3.4m101 0h1.7M343.3 123.4h1.7M483.3 143.5h1.7M422.9 153.5h1.7M447.7 157.5h1.7M447.7 165.5h1.7M452.8 167.5h1.7M491.8 175.6h1.7M478.2 181.6h1.7m11.9 0h1.7"/>
<path stroke="#b0ad4f" stroke-width="2.00" d="M368.7 33.2h1.7M402.6 39.2h1.7M353.5 47.2h1.6M377.2 57.3h1.7m23.7 0h1.7M406 59.3h1.6M505.3 67.3h1.7M345 89.3h1.7M341.6 95.4h1.7m8.5 0h1.7M343.3 97.4h1.7M341.6 99.4h1.7m6.8 0h1.7M348.4 101.4h1.7m3.4 0h1.6m13.6 0h1.7M363.6 103.4h1.7M368.7 105.4h1.7M343.3 107.4h1.7m1.7 0h1.7M345 113.4h1.7M345 115.4h1.7M343.3 117.4h1.7M476.5 123.4h1.7M466.3 163.5h1.7"/>
<path stroke="#2338de" stroke-width="2.00" d="M479.9 75.3h1.7M407.6 179.6h1.7M356.8 185.6h1.7"/>
<path stroke="#263cee" stroke-width="2.00" d="M479.9 79.3h1.7"/>
<path stroke="#f0ec6c" stroke-width="2.00" d="M345 95.4h1.7M343.3 101.4h1.7m0 0h1.7M345 103.4h1.7M345 105.4h1.7M345 111.4h1.7"/>
<rect x="444.90" y="26.20" width="1.10" height="170.40" fill="#c8c8c8"/>
<rect x="362.50" y="520.30" width="145.70" height="84.90" fill="#000"/>
<path stroke="#17248b" stroke-width="12.13" d="M362.5 526.4h1.5m20.3 0h1.4m1.5 0h1.4m36.3 0h1.4M382.8 538.5h1.5M417.6 550.6h2.9m7.3 0h1.4M387.2 562.8h1.4m73.5 0h1.4M375.6 574.9h1.4m5.8 0h1.5m27.5 0h1.5M417.6 587h1.5m84.8 0h1.4M379.9 599.1h1.5m7.2 0h1.5m31.9 0h2.9"/>
<path stroke="#1b2aa5" stroke-width="12.13" d="M364 526.4h1.4m53.7 0h1.4M362.5 538.5h1.5m53.6 0h1.5m15.9 0h1.5m51.5 0h1.5M368.3 550.6h2.9m58 0h1.5m57.3 0h1.5M388.6 562.8h1.5m29 0h1.4m40.1 0h1.5m27.4 0h1.4M417.6 574.9h1.5m41.5 0h1.5M365.4 587h1.5M362.5 599.1h1.5m18.8 0h1.5m1.4 0h1.5"/>
<path stroke="#141e72" stroke-width="12.13" d="M365.4 526.4h1.5m15.9 0h1.5m33.3 0h1.5m7.2 0h1.5m60.2 0h1.5M364 538.5h1.4m2.9 0h1.5m52.2 0h1.4m13.1 0h1.4m51.6 0h2.8M379.9 550.6h1.5M379.9 562.8h1.5m2.9 0h1.4m40.6 0h1.5m66 0h1.4M365.4 574.9h1.5m2.9 0h1.4m7.3 0h2.9m59.4 0h1.5M375.6 587h1.4m71.1 0h1.4M439.4 599.1h1.4m7.3 0h1.4m38.5 0h1.5"/>
<path stroke="#2338de" stroke-width="12.13" d="M366.9 526.4h1.4M419.1 538.5h1.4M362.5 562.8h1.5M364 574.9h1.4"/>
<path stroke="#10185a" stroke-width="12.13" d="M368.3 526.4h1.5m15.9 0h1.5m1.4 0h1.5m31.9 0h2.9m23.2 0h1.4m31.3 0h1.5M365.4 538.5h1.5m8.7 0h1.4m1.5 0h2.9m2.9 0h1.4m26.1 0h2.9m8.7 0h1.5m8.7 0h1.4m2.9 0h1.5m15.5 0h1.4m47.6 0h1.4M364 550.6h1.4m1.5 0h1.4m4.4 0h1.4m7.3 0h1.4m2.9 0h1.5m1.4 0h1.5m18.8 0h1.5m14.5 0h1.4m8.7 0h1.5m2.9 0h1.4M382.8 562.8h1.5m24.6 0h1.5m1.4 0h1.5m4.3 0h1.5m2.9 0h1.4m35.8 0h1.4M377 574.9h1.5m42 0h5.8m32.9 0h1.4M378.5 587h1.4m29 0h1.5m1.4 0h1.5m31.9 0h1.4m2.9 0h1.5M381.4 599.1h1.4m1.5 0h1.4m4.4 0h1.4m16 0h1.4m8.7 0h1.5m24.6 0h2.9m34.2 0h1.5"/>
<path stroke="#1f31c1" stroke-width="12.13" d="M369.8 526.4h1.4m40.6 0h1.5M369.8 538.5h1.4m85.1 0h1.5M382.8 550.6h1.5m37.7 0h1.4M364 562.8h1.4M362.5 587h2.9m4.4 0h1.4M365.4 599.1h1.5"/>
<path stroke="#080a20" stroke-width="12.13" d="M371.2 526.4h2.9m33.4 0h1.4m21.8 0h1.4m1.5 0h2.9m35.7 0h1.4m4.3 0h1.5m4.3 0h2.9m2.9 0h1.4m4.3 0h2.9M371.2 538.5h1.5m8.7 0h1.4m31.9 0h1.5m27.5 0h1.5m15.4 0h1.5m24.5 0h1.4M398.8 550.6h1.4m7.3 0h1.4m4.4 0h1.4m18.9 0h1.4m10.2 0h1.4m5.4 0h1.4m5.8 0h1.4m21.7 0h1.4m7.2 0h1.4M394.4 562.8h1.5m7.2 0h1.5m20.3 0h1.4m18.9 0h1.4m1.5 0h2.9M372.7 574.9h1.4m20.3 0h1.5m37.7 0h1.4m17 0h1.4m10.1 0h1.5m10.1 0h1.4M379.9 587h1.5m11.6 0h1.4m11.6 0h1.5m5.8 0h2.9m10.1 0h1.5m1.4 0h1.5m27.1 0h1.4m1.4 0h2.9m7.2 0h1.5m30.2 0h1.5m2.9 0h1.4M372.7 599.1h1.4m29 0h1.5m4.3 0h1.5m1.4 0h1.5m14.5 0h1.4m8.7 0h1.5m10.1 0h1.5"/>
<path stroke="#383719" stroke-width="12.13" d="M374.1 526.4h1.5m21.7 0h1.5m11.6 0h1.4m24.7 0h1.4m24.2 0h1.4m2.9 0h1.5M387.2 538.5h1.4M401.7 550.6h1.4m39.2 0h1.4m14.1 0h1.4m2.9 0h1.4m1.5 0h1.4m13 0h1.4M371.2 562.8h1.5m27.5 0h1.5m4.3 0h1.5m57.5 0h1.4m5.8 0h1.4m1.5 0h1.4m10.1 0h1.4m4.3 0h1.5m2.9 0h1.4m2.9 0h1.4m4.4 0h1.4M406 574.9h1.5m2.9 0h1.4m18.9 0h2.9m54.4 0h1.5m2.8 0h1.5m4.3 0h1.5m5.7 0h1.5M430.7 587h1.4m5.8 0h1.5m25.6 0h1.4M430.7 599.1h1.4m63.1 0h1.5m2.9 0h1.4"/>
<path stroke="#0a0e31" stroke-width="12.13" d="M375.6 526.4h1.4m1.5 0h1.4m1.5 0h1.4m46.4 0h1.5m8.7 0h1.4m1.5 0h1.4m31.4 0h1.4M374.1 538.5h1.5m49.3 0h2.9m66 0h1.4M362.5 550.6h1.5m14.5 0h1.4m40.6 0h1.5m10.1 0h1.5m2.9 0h1.4m8.7 0h4.4m34.1 0h1.5M368.3 562.8h1.5m5.8 0h1.4m13.1 0h1.4m4.4 0h1.4m1.5 0h1.4m4.4 0h1.4m23.2 0h1.5m10.1 0h1.5m1.4 0h1.5m42.8 0h1.5M374.1 574.9h1.5m10.1 0h2.9m18.9 0h1.4m4.4 0h2.9m27.5 0h4.4m1.4 0h1.5m5.3 0h2.9m11.5 0h1.5m1.4 0h1.5M371.2 587h1.5m10.1 0h2.9m1.5 0h1.4m1.5 0h1.4m16 0h1.4m16 0h1.4m14.5 0h1.5m1.4 0h1.5m14 0h1.4m20.2 0h1.5M378.5 599.1h1.4m16 0h1.4m23.2 0h1.5m2.9 0h2.9m1.4 0h1.5m58.8 0h1.4"/>
<path stroke="#050503" stroke-width="12.13" d="M377 526.4h1.5m11.6 0h1.4m2.9 0h1.5m2.9 0h1.4m4.4 0h1.4m7.3 0h1.4m13.1 0h1.4m16 0h1.4m24.1 0h1.5m1.4 0h1.5m15.8 0h1.4m5.8 0h2.9M388.6 538.5h1.5m8.7 0h1.4m1.5 0h1.4m39.2 0h1.4m18.4 0h1.4m20.2 0h1.4m15.9 0h1.4M395.9 550.6h1.4m8.7 0h1.5m18.8 0h1.5m41.5 0h1.4m2.9 0h1.5m18.7 0h1.4M377 562.8h1.5m36.2 0h1.5m17.4 0h1.4m21.3 0h1.5m37.4 0h1.5M391.5 574.9h2.9m1.5 0h1.4m18.9 0h1.4m10.2 0h2.9m7.2 0h1.5m2.9 0h1.4m37.1 0h1.5m11.5 0h2.9m5.7 0h1.5M377 587h1.5m2.9 0h1.4m11.6 0h1.5m7.2 0h1.5m30.4 0h1.5m42.9 0h1.4m14.4 0h1.5M377 599.1h1.5m13 0h1.5m1.4 0h1.5m1.4 0h1.5m2.9 0h1.4m1.5 0h2.9m51.7 0h1.4m23.1 0h1.4m1.5 0h1.4m13 0h1.4"/>
<path stroke="#0d1345" stroke-width="12.13" d="M379.9 526.4h1.5m21.7 0h1.5m4.3 0h1.5m30.4 0h1.5m1.4 0h1.5m1.4 0h1.5m28.4 0h1.4m8.7 0h1.4M372.7 538.5h1.4m2.9 0h1.5m60.9 0h2.9m38.5 0h1.5m20.1 0h1.5M375.6 550.6h2.9m5.8 0h1.4m1.5 0h1.4m23.2 0h1.5m10.1 0h1.5m5.8 0h1.4m8.7 0h1.5m41.4 0h1.4M365.4 562.8h1.5m2.9 0h1.4m7.3 0h1.4m1.5 0h1.4m2.9 0h1.5m10.1 0h1.5m2.9 0h1.4m4.4 0h1.4m4.4 0h1.4m8.7 0h1.5m14.5 0h1.4m50.1 0h1.4m11.6 0h1.4M381.4 574.9h1.4m1.5 0h1.4m40.6 0h1.5m11.6 0h1.4m7.3 0h1.4m54.4 0h1.4M368.3 587h1.5m2.9 0h1.4m11.6 0h1.5m1.4 0h1.5m1.4 0h1.5m27.5 0h2.9m16 0h1.4m5.8 0h1.5M368.3 599.1h1.5m5.8 0h1.4m63.8 0h1.5m4.3 0h1.5m55.8 0h1.4"/>
<path stroke="#252511" stroke-width="12.13" d="M391.5 526.4h2.9M393 538.5h1.4m1.5 0h1.4m7.3 0h2.9m23.2 0h1.4m25.7 0h2.8m21.7 0h1.4M374.1 550.6h1.5m18.8 0h1.5m14.5 0h1.4m58.9 0h2.9m1.5 0h1.4m13 0h1.4m10.1 0h1.4M410.4 562.8h1.4m20.3 0h1.5m2.9 0h1.4m47.2 0h1.5m15.8 0h1.5m1.4 0h1.5M371.2 574.9h1.5m29 0h1.4m51.8 0h1.4M401.7 587h1.4m33.4 0h1.4m40 0h1.5m8.6 0h1.5m1.4 0h1.4m5.8 0h1.5M432.1 599.1h1.5m18.4 0h1.4m1.5 0h2.9m11.5 0h1.4m2.9 0h1.5m15.8 0h1.4m14.5 0h1.4"/>
<path stroke="#141409" stroke-width="12.13" d="M395.9 526.4h1.4m4.4 0h1.4m2.9 0h1.5m7.2 0h2.9m20.3 0h1.5m12.6 0h1.4m5.8 0h1.4M385.7 538.5h1.5m4.3 0h1.5m10.1 0h1.5m4.3 0h2.9m4.4 0h1.4m2.9 0h1.5m10.1 0h1.5m19.8 0h1.5m30.2 0h1.5m5.7 0h1.5m13 0h1.4M365.4 550.6h1.5m26.1 0h1.4m61.9 0h1.5m23 0h1.5M374.1 562.8h1.5m40.6 0h1.4m10.2 0h1.4m1.5 0h1.4m25.7 0h1.4m4.3 0h1.5m4.3 0h2.9M390.1 574.9h1.4m5.8 0h2.9m2.9 0h1.5m31.9 0h1.4m27.1 0h4.3m27.4 0h1.4m2.9 0h1.4M397.3 587h1.5m57.5 0h1.5m5.7 0h1.5m4.3 0h1.4m2.9 0h1.5m14.4 0h1.4m5.8 0h1.4m2.9 0h1.4m2.9 0h1.5M374.1 599.1h1.5m40.6 0h1.4m18.9 0h1.4m58.8 0h1.4m4.3 0h1.5m1.4 0h1.5"/>
<path stroke="#86843d" stroke-width="12.13" d="M400.2 526.4h1.5M473.6 538.5h1.5M454.9 562.8h1.4M400.2 574.9h1.5M485.1 587h1.5M410.4 599.1h1.4m60.4 0h1.4m4.3 0h1.5"/>
<path stroke="#060712" stroke-width="12.13" d="M420.5 526.4h1.5m10.1 0h1.5m15.9 0h1.5m5.3 0h1.5m2.8 0h1.5m17.3 0h1.4m13 0h1.4M397.3 538.5h1.5m8.7 0h1.4m18.9 0h2.9m14.5 0h1.4m1.5 0h2.9m54.3 0h1.5M371.2 550.6h1.5m17.4 0h2.9m4.3 0h1.5m4.3 0h2.9m8.7 0h2.9m20.3 0h1.5m4.3 0h1.5m15.4 0h1.5m24.5 0h1.4m15.9 0h1.4M372.7 562.8h1.4m17.4 0h2.9m26.1 0h1.5m13 0h1.5m1.4 0h1.5m2.9 0h1.4m2.9 0h1.5m25.5 0h1.5M368.3 574.9h1.5m18.8 0h1.5m14.5 0h1.4m2.9 0h1.5m24.6 0h1.5m25.6 0h1.4m5.8 0h1.4m1.5 0h1.4m15.9 0h2.8M374.1 587h1.5m20.3 0h1.4m1.5 0h1.4m4.4 0h1.4m10.2 0h1.4m5.8 0h1.5m2.9 0h1.4m4.4 0h1.4m7.3 0h1.4m8.3 0h1.4m21.7 0h1.4m17.3 0h1.4M371.2 599.1h1.5m20.3 0h1.4m4.4 0h1.4m13.1 0h1.4m18.9 0h2.9m5.8 0h1.4m16.9 0h1.5"/>
<path stroke="#b0ad4f" stroke-width="12.13" d="M453.4 526.4h1.5m46.1 0h2.9M477.9 538.5h1.5M477.9 574.9h1.5m4.3 0h1.4M400.2 587h1.5m51.7 0h1.5m17.3 0h1.4m18.7 0h1.5M467.9 599.1h1.4m23 0h1.5"/>
<path stroke="#9b9846" stroke-width="12.13" d="M454.9 526.4h1.4m49 0h1.5M470.7 538.5h1.5m2.9 0h1.4M453.4 550.6h1.5m11.5 0h1.5M485.1 574.9h1.5M466.4 587h1.5M457.8 599.1h1.4m17.3 0h1.4m4.4 0h1.4m1.4 0h1.5"/>
<path stroke="#5e5d2b" stroke-width="12.13" d="M457.8 526.4h1.4m23.1 0h1.4M469.3 538.5h1.4m26 0h4.3M499.6 550.6h1.4m4.3 0h2.9M498.1 562.8h1.5M499.6 574.9h1.4M467.9 587h1.4m17.3 0h1.4m11.6 0h1.4M462.1 599.1h1.4m2.9 0h1.5"/>
<path stroke="#c5c258" stroke-width="12.13" d="M463.5 526.4h1.5M465 538.5h1.4m1.5 0h1.4M476.5 550.6h2.9M476.5 562.8h2.9M482.3 587h2.8M463.5 599.1h1.5"/>
<path stroke="#4b4922" stroke-width="12.13" d="M465 526.4h1.4m2.9 0h1.4m21.6 0h1.5m10.1 0h1.4M390.1 538.5h1.4m2.9 0h1.5m4.3 0h1.5m44.9 0h1.5m28.4 0h1.4m1.5 0h1.4m14.4 0h1.5M400.2 550.6h1.5m53.2 0h1.4m7.2 0h1.5m31.7 0h2.9m2.8 0h1.5M452 562.8h1.4m14.5 0h1.4m10.1 0h1.4m2.9 0h1.4M453.4 574.9h1.5m24.5 0h1.4M410.4 587h1.4m20.3 0h1.5m42.9 0h1.4M414.7 599.1h1.5m54.5 0h1.5m7.2 0h1.4m13 0h1.4"/>
<path stroke="#727033" stroke-width="12.13" d="M467.9 526.4h1.4M463.5 538.5h1.5m7.2 0h1.4M467.9 550.6h1.4m23 0h1.5m1.4 0h1.5M466.4 562.8h1.5m12.9 0h2.9m15.9 0h1.4M476.5 574.9h1.4m28.9 0h1.4M454.9 587h1.4M400.2 599.1h1.5m63.3 0h1.4m8.7 0h1.4m21.6 0h1.5"/>
<path stroke="#f0ec6c" stroke-width="12.13" d="M506.8 526.4h1.4M466.4 538.5h1.5M453.4 562.8h1.5M482.3 574.9h1.4M453.4 599.1h1.5"/>
<path stroke="#263cee" stroke-width="12.13" d="M366.9 538.5h1.4m83.7 0h1.4M366.9 562.8h1.4M362.5 574.9h1.5m2.9 0h1.4m50.8 0h1.4M366.9 587h1.4m50.8 0h1.4M364 599.1h1.4m1.5 0h1.4m1.5 0h1.4m16 0h1.4m30.5 0h1.4"/>
<path stroke="#dad662" stroke-width="12.13" d="M486.6 574.9h1.4"/>
<rect x="451.00" y="520.30" width="1.00" height="84.90" fill="#c8c8c8"/>
<rect x="20.00" y="344.50" width="99.00" height="132.20" fill="#000"/>
<path stroke="#050503" stroke-width="3.00" d="M20 346h1m4 0h1m1 0h2m2 0h1m7 0h1m34 0h1m7.6 0h1m14.7 0h1m6.9 0h2M20 349h1m6 0h1m3 0h1m7 0h2m7 0h1m7 0h1m1 0h1m2 0h1m20.6 0h1m1.9 0h1m7.9 0h1m9.8 0h1m2 0h1m6.8 0h1M58 352h1m23.6 0h1m1.9 0h1M21 355h1m5 0h1m1 0h2m36 0h1m29.3 0h1m4.9 0h1m13.8 0h1M32 358h1m12 0h1m10 0h1m28.5 0h1m3 0h.9m1 0h1m2 0h1m21.6 0h1M27 361h1m1 0h1m11 0h2m13 0h1m1 0h1m25.5 0h2m4.9 0h1m2 0h1M23 364h1m5 0h1m2 0h1m12 0h2m13 0h1m4 0h1m1 0h1m12.6 0h1m1 0h1m5.9 0h.9m4 0h1m18.7 0h1M29 367h1m1 0h1m21 0h1m5 0h1m34.4 0h1m1 0h.9m2 0h1m13.8 0h1m1.9 0h1M23 370h1m7 0h1m8 0h1m12 0h1m2 0h1m21 0h1m3.6 0h1m.9 0h2m30.5 0h2M20 373h1m15 0h1m3 0h1m1 0h1m5 0h1m16 0h1m13 0h1m33.1 0h1M25 376h1m7 0h1m1 0h1m4 0h1m6 0h1m2 0h1m10 0h3m2 0h1m3 0h1m3 0h1m14.5 0h.9m6 0h.9M22 379.1h1m1 0h2m8 0h2m11 0h1m2 0h1m10 0h1m4 0h1m7 0h1m10.5 0h1m2 0h1m19.7 0h.9m5.9 0h1M20 382.1h1m3 0h1m10 0h1m3 0h1m17 0h1m24.6 0h1m32.4 0h1M24 385.1h1m8 0h1m2 0h2m11 0h1m11 0h2m3 0h1m7 0h1m4 0h1M24 388.1h1m11 0h2m5 0h1m8 0h1m4 0h1m5 0h1m5 0h2m11.6 0h1m9.8 0h1m17.7 0h1M22 391.1h1m13 0h1m26 0h1m2 0h1m3 0h1m4 0h1m10.5 0h1m5.9 0h1m5.9 0h1m10.8 0h1m2 0h.9M49 394.1h1m12 0h3m21.5 0h1m5.9 0h1m5.9 0h1M36 397.1h1m1 0h1m23 0h1m3 0h1m2 0h1m4 0h1m4 0h1M36 400.1h3m8 0h1m22 0h1m8 0h1m32.1 0h1M20 403.1h1m15 0h1m1 0h1m23 0h1m2 0h2m2 0h1m9 0h1m13.4 0h1m17.7 0h1M24 406.1h1m36 0h2m7 0h1m8 0h1m32.1 0h1m2 0h.9M24 409.1h1m12 0h2m18 0h1m4 0h1m1 0h1m1 0h1m3 0h1m4 0h1m3 0h1m6.5 0h1m1 0h1m25.6 0h.9M37 412.1h2m4 0h1m17 0h2m11 0h2m10.5 0h1m5.9 0h1m20.7 0h.9M33 415.1h1m2 0h1m1 0h1m23 0h1m12 0h1m24.3 0h1M20 418.1h1m1 0h1m13 0h1m12 0h1m19 0h1m4 0h1m13.5 0h1m3.9 0h1m17.7 0h1M24 421.1h1m11 0h2m12 0h1m10 0h1m1 0h1m2 0h1m3 0h1m17.5 0h1m22.6 0h1m2 0h.9M25 424.1h1m24 0h1m6 0h1m12 0h1m3 0h2M25 427.1h1m11 0h1m12 0h1m11 0h1m3 0h1m2 0h1m5 0h1m3 0h1m8.5 0h1m3.9 0h1m17.7 0h1M24 430.1h1m18 0h1m5 0h1m14 0h1m10 0h1m36.1 0h1M22 433.1h1m1 0h1m8 0h1m4 0h1m27 0h1m8 0h1m3 0h1m20.3 0h1M31 436.1h1m4 0h1m6 0h1m6 0h1m11 0h1m11 0h1m18.4 0h1m20.7 0h.9M37 439.1h1m11 0h2m11 0h3m4 0h2m4 0h1m39.1 0h.9M22 442.1h1m13 0h2m5 0h1m20 0h1m14 0h1m20.3 0h1M22 445.2h1m20 0h1m17 0h2m1 0h1m9 0h1m14.5 0h.9M20 448.2h1m15 0h1m1 0h1m18 0h1m8 0h1m8 0h1m17.4 0h1m5.9 0h1m10.8 0h1m2 0h.9M36 451.2h3m10 0h2m6 0h1m7 0h1m9 0h1m3 0h1m6.5 0h1m1 0h1m10.8 0h1m10.8 0h1M22 454.2h1m15 0h1m22 0h2m11 0h1m25.3 0h1m10.8 0h1M24 457.2h1m8 0h1m2 0h3m23 0h2m5 0h1m5 0h1m3 0h1m20.3 0h1M36 460.2h1m20 0h1m4 0h2m2 0h1m3 0h1m17.5 0h1m22.6 0h1M25 463.2h1m7 0h3m6 0h1m4 0h2m8 0h2m2 0h1m43.2 0h1m3 0h.9m3 0h1M35 466.2h1m53.5 0h.9m14.8 0h1m2 0h1M22 469.2h1m12 0h1m4 0h1m7 0h1m10 0h1m1 0h1m3 0h1m22.5 0h1m4.9 0h1m9.8 0h1m3 0h.9M20 472.2h1m1 0h1m10 0h1m6 0h2m2 0h1m20 0h1m8 0h1m13.5 0h1m19.7 0h.9M31 475.2h1m2 0h2m9 0h1m9 0h1m2 0h1m1 0h1m13 0h1m3 0h1m10.5 0h.9m3 0h1m18.7 0h1"/>
<path stroke="#383719" stroke-width="3.00" d="M21 346h1m1 0h1m22 0h1m6 0h1m13 0h1m18.5 0h1m1 0h1m22.6 0h1M21 349h1m31 0h1m6 0h1m17 0h1M93.4 352h1m1 0h1m8.8 0h2m1 0h1M26 355h1m49 0h1m9.5 0h1m5.9 0h1m14.8 0h.9M26 358h1m45 0h1m15.5 0h1m15.7 0h1M30 361h1m47 0h1m26.2 0h1m1 0h1m8.8 0h1M26 364h1m26 0h1m22 0h1m16.4 0h1m8.8 0h1m1 0h1m2 0h1m6.8 0h1M76 367h1m28.2 0h1m2 0h1m3.9 0h1M26 370h1m3 0h1m1 0h1m55.5 0h1m14.7 0h3m3.9 0h1m1 0h1M29 373h2m14 0h2m8 0h1m11 0h1m8 0h1m1 0h1m21.3 0h1m10.8 0h1M27 376h1m17 0h1m12 0h1m1 0h1m6 0h1m25.4 0h1M21 379.1h1m1 0h1m6 0h1m1 0h1m20 0h1m5 0h1m52.1 0h1M21 382.1h1m1 0h1m5 0h1m16 0h1m8 0h1m2 0h2m7 0h1m32.3 0h1m13.8 0h.9M27 385.1h2m6 0h1m4 0h1m3 0h2m2 0h1m7 0h1m2 0h1M29 388.1h1m3 0h1m1 0h1m6 0h1m5 0h1m1 0h1m7 0h1m1 0h1M21 391.1h1m9 0h1m2 0h1m5 0h2m6 0h1m11 0h1m6 0h1m10 0h1M23 394.1h1m3 0h3m4 0h2m5 0h1m2 0h1m8 0h1m2 0h1m2 0h2m4 0h1M27 397.1h2m10 0h2m18 0h2m6 0h1M33 400.1h1m21 0h2m1 0h3m4 0h1m20.5 0h1M34 403.1h1m4 0h1m2 0h1m1 0h1m8 0h1m5 0h1M27 406.1h2m2 0h1m7 0h1M39 409.1h1m13 0h1m4 0h1m1 0h1M23 412.1h1m5 0h1m1 0h1m2 0h2m3 0h1m5 0h1m1 0h2m1 0h1M24 415.1h1m3 0h1m5 0h2m5 0h1m11 0h1m1 0h2m1 0h2m7 0h1M21 418.1h1m1 0h1m1 0h1m14 0h1m3 0h2m12 0h1M29 421.1h1m3 0h1m21 0h2m1 0h1m1 0h1M29 424.1h1m4 0h1m4 0h1m6 0h1m8 0h2m1 0h1M28 427.1h1m11 0h1m1 0h1m1 0h1M28 430.1h1m5 0h1m7 0h1m12 0h1m2 0h1M29 433.1h1m9 0h1m1 0h1m11 0h1m1 0h1M23 436.1h1m15 0h1m5 0h1m2 0h1m27 0h1M31 439.1h1m2 0h2m8 0h1m22 0h1m10 0h1M23 442.1h1m4 0h1m2 0h1m2 0h1m5 0h2m6 0h1m10 0h1m1 0h1m3 0h1m20.5 0h1m1 0h1M25 445.2h1m8 0h1m10 0h1m2 0h1m4 0h1m61.1 0h.9M28 448.2h1m5 0h1m5 0h1m3 0h1m3 0h1m6 0h2m1 0h2m18 0h1M20 451.2h2m6 0h1m2 0h1m3 0h1m3 0h1m1 0h1m2 0h2M25 454.2h1m1 0h1m3 0h1m1 0h3m23 0h1m5 0h1m49.1 0h.9M20 457.2h1m6 0h1m12 0h2m6 0h1m1 0h1m9 0h1m32.4 0h1M31 460.2h1m2 0h1m5 0h1m18 0h2M23 463.2h1m8 0h1m20 0h1m39.4 0h1M29 466.2h1m10 0h1m4 0h1m13 0h1m7 0h1m8 0h1m1 0h1m36.1 0h.9M20 469.2h1m25 0h1m13 0h1m25.5 0h1m24.6 0h1M24 472.2h1m4 0h1m2 0h1m13 0h1m13 0h1m39.3 0h1m13.8 0h.9M23 475.2h1m2 0h2m16 0h1m31 0h1m23.3 0h1m10.8 0h1"/>
<path stroke="#080a20" stroke-width="3.00" d="M22 346h1m10 0h1m2 0h2m5 0h1m4 0h1m1 0h1m6 0h1m7 0h1m13 0h1m.6 0h1m2 0h1.9m9.9 0h1.9m6.9 0h1m4.9 0h1M22 349h1m27 0h1m13 0h1m4 0h1m25.4 0h3.9m7.9 0h1m1.9 0h1m5.9 0h1M27 352h1m6 0h2m3 0h3m3 0h2m3 0h1m6 0h1m34.4 0h1m7.9 0h1M31 355h1m8 0h1m1 0h1m1 0h1m16 0h1m3 0h1m8 0h1m5.6 0h1m3.9 0h1m5.9 0h1m20.7 0h1M25 358h1m5 0h1m10 0h1m3 0h1m11 0h1m3 0h1m3 0h1m7 0h1m15.4 0h1m22.7 0h1M24 361h2m8 0h2m3 0h2m3 0h1m3 0h1m1 0h1m30.6 0h1m7.8 0h1M20 364h1m18 0h1m2 0h1m5 0h1m1 0h1m5 0h1m17 0h2M25 367h1m8 0h1m5 0h3m12 0h1m2 0h1m2 0h1m3 0h1m9 0h1m8.5 0h2m4.9 0h1m25.6 0h1M24 370h2m9 0h1m5 0h1m2 0h1m5 0h1m23 0h2m4.6 0h1m8.8 0h1m1 0h1m7.9 0h1M22 373h1m14 0h1m9 0h1m32.6 0h1m3.9 0h1m4.9 0h1m2 0h1m1 0h.9m1 0h1m6.9 0h1m1 0h1M36 376h2m31 0h1m9 0h1m.6 0h1m2.9 0h1m4.9 0h2m10.8 0h2m3 0h1M49 379.1h1m14 0h1m4 0h1m5 0h1m8.5 0h1m5.9 0h1m13.8 0h1M22 382.1h1m41 0h1m5 0h1m4 0h1m9.5 0h1m3 0h.9m4 0h2m.9 0h1m4.9 0h1m1 0h2m3.9 0h1M69 385.1h1m7 0h1m4.6 0h1m5.9 0h.9M49 388.1h1m18 0h1m40.2 0h.9M37 391.1h2m10 0h1m39.5 0h.9M52 394.1h1m15 0h2m12.6 0h1m1.9 0h1m18.7 0h1m3 0h.9m5.9 0h1M22 397.1h1m29 0h1m32.5 0h1m22.7 0h.9m3 0h1M52 400.1h1m16 0h1m10.6 0h1m9.8 0h1M52 403.1h1m31.5 0h1m5.9 0h1M22 406.1h1m14 0h1m47.5 0h1m6.9 0h2M82.6 409.1h1m5.9 0h.9m18.8 0h.9M49 412.1h1m2 0h1m11 0h1m3 0h2m12.6 0h1m10.8 0h1m20.6 0h1M49 415.1h1m2 0h1m11 0h1m1 0h1m1 0h1m13.6 0h1m5.9 0h.9m18.8 0h.9M52 418.1h1m10 0h1m2 0h1m1 0h1m10 0h1m5.5 0h1m29.5 0h1M38 421.1h1m10 0h1m2 0h1m11 0h1m19.5 0h1m5.9 0h1m7.9 0h1m7.9 0h.9M22 424.1h1m28 0h2m9 0h1m1 0h1m1 0h1m18.5 0h1m4.9 0h1m19.7 0h1M22 427.1h1m29 0h1m27.6 0h1m1 0h1m5.9 0h.9m18.8 0h.9M69 430.1h1m12.6 0h1m25.6 0h.9m5.9 0h1M37 433.1h1m32 0h1m14.5 0h1m4.9 0h1m2 0h1m20.6 0h1M24 436.1h1m12 0h1m11 0h1m19 0h1m30.3 0h1M51 439.1h1m2 0h1m22 0h1m31.2 0h.9M52 442.1h1m1 0h1m13 0h2m12.6 0h1m.9 0h2m3 0h.9m1 0h1M49 445.2h1m2 0h1m16 0h1m7 0h1m38 0h1M22 448.2h1m29 0h1m11 0h1m20.5 0h1M52 451.2h1m24 0h1m11.5 0h.9M52 454.2h1m17 0h1m13.5 0h1m30.5 0h1M49 457.2h1m16 0h1m3 0h1M51 460.2h1m30.6 0h1m10.8 0h1M22 463.2h1m40 0h1m16.6 0h1m1 0h1m1.9 0h1m4.9 0h1m3 0h1m10.8 0h1M36 466.2h1m10 0h1m2 0h1m6 0h1m4 0h3m1 0h1m3 0h1m3 0h1m5.6 0h1m12.8 0h2m1.9 0h1m7.9 0h1m7.8 0h2M43 469.2h1m3 0h1m9 0h1m4 0h3m1 0h1m24.4 0h1m5.9 0h1m13.8 0h1m2.9 0h1M37 472.2h2m23 0h1m3 0h1m27.4 0h2m1.9 0h1m13.8 0h1M33 475.2h1m2 0h1m6 0h1m18 0h2m2 0h1m2 0h1m5 0h1m8.5 0h2m7.9 0h1m1 0h2.9m5.9 0h1m2 0h1"/>
<path stroke="#060712" stroke-width="3.00" d="M24 346h1m9 0h2m5 0h1m2 0h1m2 0h1m14 0h1m3 0h1m8 0h1m5.6 0h1m7.8 0h2m4.9 0h1m9.9 0h1M24 349h2m7 0h3m5 0h1m2 0h1m12 0h1m5 0h1m1 0h2m3 0h1m3 0h1m4 0h1m.6 0h1m2.9 0h1m4.9 0h1m12.8 0h1m5.9 0h1m1 0h1M20 352h1m8 0h1m1 0h2m9 0h1m1 0h1m3 0h1m6 0h2m2 0h1m1 0h2m21.5 0h1m4.9 0h2m2 0h1m3.9 0h1m17.7 0h1M20 355h1m7 0h1m3 0h1m8 0h1m3 0h2m9 0h1m1 0h2m22.6 0h1m.9 0h1m5.9 0h1m2 0h1m3.9 0h1M20 358h1m2 0h1m3 0h1m11 0h1m1 0h1m17 0h1m5 0h1m14.6 0h1m2.9 0h1m13.8 0h1M20 361h1m7 0h1m2 0h1m33 0h1m14.6 0h1m10.8 0h1m7.9 0h1m15.7 0h1M24 364h1m2 0h1m16 0h1m10 0h1m2 0h1m2 0h1m22.5 0h2m12.8 0h1m17.7 0h1M20 367h1m6 0h2m3 0h1m12 0h2m9 0h1m25.6 0h1m6.8 0h1M27 370h1m11 0h1m2 0h1m2 0h1m2 0h1m9 0h1m3 0h1m2 0h1m15.6 0h1m16.7 0h1M24 373h1m8 0h1m1 0h1m8 0h1m5 0h1m11 0h2m6 0h1m4 0h1m6.6 0h1m21.6 0h1M22 376h1m34 0h1m6 0h1m10 0h1m6.6 0h1m1.9 0h1m18.7 0h1m3 0h.9m3 0h1m1.9 0h1M36 379.1h2m5 0h1m19 0h1m6 0h1m8 0h1m2.6 0h1m10.8 0h1m7.8 0h1m1 0h1m2 0h1m3.9 0h1M47 382.1h2m1 0h1m10 0h3m2 0h1m7 0h1m4 0h1m10.4 0h2m15.8 0h1M22 385.1h1m15 0h1m31 0h1m4 0h1m36.1 0h1m2.9 0h1M22 388.1h1m41 0h1m1 0h1m8 0h1m3 0h1m9.5 0h.9M50 391.1h1m1 0h1m9 0h1m1 0h1m4 0h1m18.5 0h1M38 394.1h1m11 0h1m38.5 0h.9M49 397.1h1m18 0h1m19.5 0h1.9m3 0h1m21.6 0h1M22 400.1h1m26 0h2m13 0h1m12 0h1m11.5 0h.9m9.9 0h1M24 403.1h1m12 0h1m11 0h1m14 0h1m5 0h1m18.5 0h.9m9.9 0h1m7.9 0h.9m3 0h1M49 406.1h1m16 0h1m1 0h2m12.6 0h1m2.9 0h1m2 0h.9m9.9 0h1m14.7 0h1M22 409.1h1m26 0h1m2 0h1m10 0h1m5 0h1M22 412.1h1m40 0h1m2 0h1m3 0h1m17.5 0h1M22 415.1h1m14 0h1m31 0h1m9 0h1m8.5 0h1m3.9 0h1m17.7 0h1m2 0h.9M38 418.1h1m23 0h1m1 0h1m5 0h1m18.5 0h.9m9.9 0h1M22 421.1h1m46 0h1m4 0h1m7.6 0h1m5.9 0h.9m4 0h1M24 424.1h1m8 0h1m3 0h2m4 0h1m25 0h1m9 0h1m2.6 0h1m4.9 0h1.9m24.7 0h.9M38 427.1h1m10 0h1m14 0h1m5 0h1m15.5 0h1m3.9 0h1m7.9 0h1M22 430.1h1m15 0h1m11 0h1m1 0h1m8 0h1m12 0h1m14.5 0h.9M36 433.1h1m12 0h2m1 0h1m9 0h1m1 0h1m4 0h1m18.5 0h1.9m3 0h1m17.7 0h1m2 0h.9M22 436.1h1m2 0h1m12 0h1m18 0h1m5 0h2m1 0h1m3 0h1m4 0h1m3 0h1m8.5 0h1.9m21.7 0h1M66 439.1h1m12 0h1m5.5 0h1m3 0h.9m25.6 0h1M49 442.1h1m20 0h1M36 445.2h1m1 0h1m27 0h1m3 0h1m8 0h1m8.5 0h1m19.7 0h.9M24 448.2h1m12 0h1m11 0h1m20 0h1m11.6 0h1m5.9 0h.9M22 451.2h1m39 0h1m3 0h1m2 0h2m14.5 0h1m4.9 0h1m1 0h2m13.8 0h.9M49 454.2h1m13 0h1m2 0h1m1 0h2m7 0h1m1 0h1m9.5 0h.9M22 457.2h1m20 0h1m20 0h1m47.1 0h1M49 460.2h2m1 0h1m11 0h1m10 0h1m3 0h1m9.5 0h.9m3 0h1m21.6 0h1M41 463.2h1m23 0h1m28.4 0h1m2.9 0h1m8.9 0h1m6.8 0h1M22 466.2h1m10 0h1m4 0h1m22 0h1m3 0h1m16.6 0h1m1.9 0h1m4.9 0h1m11.8 0h1m1 0h1m2 0h.9m3 0h1M31 469.2h1m1 0h1m3 0h1m12 0h1m5 0h1m17 0h1m7.6 0h1m1.9 0h1m21.7 0h1m6.8 0h1M35 472.2h1m7 0h1m3 0h1m2 0h1m6 0h1m3 0h1m17 0h1m2.6 0h1m5.9 0h.9m1 0h1m12.8 0h1m9.8 0h1M20 475.2h1m18 0h1m16 0h2m3 0h1m3 0h1m16.6 0h1m25.6 0h.9m5.9 0h1"/>
<path stroke="#727033" stroke-width="3.00" d="M26 346h1M26 349h1M100.3 352h1M100.3 355h1m10.8 0h1M100.3 361h1m11.8 0h1M112.1 370h1M23 373h1M26 376h1M76 379.1h1m38.1 0h.9M30 385.1h1M30 388.1h1m9 0h1m5 0h1m25 0h1m3 0h1M32 391.1h1m43 0h1M26 394.1h1m19 0h1m8 0h1m11 0h1M21 397.1h1m8 0h1m1 0h1m13 0h1m29 0h1M30 400.1h1m14 0h1m21 0h1M21 403.1h1m50 0h1M23 406.1h1m52 0h1M26 409.1h1m49 0h1M26 412.1h1m5 0h1m13 0h1M32 415.1h1m9 0h1m3 0h1m29 0h1M72 418.1h1M46 421.1h1m29 0h1m1 0h1M26 424.1h1m18 0h1M29 427.1h2m14 0h1m14 0h1M32 430.1h1m13 0h1m6 0h1m6 0h1m15 0h1M30 433.1h1m47 0h1M78 436.1h1M39 439.1h1m36 0h1M26 442.1h1m2 0h2m14 0h2M21 445.2h1m24 0h1m20 0h1m4 0h1M26 448.2h1m3 0h1m15 0h1M32 451.2h1m34 0h1M26 454.2h1m5 0h1m12 0h1m26 0h1M32 457.2h1m39 0h1M30 460.2h1m1 0h1m2 0h1m9 0h2m6 0h1m13 0h1m8 0h1M26 463.2h1M21 466.2h1m78.3 0h1M21 469.2h1"/>
<path stroke="#252511" stroke-width="3.00" d="M29 346h1m25 0h2m1 0h4m16 0h1m10.5 0h.9m18.8 0h.9m5.9 0h1M23 349h1m5 0h2m14 0h2m8 0h1m53.2 0h.9M21 352h1m4 0h1m33 0h1m11 0h1m3 0h1m1 0h1m17.4 0h.9m1 0h1m4.9 0h1m2 0h1M23 355h1m48 0h1m15.5 0h1m6.9 0h.9m1 0h1m5.9 0h2m1 0h1m.9 0h1m2 0h1M53 358h1m6 0h1m15 0h1m16.4 0h1m2 0h2.9m3.9 0h2m2 0h2M21 361h1m60.6 0h1m5.9 0h.9m5 0h1.9m1 0h2m3.9 0h1m1 0h1m3.9 0h1M21 364h1m37 0h1m12 0h1m5 0h1m17.4 0h.9m8.9 0h2m1.9 0h1m5.9 0h1M67 367h1m4 0h1m15.5 0h1.9m3 0h1m2.9 0h1m4.9 0h1M21 370h1m7 0h1m46 0h1m12.5 0h.9m1 0h1m4.9 0h2m3.9 0h1m9.9 0h1M28 373h1m10 0h1m13 0h1m2 0h1m1 0h2m26.5 0h1m28.5 0h1M23 376h1m5 0h1m9 0h1m2 0h1m1 0h1m3 0h1m7 0h1m2 0h1m28.5 0h1m10.8 0h1m10.8 0h1M20 379.1h1m6 0h1m1 0h1m9 0h4m2 0h1m9 0h2m1 0h1m27.5 0h1m2 0h.9M27 382.1h1m4 0h1m7 0h1m1 0h1m2 0h1m40.5 0h1M20 385.1h1m10 0h1m2 0h1m12 0h1m10 0h1m6 0h1m20.5 0h1m1 0h1m3.9 0h1M20 388.1h1m6 0h2m2 0h1m2 0h1m12 0h1m11 0h1m5 0h1m8 0h1M20 391.1h1m6 0h2m6 0h1m3 0h1m15 0h2m8 0h1m8 0h1M25 394.1h1m5 0h1m1 0h1m13 0h1m9 0h1m3 0h1m50.1 0h1M25 397.1h1m15 0h1m2 0h1m11 0h1m4 0h1m13 0h1m10.5 0h1m27.6 0h.9M20 400.1h1m6 0h2m2 0h1m3 0h1m8 0h1m3 0h1m8 0h1m3 0h2m11 0h2m12.5 0h1M23 403.1h1m3 0h1m3 0h1m3 0h1m7 0h1m3 0h1m7 0h1m1 0h2m4 0h1m11 0h1m39.1 0h.9M20 406.1h1m4 0h1m7 0h1m1 0h1m11 0h2m8 0h1m1 0h1m5 0h1M20 409.1h1m6 0h2m2 0h1m1 0h3m4 0h1m6 0h1m8 0h1m17 0h1m18.4 0h1M20 412.1h1m4 0h1m1 0h1m8 0h1m4 0h1m15 0h2m1 0h1m4 0h1M20 415.1h2m25 0h1m2 0h1m14 0h1M27 418.1h2m2 0h1m1 0h1m1 0h1m3 0h1m1 0h1m1 0h1m4 0h1m7 0h1m3 0h1m4 0h1M25 421.1h1m1 0h2m12 0h1m6 0h1m26 0h1m10.5 0h1M20 424.1h1m14 0h1m11 0h1m11 0h1M31 427.1h1m1 0h1m1 0h2m11 0h1m8 0h3m5 0h1m8 0h1M20 430.1h1m2 0h1m9 0h1m2 0h1m10 0h1m8 0h2m7 0h1M28 433.1h1m2 0h1m3 0h1m7 0h2m2 0h1m10 0h1m2 0h1M27 436.1h1m1 0h1m4 0h1m6 0h1m14 0h1m1 0h2m5 0h1M20 439.1h1m4 0h1m1 0h1m8 0h1m19 0h3m2 0h1m3 0h1m8 0h1m11.5 0h1M25 442.1h1m21 0h1m8 0h2m4 0h1m3 0h1m7 0h1M24 445.2h1m3 0h1m4 0h1m13 0h1m17 0h1M25 448.2h1m1 0h1m11 0h1m7 0h1m2 0h1m12 0h1m22.5 0h1M27 451.2h1m5 0h1m9 0h1m4 0h1m6 0h2m1 0h2m1 0h1m1 0h1M28 454.2h1m18 0h1m2 0h1m5 0h2m35.4 0h1M23 457.2h1m1 0h1m2 0h1m2 0h1m3 0h1m8 0h1m2 0h1m7 0h1m1 0h1m7 0h1m1 0h1M20 460.2h1m3 0h2m2 0h1m12 0h1m14 0h1m8 0h1m20.5 0h1m12.8 0h1M20 463.2h1m10 0h1m12 0h2m9 0h2m2 0h1m7 0h1m10 0h1m7.5 0h1m1 0h1m25.6 0h.9M20 466.2h1m3 0h1m3 0h1m5 0h1m4 0h1m1 0h2m1 0h1m3 0h1m6 0h1m4 0h1m32.4 0h1M27 469.2h1m6 0h1m4 0h1m2 0h1m1 0h2m7 0h1m13 0h1m10 0h1m14.4 0h1m5.9 0h1M25 472.2h1m1 0h1m3 0h1m10 0h1m2 0h1m12 0h2m33.4 0h1m17.7 0h1M24 475.2h1m4 0h1m11 0h1m4 0h1m6 0h1m13 0h1"/>
<path stroke="#4b4922" stroke-width="3.00" d="M30 346h1m41 0h1m27.3 0h1M72 349h1m3 0h1m9.5 0h1m1 0h1m10.8 0h1m10.8 0h1M109.2 352h.9m5.9 0h1M116 355h1M86.5 358h1m7.9 0h1m16.7 0h1m1.9 0h1M72 361h1m3 0h1m9.5 0h1m1 0h1m7.8 0h1m9.9 0h1m.9 0h1M86.5 364h1m1 0h1m23.6 0h1M26 367h1m59.5 0h1m19.7 0h1m7.8 0h1M72 370h1m13.5 0h1m5.9 0h1m13.8 0h1M26 373h1m5 0h1m27 0h1m54.1 0h.9M30 376h1m22 0h1m1 0h1m20 0h1m38.1 0h.9M46 379.1h1m13 0h1m6 0h1m10 0h1m21.3 0h1M30 382.1h1m22 0h1m6 0h1m11 0h1m5 0h1m33.1 0h1M21 385.1h1m1 0h1m17 0h2m10 0h1m1 0h1m11 0h1m10 0h1M44 388.1h2m7 0h1m2 0h1M29 391.1h1m12 0h1m1 0h2m12 0h2M21 394.1h1m17 0h1m2 0h1m5 0h1M29 397.1h1m1 0h1m2 0h1m10 0h1m2 0h1m6 0h1m9 0h1M23 400.1h1m5 0h1m4 0h1m4 0h1m1 0h2M29 403.1h2m14 0h1m2 0h1m11 0h1m17 0h1M29 406.1h1m4 0h1m5 0h3m2 0h1m7 0h1m1 0h2m1 0h1m1 0h1m6 0h1M23 409.1h1m8 0h1m8 0h2m1 0h2m2 0h1m10 0h1m12 0h1m5 0h1M40 412.1h1m1 0h1m1 0h1m8 0h1m2 0h1m10 0h1m10 0h1M23 415.1h1m3 0h1m1 0h1m9 0h2m4 0h1m14 0h1m17 0h1M34 418.1h1m7 0h1m24 0h1m10 0h1M21 421.1h1m1 0h1m6 0h2m7 0h2m3 0h2m7 0h1m5 0h1M23 424.1h1m6 0h1m1 0h1m7 0h3m1 0h1m3 0h1m4 0h1m6 0h1m6 0h1m8 0h1m1 0h1M23 427.1h1m3 0h1m6 0h1m6 0h1m11 0h1m1 0h1m11 0h1m10 0h1M21 430.1h1m5 0h1m1 0h1m5 0h1m3 0h3M23 433.1h1m3 0h1m6 0h1m5 0h1m4 0h1m13 0h2m6 0h1M40 436.1h1m1 0h1m10 0h1m1 0h1m4 0h1m6 0h1M46 439.1h1m1 0h1m4 0h1m5 0h2M20 442.1h2m5 0h1m7 0h1m3 0h1m2 0h1m1 0h1m10 0h1m2 0h1m1 0h1m6 0h1M23 445.2h1m5 0h2m1 0h1m2 0h1m3 0h4m1 0h1m10 0h1m2 0h3m17 0h1M29 448.2h1m5 0h1m5 0h2m2 0h1m7 0h1m13 0h1M23 451.2h1m10 0h1m5 0h1m1 0h1m10 0h1m24 0h1M21 454.2h1m1 0h2m4 0h1m9 0h3m2 0h1m3 0h1m6 0h1m2 0h1m8 0h1M21 457.2h1m7 0h1m4 0h1m4 0h1m2 0h1m10 0h1m4 0h2m18 0h1M23 460.2h1m3 0h1m11 0h1m2 0h1m1 0h1m3 0h1m6 0h1m2 0h1M29 463.2h2m15 0h1m25 0h1m3 0h1m23.3 0h1M23 466.2h1m8 0h1m13 0h1m6 0h1m32.5 0h1m24.6 0h1M29 469.2h1m42 0h1m3 0h1m38.1 0h.9M30 472.2h1m41 0h1m3 0h1m1 0h1M21 475.2h1m8 0h1m41 0h1m42.1 0h.9"/>
<path stroke="#141409" stroke-width="3.00" d="M32 346h1m7 0h1m1 0h1m2 0h1m17 0h1m21.5 0h1m6.9 0h2m9.8 0h1m6.9 0h1M28 349h1m3 0h1m9 0h1m16 0h1m7 0h1m21.5 0h.9m1 0h1m1 0h1M23 352h1m6 0h1m22 0h1m13 0h1m20.5 0h1.9m6.9 0h1m4.9 0h1m5.9 0h2m2 0h1m1.9 0h1M53 355h1m1 0h1m4 0h1m17 0h1m10.5 0h.9m5 0h1m7.8 0h1m2 0h1m2.9 0h1m4.9 0h1M21 358h1m7 0h2m24 0h1m11 0h1m10 0h1m3.6 0h1m22.6 0h1m2.9 0h2M23 361h1m8 0h1m12 0h2m6 0h1m1 0h1m3 0h2m6 0h1m35.2 0h1m9.9 0h1M30 364h1m60.4 0h1m3 0h1m.9 0h2m4.9 0h1m5.9 0h1M21 367h1m1 0h1m6 0h1m29 0h1m17 0h1m16.4 0h1m1.9 0h1m4.9 0h1m1 0h1m2.9 0h2M20 370h1m7 0h1m17 0h1m8 0h1m1 0h1m1 0h2m6 0h1m27.4 0h1.9m9.9 0h1m1.9 0h1M25 373h1m1 0h1m3 0h1m2 0h1m6 0h1m15 0h1m3 0h1m12 0h1m13.5 0h1.9m3 0h1m14.8 0h.9M20 376h1m3 0h1m3 0h1m2 0h1m2 0h1m6 0h1m23 0h1m20.5 0h1M28 379.1h1m2 0h1m1 0h1m10 0h1m3 0h1m8 0h1m4 0h1m2 0h1m27.4 0h1M25 382.1h1m2 0h1m2 0h1m2 0h1m6 0h1m2 0h1m11 0h1m8 0h1m22.5 0h1m3.9 0h1m14.8 0h.9m3 0h1M25 385.1h1m17 0h1m6 0h1m6 0h1m5 0h2m35.3 0h1m13.8 0h.9M25 388.1h1m12 0h1m22 0h2m23.5 0h1m1 0h1m10.8 0h1m13.8 0h.9M24 391.1h2m7 0h1m9 0h1m3 0h1m9 0h1m3 0h1m17 0h1M20 394.1h1m1 0h1m1 0h1m11 0h2m5 0h1m14 0h1m7 0h1m3 0h1m3 0h2m3 0h1m8.5 0h1m25.6 0h.9M20 397.1h1m3 0h1m8 0h1m3 0h1m5 0h1m3 0h1m2 0h1m6 0h1m5 0h2m5 0h1m11.6 0h1m16.7 0h1m10.8 0h1M24 400.1h2m17 0h1m19 0h1m2 0h1m26.4 0h1m20.7 0h.9M25 403.1h1m2 0h1m4 0h1m16 0h1m10 0h1m12 0h1m11.5 0h1m1 0h1M36 406.1h1m1 0h1m4 0h1m6 0h1m12 0h2m9 0h2m12.5 0h1M25 409.1h1m10 0h1m6 0h1m6 0h1m10 0h1m3 0h1m34.3 0h1m10.8 0h1M24 412.1h1m3 0h1m4 0h1m25 0h1m19 0h1m20.3 0h1m10.8 0h1M25 415.1h1m5 0h1m11 0h1m13 0h1m3 0h1m1 0h1m6 0h1m3 0h1m11.5 0h1M24 418.1h1m12 0h1m9 0h1m2 0h1m6 0h1m3 0h1m13 0h1m10.5 0h1m27.6 0h.9M20 421.1h1m13 0h2m7 0h1m3 0h1m9 0h1m4 0h1m2 0h1m13 0h1m13.4 0h1M27 424.1h2m2 0h1m4 0h1m24 0h1m1 0h1m1 0h1m20.5 0h1m5.9 0h1m5.9 0h1M20 427.1h1m3 0h1m18 0h1m3 0h1m8 0h1m4 0h1m1 0h1m51.1 0h.9M25 430.1h1m5 0h1m5 0h1m10 0h1m10 0h1m2 0h2m2 0h1m3 0h1m8 0h1m6.5 0h1m1 0h1m3.9 0h1m5.9 0h1m13.8 0h.9M20 433.1h1m4 0h1m22 0h1m7 0h2m5 0h1m1 0h1m8 0h1m11.5 0h1M20 436.1h1m7 0h1m4 0h1m1 0h1m8 0h1m2 0h1m13 0h1m24.5 0h1M22 439.1h1m1 0h1m3 0h1m4 0h1m4 0h1m4 0h1m3 0h1m40.5 0h1m3.9 0h1m5.9 0h1m10.8 0h1M24 442.1h1m8 0h1m4 0h1m11 0h1m12 0h1m11 0h1m17.4 0h1m17.7 0h1m2 0h.9M20 445.2h1m6 0h1m3 0h1m5 0h1m12 0h1m5 0h2m5 0h1m11 0h1m10.5 0h1m5.9 0h1m5.9 0h1m10.8 0h1M31 448.2h1m1 0h1m9 0h1m17 0h2m2 0h1m8 0h1m4 0h1m8.5 0h1M24 451.2h2m21 0h1m16 0h1m9 0h1m40.1 0h.9M20 454.2h1m15 0h2m5 0h1m20 0h1m10 0h1m10.5 0h1m1 0h1M56 457.2h1m4 0h1m12 0h1m11.5 0h1m1 0h1m25.6 0h.9M22 460.2h1m10 0h1m3 0h2m4 0h1m3 0h1m13 0h1m7 0h1m4 0h1m40.1 0h.9M24 463.2h1m2 0h2m10 0h2m19 0h1m28.5 0h.9m21.7 0h1M25 466.2h1m1 0h1m3 0h1m24 0h1m1 0h1m16 0h1m12.5 0h1M24 469.2h2m2 0h1m3 0h1m8 0h1m13 0h1m2 0h1m30.5 0h.9M28 472.2h1m5 0h1m4 0h1m8 0h1m4 0h1m1 0h2m10 0h1m18.5 0h1M25 475.2h1m2 0h1m3 0h1m7 0h1m1 0h1m4 0h2m10 0h1m26.5 0h1m1 0h1"/>
<path stroke="#0d1345" stroke-width="3.00" d="M38 346h1m10 0h1m14 0h1m5 0h1M71 349h1m11.6 0h.9m18.7 0h1m9.9 0h1M22 352h1m24 0h1m16 0h2m4 0h1m4 0h1m4.6 0h1m2 0h.9M25 355h1m7 0h1m1 0h1m12 0h1m1 0h1m6 0h1m5 0h1m2 0h1m2 0h1m20.4 0h1M35 358h1m14 0h1m32.6 0h.9M37 361h1m5 0h1m3 0h1m4 0h1m10 0h2m4 0h2m4 0h1m3 0h1M33 364h1m2 0h2m9 0h1m18 0h1m1 0h3m8 0h1M22 367h1m10 0h1m10 0h1m2 0h1m2 0h1m6 0h1m8 0h1m3 0h1m3 0h1m4 0h1m1.6 0h1m1 0h.9m16.8 0h1M33 370h1m2 0h1m6 0h1m8 0h1m10 0h2m4 0h1M51 373h2m11 0h1m12 0h1m21.3 0h1m3.9 0h1m2 0h1m2.9 0h1m2 0h1m1.9 0h1M51 376h1m2 0h1m37.4 0h1m1 0h2m9.8 0h2m5.9 0h1m1.9 0h1M51 379.1h2m1 0h1m16 0h1m11.6 0h.9m7.9 0h1m3 0h.9m2 0h1m6.9 0h1m2.9 0h1M33 382.1h1m15 0h1m2 0h1m1 0h1m16 0h1m5 0h1m2.6 0h1m14.8 0h.9m16.8 0h1m1.9 0h1M51 385.1h1m2 0h1m30.5 0h1m5.9 0h1m14.8 0h1m.9 0h1M71 388.1h1m8.6 0h2m1.9 0h2m4.9 0h1m14.8 0h1m4.9 0h1M51 391.1h1m2 0h1m16 0h1m9.6 0h1m2.9 0h1m4.9 0h1m12.8 0h1m1 0h1m7.8 0h1M51 394.1h1m21 0h1m3 0h1m3.6 0h1m9.8 0h1m1 0h1m1 0h.9m5.9 0h2M54 397.1h1m18 0h1m18.4 0h1m1 0h1m1.9 0h1m11.8 0h1M51 400.1h1m16 0h1m12.6 0h2m32.4 0h1M54 403.1h1m13 0h1m2 0h1m18.4 0h1m3 0h1m2.9 0h1m3.9 0h1m4 0h1M81.6 406.1h1m1.9 0h1m21.7 0h1m1 0h.9M54 409.1h1m16 0h1m1 0h1m6.6 0h1m8.8 0h2m10.8 0h1m1 0h1m2 0h1M51 412.1h1m38.4 0h2m13.8 0h3M51 415.1h1m25 0h1m2.6 0h1m2.9 0h2m4.9 0h1m2 0h2m8.8 0h1m2 0h1M51 418.1h1m2 0h1m22 0h1m2.6 0h2m22.6 0h1m2 0h1M68 421.1h1m34.2 0h1m11.8 0h1M54 424.1h1m13 0h1m2 0h1m12.5 0h1m6.9 0h1m1 0h1m17.7 0h1M51 427.1h1m2 0h1m13 0h1m8 0h1m3.6 0h1m12.8 0h1.9m15.8 0h1M68 430.1h1m11.6 0h1m8.8 0h2m12.8 0h1m2 0h1M54 433.1h1m13 0h1m12.6 0h1m22.6 0h2m1 0h1M51 436.1h1m25 0h1m12.4 0h2m2 0h1m11.8 0h1m4.9 0h1M73 439.1h1m7.6 0h1m1.9 0h1m5.9 0h1m5.9 0h1m3.9 0h1m1 0h1m1 0h1M94.4 442.1h1m1.9 0h1m6.9 0h2M51 445.2h1m21 0h1m10.5 0h1m6.9 0h1m3 0h.9m15.8 0h1M51 448.2h1m21 0h1m7.6 0h1m1.9 0h1m8.9 0h1m9.8 0h1m1 0h1M51 451.2h1m19 0h1m1 0h1m6.6 0h1m2 0h.9m23.7 0h1m.9 0h1m2 0h1M54 454.2h1m16 0h1m1 0h1m16.4 0h1m16.8 0h1m1.9 0h1M54 457.2h1m13 0h1m2 0h1m5 0h1m7.5 0h1m4.9 0h1m5.9 0h1m6.9 0h1m2 0h.9M77 460.2h1m5.6 0h1.9m6.9 0h1m3.9 0h1m4.9 0h1m3 0h2m3.9 0h1M62 463.2h1m1 0h1m3 0h2m7 0h1m3.6 0h1m7.8 0h1m5 0h1.9M52 466.2h1m15 0h1m12.6 0h1m1.9 0h1m4.9 0h1m1 0h1m5.9 0h1m2.9 0h1M38 469.2h1m13 0h1m28.6 0h1m13.8 0h.9m5.9 0h2m4.9 0h2m2 0h1M36 472.2h1m12 0h1m19 0h1m7 0h1m6.5 0h1m4.9 0h1m7.9 0h1m9.8 0h1m5.9 0h1M80.6 475.2h1m9.8 0h1m3 0h1m7.8 0h1m1 0h1"/>
<path stroke="#10185a" stroke-width="3.00" d="M51 346h1m16 0h1m18.5 0h1m10.8 0h1M51 349h2m15 0h1m30.3 0h1M38 352h1m4 0h1m19 0h1m10 0h1m4 0h1M22 355h1m41 0h1m14 0h1M22 358h1m20 0h1m8 0h1m11 0h1m4 0h1M33 361h1m2 0h1m1 0h1m34 0h1M38 364h1m4 0h1m20 0h1m25.4 0h1M38 367h1m13 0h1m9 0h1m1 0h1M37 370h1m9 0h1m6 0h1m13 0h1m1 0h1M38 373h1m15 0h1m16 0h1m9.6 0h1m1 0h.9m5.9 0h1m1 0h1m16.7 0h1M38 376h1m32 0h1m1 0h1m7.6 0h1m1 0h.9m14.8 0h1m10.8 0h1M68 379.1h1m4 0h1m6.6 0h1m22.6 0h1m4.9 0h1m5.9 0h2M51 382.1h1M80.6 385.1h2m1.9 0h1m4.9 0h2m10.8 0h3m1 0h1M73 388.1h1m3 0h1m12.4 0h1m1 0h1m3 0h1.9m4.9 0h2m10.8 0h2M73 391.1h1m10.5 0h1m4.9 0h1m1 0h1m10.8 0h1m1 0h1m3.9 0h1m1 0h1M80.6 394.1h1m8.8 0h1m4 0h1m1.9 0h1m7.9 0h2m.9 0h2m1 0h1m2.9 0h1M51 397.1h1m29.6 0h1m1 0h.9m5.9 0h1m12.8 0h1m1 0h1M90.4 400.1h1m1 0h1m2 0h1.9m6.9 0h1m1 0h2m1.9 0h1M51 403.1h1m28.6 0h2m9.8 0h1m2 0h1m.9 0h1m6.9 0h1m1 0h1M71 406.1h1m1 0h1m3 0h1m2.6 0h1m8.8 0h1m4 0h1m7.8 0h1m7.9 0h1M81.6 409.1h1m1 0h1.9m10.9 0h.9m8.9 0h1m2.9 0h1m2 0h1M54 412.1h1m18 0h1m6.6 0h1m2.9 0h1m9.9 0h1m8.8 0h1m3.9 0h1m2 0h1M73 415.1h1m22.4 0h.9m1 0h1m10.8 0h1M73 418.1h1m29.2 0h2M54 421.1h1m18 0h1m6.6 0h2m1 0h.9m5.9 0h1m1 0h1m2 0h1.9m7.9 0h1m1 0h1m2.9 0h1M73 424.1h1m7.6 0h1m20.6 0h3M73 427.1h1m16.4 0h1m1 0h1m3.9 0h1m4.9 0h3M51 430.1h1m19 0h1m1 0h1m10.5 0h1m6.9 0h1m3 0h.9m1 0h1m3.9 0h2m1 0h1M80.6 433.1h1m2.9 0h1m4.9 0h1m1 0h1m3.9 0h1m8.9 0h1m4.9 0h1M73 436.1h1m7.6 0h1m1.9 0h2m5.9 0h1m4.9 0h1m5.9 0h1m2 0h1m6.8 0h1M71 439.1h1m8.6 0h1m8.8 0h1m4 0h1m9.8 0h1m3.9 0h1m1 0h1m2.9 0h1M73 442.1h1m7.6 0h1m1 0h.9m5.9 0h1m6.9 0h1m3.9 0h1m3 0h2m.9 0h2M81.6 445.2h1m1 0h.9m5.9 0h1m4 0h1m.9 0h1m7.9 0h1M80.6 448.2h1m8.8 0h1m1 0h1m3 0h2.9m9.9 0h.9m3 0h1M54 451.2h1m26.6 0h1m12.8 0h1m.9 0h1m6.9 0h1m9.8 0h1M80.6 454.2h2m12.8 0h1.9m5.9 0h1m8.9 0h1M90.4 457.2h1m5 0h.9m5.9 0h1m1 0h1m2 0h1M104.2 460.2h1m11.8 0h2M49 463.2h1m4 0h1m16 0h1m11.6 0h.9m14.8 0h1m13.8 0h1m1.9 0h1M49 466.2h1m4 0h1m22 0h1m40 0h1M49 469.2h1m1 0h1m16 0h1m15.5 0h1m13.8 0h1m17.7 0h1M71 472.2h1m11.6 0h.9m29.6 0h1M52 475.2h1m15 0h1m23.4 0h1m5.9 0h1m6.9 0h1m1.9 0h1"/>
<path stroke="#0a0e31" stroke-width="3.00" d="M52 346h1m16 0h1m22.4 0h1m9.8 0h1m6.9 0h1m2 0h1m1.9 0h2M36 349h3m4 0h1m3 0h1m14 0h1m12 0h1m5.6 0h1m9.8 0h1m12.8 0h1m10.8 0h1M24 352h2m2 0h1m4 0h1m32 0h1m14.6 0h1M24 355h1m9 0h1m4 0h1m7 0h1m14 0h1m12 0h1m5.6 0h1m1 0h.9m16.8 0h1M24 358h1m3 0h1m5 0h1m1 0h1m3 0h1m3 0h1m2 0h2m8 0h1m3 0h1m1 0h1m6 0h1m4 0h1m3 0h1m1.6 0h1m9.8 0h1m7.9 0h1m15.7 0h1M22 361h1m34 0h1m3 0h2m3 0h1m7 0h1m8.6 0h.9M25 364h1m2 0h1m2 0h1m2 0h2m4 0h2m15 0h1m4 0h2m17.6 0h1m1 0h.9m7.9 0h1m7.9 0h1M24 367h1m10 0h1m3 0h1m8 0h1m31.6 0h1m10.8 0h1M22 370h1m11 0h1m26 0h1m4 0h1m12 0h1m3.6 0h.9m9.9 0h1M43 373h1m5 0h1m16 0h1m1 0h2m14.5 0h1m9.9 0h1m.9 0h1m4.9 0h1M43 376h1m5 0h1m2 0h1m15 0h1m8 0h1m19.3 0h2m10.8 0h1m6.9 0h1M38 379.1h1m38 0h1m3.6 0h1m7.8 0h1m4 0h1m.9 0h2m14.8 0h1M36 382.1h3m4 0h1m24 0h2m11.6 0h1m1.9 0h1m6.9 0h1m4.9 0h2m3.9 0h1m2 0h1m1.9 0h1M52 385.1h1m15 0h1m2 0h1m1 0h1m20.4 0h1m13.8 0h.9m3 0h1M51 388.1h1m2 0h1m39.4 0h1m2.9 0h1M68 391.1h1m8 0h1m4.6 0h1m10.8 0h1m13.8 0h.9M54 394.1h1m16 0h1m12.5 0h1m5.9 0h1M71 397.1h1m5 0h1m2.6 0h1m2.9 0h1m5.9 0h1m5.9 0h1m3.9 0h1m1 0h1m2 0h1M54 400.1h1m16 0h1m12.5 0h2m7.9 0h1m9.8 0h1m2 0h1.9m3 0h1M22 403.1h1m54 0h1m4.6 0h1m1.9 0h1m29.5 0h1M51 406.1h2m1 0h1m36.4 0h2m11.8 0h1m2 0h1M51 409.1h1m16 0h1m8 0h1m7.5 0h1m7.9 0h1m20.6 0h1M71 412.1h1m5 0h1m7.5 0h1m3 0h.9m18.8 0h.9M54 415.1h1m16 0h1m41.1 0h1m1.9 0h1M71 418.1h1m10.6 0h1m.9 0h1m5.9 0h1m2 0h1m13.8 0h.9m3 0h1M51 421.1h1m25 0h1m7.5 0h1m26.6 0h1M49 424.1h1m27 0h1m31.2 0h.9m5.9 0h1M71 427.1h1m12.5 0h2m7.9 0h1m12.8 0h1m6.8 0h1M54 430.1h1m30.5 0h1m7.9 0h1m17.7 0h1M51 433.1h1m19 0h1m5 0h1m4.6 0h1m25.6 0h.9M52 436.1h1m1 0h1m13 0h1m2 0h1m8.6 0h1m1 0h1m25.6 0h.9M52 439.1h1m15 0h1m13.6 0h1m8.8 0h1m1 0h1m12.8 0h1M51 442.1h1m19 0h1m5 0h1m2.6 0h1m10.8 0h1m15.8 0h.9m3 0h1m1.9 0h1M54 445.2h1m13 0h1m2 0h1m8.6 0h1m1 0h1m1.9 0h1m4.9 0h1m2 0h1m7.8 0h1M54 448.2h1m13 0h2m1 0h1m5 0h1m13.4 0h1m15.8 0h1m6.8 0h1M68 451.2h1m13.6 0h1m.9 0h1M51 454.2h1m30.6 0h1m1.9 0h1m4.9 0h2m1 0h1m9.8 0h1m3 0h.9M51 457.2h2m27.6 0h1m1 0h1m.9 0h1m4 0h.9m4 0h1m17.7 0h1m1.9 0h1M54 460.2h1m13 0h1m2 0h1m1 0h1m6.6 0h2m2.9 0h1m3.9 0h2m12.8 0h1m3 0h.9M36 463.2h3m4 0h1m6 0h1m15 0h1m3 0h1m3 0h2m3 0h1m4.5 0h1m6.9 0h1m9.8 0h2m1 0h1m2.9 0h2M37 466.2h1m5 0h1m25 0h1m9 0h1m16.4 0h1.9m11.8 0h2m2 0h1M36 469.2h1m32 0h2m4 0h1m3 0h1m.6 0h1m8.8 0h1m4 0h1m.9 0h1m7.9 0h1M52 472.2h1m10 0h2m5 0h1m4 0h1m4.6 0h2m2.9 0h1m9.9 0h1.9m4.9 0h2m1 0h3m1.9 0h1M22 475.2h1m14 0h2m10 0h2m13 0h1m5 0h1m8 0h1m10.4 0h1m11.8 0h1m6.9 0h1m4.9 0h1"/>
<path stroke="#141e72" stroke-width="3.00" d="M54 346h1m16 0h1m1 0h1m3 0h1m23.3 0h1M49 349h1m27 0h1m23.3 0h1M36 352h1m15 0h1m16 0h1m1 0h1m15.5 0h1M36 355h2m5 0h1m8 0h1m1 0h1m15 0h1M33 358h1m3 0h2M22 364h1m28 0h2m34.5 0h1m13.8 0h.9M36 367h1m26 0h1m4 0h2M38 370h1m10 0h1m37.5 0h1m13.8 0h.9M73 373h1M101.3 379.1h1M73 382.1h1m9.6 0h.9m16.8 0h1M83.6 385.1h.9m10.9 0h1m1.9 0h2m5.9 0h1m3.9 0h1m4.9 0h1M99.3 388.1h1m4.9 0h2m1 0h1m.9 0h2M80.6 391.1h1m13.8 0h1m.9 0h2m3.9 0h1m4 0h1M99.3 394.1h1M95.4 397.1h1.9m9.9 0h1m8.8 0h1M73 400.1h1m23.3 0h1m4.9 0h1M73 403.1h1m22.4 0h.9m6.9 0h1m4.9 0h2m2 0h1M97.3 406.1h2m3.9 0h1m2 0h1m2.9 0h2m2 0h1m2.9 0h1M92.4 409.1h1m3.9 0h2m4.9 0h1m2 0h1m2.9 0h1m4.9 0h1M81.6 412.1h1m9.8 0h1m3 0h3.9m3.9 0h1M81.6 415.1h1m1 0h.9m5.9 0h1m1 0h1m3.9 0h1m4.9 0h2M90.4 418.1h1m4 0h1m.9 0h1m7.9 0h1M71 421.1h1m26.3 0h1m6.9 0h1m1 0h1m.9 0h1m5.9 0h1M80.6 424.1h1m13.8 0h1.9m1 0h1m8.9 0h1m1.9 0h1M83.6 427.1h.9m13.8 0h1m6.9 0h2m1.9 0h2m4.9 0h1M77 430.1h1m3.6 0h1m1 0h.9m12.8 0h1m8.9 0h1m2.9 0h1M73 433.1h1m21.4 0h1.9m1 0h1m3.9 0h2m11.8 0h1M83.6 436.1h.9m10.9 0h1m.9 0h1m5.9 0h1m1 0h1M83.6 439.1h.9m11.9 0h.9m12.8 0h1M95.4 442.1h1.9M98.3 445.2h2m4.9 0h1m1 0h2m.9 0h2M95.4 448.2h1m6.8 0h1m2 0h1m2.9 0h2M90.4 451.2h1m1 0h1m4.9 0h1m3.9 0h2m1 0h1m3.9 0h1M97.3 454.2h2m4.9 0h1m2 0h1m8.8 0h1M73 457.2h1m7.6 0h1m9.8 0h1m2 0h1m10.8 0h1m1.9 0h2m4.9 0h1M96.4 460.2h.9m1 0h1m6.9 0h1m2.9 0h1m3 0h1M51 463.2h2m65 0h1M71 466.2h1m1 0h1m9.6 0h.9M54 469.2h1m16 0h1m1 0h1m9.6 0h.9m7.9 0h1m13.8 0h1M92.4 472.2h1m7.9 0h1m15.7 0h1M73 475.2h1m7.6 0h1m1 0h.9m29.6 0h1m2.9 0h1"/>
<path stroke="#5e5d2b" stroke-width="3.00" d="M76 346h1m38.1 0h.9M115.1 349h.9M86.5 352h1m25.6 0h1M109.2 358h.9M26 361h1m66.4 0h1m14.8 0h.9m5.9 0h1M109.2 364h.9M109.2 367h.9m2 0h1M116 370h1M21 373h1m50 0h1M21 376h1m10 0h1m13 0h1m25 0h1m5 0h1M76 382.1h1M29 385.1h1m2 0h1m6 0h1m20 0h1M21 388.1h1m1 0h1m15 0h1m1 0h1m13 0h1m11 0h1m10 0h1M23 391.1h1m6 0h1m15 0h1m6 0h1m18 0h1M30 394.1h1m1 0h1m7 0h1m4 0h1m26 0h1m5 0h1M23 397.1h1m11 0h1m6 0h1m10 0h1m4 0h1m19 0h1M21 400.1h1m18 0h1m5 0h1m6 0h1m24 0h1M40 403.1h2m4 0h1m9 0h1m10 0h1M21 406.1h1m8 0h1m13 0h1m27 0h1M21 409.1h1m7 0h2m24 0h1m11 0h1M21 412.1h1m8 0h1m24 0h1m16 0h1m3 0h1M30 415.1h1m13 0h1m3 0h1m23 0h1M29 418.1h2m15 0h1m6 0h1m1 0h1m3 0h1m16 0h1M32 421.1h1m9 0h1m24 0h1M21 424.1h1m50 0h1M21 427.1h1m10 0h1m6 0h1m6 0h1M26 430.1h1m17 0h2m21 0h1m10 0h1M21 433.1h1m10 0h1m9 0h1m3 0h1m29 0h1M21 436.1h1m8 0h1m1 0h1m13 0h1m25 0h1M21 439.1h1m1 0h1m5 0h2m9 0h3m2 0h1m9 0h1M53 442.1h1m24 0h1M21 448.2h1m1 0h1m8 0h1m27 0h1m15 0h1M29 451.2h1m30 0h1m15 0h1M30 454.2h1m11 0h1m10 0h1m6 0h1m15 0h1m1 0h1M26 457.2h1m3 0h1m14 0h2m29 0h1M21 460.2h1m7 0h1m48 0h1M21 463.2h1M30 466.2h1M23 469.2h1m6 0h1M21 472.2h1m1 0h1"/>
<path stroke="#1f31c1" stroke-width="3.00" d="M102.3 346h.9M102.3 355h.9M54 364h1m18 0h1M51 367h1m25 0h1M87.5 373h1M87.5 376h1M101.3 388.1h1M101.3 397.1h1M101.3 400.1h1M87.5 406.1h1M101.3 409.1h1m15.7 0h1M87.5 412.1h1m29.5 0h1M87.5 415.1h1m17.7 0h1M87.5 418.1h1m12.8 0h1M118 421.1h1M87.5 424.1h1m29.5 0h1M118 430.1h1M99.3 433.1h1m1 0h1M114.1 436.1h1m1.9 0h1M99.3 439.1h1m17.7 0h1M99.3 442.1h1m1 0h1M101.3 448.2h1m11.8 0h1M118 451.2h1M87.5 454.2h1M101.3 457.2h1m11.8 0h1M101.3 460.2h1M73 463.2h1M87.5 469.2h1M87.5 472.2h1"/>
<path stroke="#17248b" stroke-width="3.00" d="M54 349h1M37 352h1m16 0h1m22 0h1m24.3 0h.9M38 355h1m29 0h1m4 0h1m3 0h1M49 358h1m1 0h1m2 0h1m13 0h1m2 0h1m1 0h1m3 0h1m9.5 0h1m13.8 0h.9M54 361h1m13 0h1m2 0h1m5 0h1m9.5 0h1M49 364h1m21 0h1m5 0h1M37 367h1m5 0h1m5 0h1m21 0h1m1 0h1m13.5 0h1M51 370h1M118 373h1M101.3 376h1M87.5 379.1h1M118 382.1h1M96.4 385.1h1.9m15.8 0h1M83.6 388.1h.9m10.9 0h1M83.6 391.1h.9m11.9 0h.9m12.8 0h1m3 0h1m1.9 0h1M83.6 394.1h.9M99.3 397.1h1m10.8 0h1M111.1 400.1h1m2 0h1M83.6 403.1h.9m21.7 0h1m9.8 0h1M83.6 406.1h.9m11.9 0h.9m19.7 0h1M95.4 409.1h1m2.9 0h1M83.6 412.1h.9m18.7 0h1m6.9 0h1m2 0h1m1.9 0h1M99.3 415.1h1m10.8 0h1m4.9 0h1M83.6 418.1h.9m7.9 0h1m3 0h.9m1 0h2m6.9 0h1m2.9 0h1m2 0h1m1.9 0h1M97.3 421.1h1m1 0h1m3.9 0h1M83.6 424.1h.9m5.9 0h1m5.9 0h1m7.9 0h2m5.9 0h1m1.9 0h1M118 427.1h1M95.4 430.1h1m2.9 0h1m9.8 0h1M83.6 433.1h.9m25.6 0h2M96.4 436.1h.9m2 0h1m2.9 0h1m5.9 0h2M97.3 439.1h1m5.9 0h1m8.9 0h1M104.2 442.1h1m8.9 0h1m1.9 0h2M104.2 445.2h1m11.8 0h1M83.6 448.2h.9m19.7 0h1m11.8 0h1M96.4 451.2h.9m9.9 0h1m8.8 0h1M83.6 454.2h.9m14.8 0h1m5.9 0h1m2.9 0h1m3 0h1M83.6 457.2h.9m12.8 0h1m1 0h1m3.9 0h1m12.8 0h1M95.4 460.2h1m2.9 0h1M101.3 463.2h1M77 469.2h1M51 472.2h1m21 0h1M51 475.2h1m2 0h1m16 0h1m5 0h1m23.3 0h1"/>
<path stroke="#1b2aa5" stroke-width="3.00" d="M73 349h1m13.5 0h1M49 352h1m1 0h1m16 0h1m4 0h1M49 355h1m1 0h1m19 0h1m15.5 0h1M49 361h1m1 0h1m50.3 0h.9M54 367h1m47.3 0h.9M71 370h1m1 0h1m3 0h1M87.5 382.1h1M118 385.1h1M114.1 388.1h1m2.9 0h1M99.3 391.1h1m17.7 0h1M97.3 394.1h1m3 0h1m3.9 0h1m6.9 0h1m2.9 0h1M114.1 397.1h1m2.9 0h1M83.6 400.1h.9m3 0h1m9.8 0h2m16.7 0h1M99.3 403.1h1m17.7 0h1M99.3 406.1h1M114.1 409.1h1M107.2 415.1h1m5.9 0h1m2.9 0h1M110.1 418.1h1m6.9 0h1M114.1 421.1h1M99.3 424.1h1m9.8 0h1M99.3 427.1h1m13.8 0h1M114.1 430.1h1m1.9 0h1M114.1 433.1h1m2.9 0h1M118 436.1h1M114.1 445.2h1m2.9 0h1M99.3 448.2h1m17.7 0h1M99.3 451.2h1m13.8 0h1M118 454.2h1M87.5 457.2h1M87.5 460.2h1m22.6 0h1M87.5 463.2h1M51 466.2h1m35.5 0h1m12.8 0h1M101.3 469.2h1M54 472.2h1m13 0h1M87.5 475.2h1"/>
<path stroke="#2338de" stroke-width="3.00" d="M102.3 349h.9M101.3 373h1M87.5 385.1h1m12.8 0h1M87.5 388.1h1M101.3 391.1h1M87.5 394.1h1M87.5 397.1h1M118 400.1h1M87.5 403.1h1M87.5 409.1h1M87.5 421.1h1m12.8 0h1M87.5 427.1h1m12.8 0h1M101.3 430.1h1M87.5 433.1h1M87.5 436.1h1M87.5 439.1h1M87.5 448.2h1M101.3 451.2h1M101.3 454.2h1M102.3 472.2h.9"/>
<path stroke="#9b9846" stroke-width="3.00" d="M112.1 352h1m2 0h.9M115.1 355h.9M112.1 358h1m2 0h.9M112.1 361h1M115.1 364h.9M115.1 370h.9M26 388.1h1M26 406.1h1m19 0h1M26 415.1h1M26 421.1h1M72 433.1h1M46 451.2h1M26 469.2h1"/>
<path stroke="#86843d" stroke-width="3.00" d="M100.3 358h1M112.1 364h1M115.1 367h.9M100.3 370h1m7.9 0h.9M26 379.1h1m45 0h1M26 382.1h1M26 385.1h1m19 0h1m25 0h1m3 0h1M32 388.1h1M26 391.1h1M76 394.1h1M72 397.1h1M32 400.1h1m39 0h1m3 0h1M26 403.1h1m5 0h1m43 0h1M32 406.1h1m45 0h1M46 409.1h1M26 418.1h1m5 0h1M72 421.1h1M72 427.1h1m3 0h1M30 430.1h1m41 0h1M26 433.1h1M26 436.1h1M26 439.1h1m5 0h1m39 0h1M32 442.1h1m39 0h1m3 0h1M26 445.2h1m49 0h1M72 448.2h1M26 451.2h1m3 0h1m41 0h1M46 454.2h1M26 460.2h1m45 0h1M26 466.2h1m45 0h1M26 472.2h1"/>
<path stroke="#b0ad4f" stroke-width="3.00" d="M115.1 361h.9M100.3 364h1M100.3 367h1M26 397.1h1M26 400.1h1M26 427.1h1"/>
<path stroke="#263cee" stroke-width="3.00" d="M102.3 373h.9M102.3 376h.9M102.3 379.1h.9M102.3 382.1h.9M102.3 385.1h.9M102.3 388.1h.9M87.5 391.1h1m13.8 0h.9M102.3 394.1h.9M102.3 397.1h.9M102.3 400.1h.9M101.3 403.1h1m0 0h.9M101.3 406.1h1m0 0h.9M102.3 409.1h.9M101.3 412.1h1m0 0h.9M101.3 415.1h1m0 0h.9M102.3 418.1h.9M102.3 421.1h.9M101.3 424.1h1m0 0h.9M102.3 427.1h.9M87.5 430.1h1m13.8 0h.9M102.3 433.1h.9M101.3 436.1h1m0 0h.9M101.3 439.1h1m0 0h.9M87.5 442.1h1m13.8 0h.9M87.5 445.2h1m12.8 0h1m0 0h.9M102.3 448.2h.9M87.5 451.2h1m13.8 0h.9M102.3 454.2h.9M102.3 457.2h.9M102.3 460.2h.9M102.3 463.2h.9M102.3 466.2h.9M102.3 469.2h.9M102.3 475.2h.9"/>
<rect x="80.00" y="344.50" width="0.60" height="132.20" fill="#c8c8c8"/>
<rect x="152.50" y="344.50" width="99.50" height="132.20" fill="#000"/>
<path stroke="#141409" stroke-width="16.52" d="M152.5 352.8h1m16 0h3m1 0h4m9 0h1m1 0h2m1 0h2m8 0h2m11.2 0h1m1.9 0h1m7.8 0h1m1 0h1m18.6 0h1M155.5 369.3h1m4 0h1m2 0h1m4 0h1m9 0h1m1 0h1m19 0h1m10 0h1m11 0h1m8.8 0h1M199.5 385.8h2m6 0h1m5.2 0h1m4.9 0h1m8.8 0h1m12.7 0h2m5.8 0h1M155.5 402.3h1m1 0h1m1 0h1m30 0h1m5 0h1m1 0h1m11 0h1m12 0h1m1 0h.9m3 0h1m2.9 0h1m9.8 0h1m1.9 0h3M154.5 418.9h1m1 0h1m29 0h1m2 0h1m3 0h1m5 0h1m1 0h1m1 0h1m7 0h1m30.6 0h2m2.9 0h1M167.5 435.4h1m14 0h2m2 0h2m5 0h2m2 0h2m5 0h1m17 0h1M158.5 451.9h1m2 0h1m1 0h1m12 0h1m3 0h1m6 0h1m21 0h1M153.5 468.4h1m3 0h1m3 0h1m6 0h1m4 0h1m1 0h1m3 0h1m1 0h1m5 0h1m14 0h1m7 0h1m1 0h.7"/>
<path stroke="#050503" stroke-width="16.52" d="M153.5 352.8h1m1 0h2m1 0h1m2 0h3m3 0h2m3 0h1m4 0h2m1 0h1m6 0h1m5 0h1m1 0h1m1 0h2m1 0h1m3 0h3m1 0h1m1 0h1m1 0h.7m.5 0h1m8.8 0h1m1 0h.9m3 0h1m2.9 0h1m2.9 0h2m1.9 0h1m1 0h2m3.9 0h1M153.5 369.3h2m3 0h2m1 0h1m5 0h1m4 0h1m3 0h1m6 0h3m26 0h.7m12.3 0h.9m3 0h1M156.5 385.8h1m4 0h1m5 0h1m10 0h1m2 0h1m3 0h1m1 0h1m5 0h1m1 0h1m2 0h1m7 0h1m5 0h.7m1.5 0h1m1.9 0h1m4.9 0h1m8.8 0h1m1 0h.9m1 0h1m7.8 0h1m1 0h2M152.5 402.3h3m1 0h1m1 0h1m2 0h1m22 0h2m1 0h1m5 0h1m1 0h1m16 0h.7m22.1 0h.9m1 0h1m4.9 0h1M152.5 418.9h2m4 0h1m2 0h1m1 0h1m12 0h3m1 0h1m3 0h1m2 0h1m2 0h1m7 0h1m5 0h1m7 0h.7M153.5 435.4h1m2 0h1m1 0h1m2 0h1m1 0h1m12 0h1m1 0h1m1 0h1m3 0h2m9 0h1m16 0h.7m12.3 0h.9M153.5 451.9h1m1 0h2m27 0h3m6 0h1m1 0h1m2 0h3m3 0h1m7 0h.7M156.5 468.4h1m1 0h1m4 0h1m3 0h1m2 0h1m3 0h1m1 0h1m1 0h1m1 0h1m3 0h2m9 0h1m2 0h1m5 0h2m2 0h1"/>
<path stroke="#060712" stroke-width="16.52" d="M154.5 352.8h1m5 0h1m23 0h2m43.9 0h.9m4 0h1.9M156.5 369.3h1m16 0h1m13 0h2m4 0h1m1 0h1m2 0h1m26.9 0h1m7.9 0h.9m1 0h1M153.5 385.8h1m4 0h1m4 0h2m11 0h1m3 0h1m2 0h2m6 0h1m2 0h1m8 0h2m3 0h2m1 0h1m13 0h1.9M163.5 402.3h1m3 0h1m10 0h1m1 0h1m11 0h1m11 0h1m40.5 0h1M167.5 418.9h1m13 0h1m3 0h1m5 0h1m10 0h1m5 0h2m15 0h.9m3 0h1m2.9 0h1m1 0h.9m1 0h1M179.5 435.4h1m43 0h1m4.9 0h1m2.9 0h1m1 0h.9m1 0h1m4.9 0h2m2.9 0h2M172.5 451.9h2m49 0h1m1 0h.9m3 0h1m6.8 0h1m9.8 0h2M165.5 468.4h1m5 0h1m21 0h1m3 0h1m25 0h1m1 0h.9m3 0h1m2.9 0h1m1 0h.9m1 0h1m4.9 0h2m2.9 0h2"/>
<path stroke="#252511" stroke-width="16.52" d="M157.5 352.8h1m21 0h1m10 0h1m3 0h1m4 0h1m7 0h1m3 0h1m3.2 0h.9m3 0h1.9m1 0h1m3.9 0h1m13.7 0h1m2.9 0h1M157.5 369.3h1m52 0h1m13 0h1m2.9 0h1M202.5 385.8h1m12.2 0h.9m4 0h.9m25.5 0h1M160.5 402.3h1m33 0h1m23.1 0h1m1 0h.9m16.7 0h1M160.5 418.9h1m34 0h1m11 0h1m2 0h1m12 0h1M162.5 435.4h1m5 0h1m4 0h1M154.5 451.9h1m12 0h1m10 0h1m9 0h1m1 0h1M152.5 468.4h1m1 0h2m3 0h1m2 0h1m6 0h1m7 0h1m5 0h1m2 0h1m13 0h2"/>
<path stroke="#080a20" stroke-width="16.52" d="M159.5 352.8h1m4 0h1m1 0h1m14 0h1m27 0h1m21.8 0h1m6.9 0h.9m10.8 0h.1M186.5 369.3h1m17 0h1m35.6 0h1m1 0h2m2.9 0h2M152.5 385.8h1m2 0h1m9 0h1m2 0h1m2 0h1m1 0h1m27 0h1m3 0h1m27.8 0h1m.9 0h1m1 0h1M171.5 402.3h1m4 0h1m20 0h1m11 0h1M159.5 418.9h1m23 0h1m32.1 0h1m31.4 0h1M230.4 435.4h.9M233.3 451.9h1m1 0h.9m6.9 0h2M191.5 468.4h1m4 0h1"/>
<path stroke="#17248b" stroke-width="16.52" d="M165.5 352.8h1M239.2 369.3h1M159.5 385.8h1M165.5 402.3h2m3 0h1m35 0h1M218.6 418.9h1m7.8 0h1m3.9 0h1m5.9 0h1M160.5 435.4h1m69.8 0h1m3.9 0h1m1 0h1m5.9 0h.9M214.7 451.9h1m4.9 0h.9m9.8 0h1m2 0h1m11.7 0h1M190.5 468.4h1m1 0h1m1 0h1m20.2 0h1.9m3 0h.9m1 0h1m2.9 0h2m3.9 0h1m1 0h1m5.8 0h1m3.9 0h1"/>
<path stroke="#0a0e31" stroke-width="16.52" d="M182.5 352.8h2M152.5 369.3h1m37 0h1m3 0h1M154.5 385.8h1m2 0h1m4 0h1m7 0h1m3 0h1m21 0h2M172.5 402.3h1m1 0h1m60.7 0h1M157.5 435.4h1m6 0h1m12 0h1m37.2 0h.9m1 0h1m1 0h1m7.8 0h1M166.5 468.4h1m47.2 0h1m2.9 0h2m9.8 0h.9"/>
<path stroke="#383719" stroke-width="16.52" d="M196.5 352.8h1m6 0h1m12.1 0h1m3.9 0h1m28.4 0h1M199.5 369.3h1m19.1 0h1m.9 0h1m4.9 0h1M216.6 385.8h1m10.8 0h1m20.6 0h.9M188.5 402.3h1m13 0h1m8 0h1m7.1 0h1m.9 0h1m11.8 0h1m9.8 0h.9m4 0h1.9M200.5 418.9h1M188.5 435.4h1m7 0h1M162.5 451.9h1m18 0h1m19 0h1m8 0h1M160.5 468.4h1m11 0h1m33 0h1m2 0h1m1 0h1"/>
<path stroke="#4b4922" stroke-width="16.52" d="M218.6 352.8h1m4.9 0h1m13.7 0h1m4.9 0h.9m1 0h1M181.5 369.3h1m19 0h1m7 0h1M221.5 385.8h1m7.9 0h.9m8.9 0h.9M189.5 402.3h1m10 0h1m12.2 0h1m15.7 0h.9M162.5 418.9h1m2 0h1m31 0h1M152.5 435.4h1m2 0h1m9 0h1m6 0h1m2 0h1m5 0h1m18 0h1m1 0h1M152.5 451.9h1m4 0h1m31 0h1m6 0h1m5 0h1m3 0h1m4 0h1M207.5 468.4h1"/>
<path stroke="#10185a" stroke-width="16.52" d="M231.3 352.8h1M196.5 369.3h1m42.7 0h.9M169.5 385.8h1m2 0h1m4 0h1m1 0h1m2 0h1m3 0h1m1 0h1m1 0h1m31 0h1M182.5 402.3h1m3 0h1M172.5 418.9h1m9 0h1m32.2 0h.9m1 0h1m7.8 0h1m3 0h.9M159.5 435.4h1m61 0h1m3.9 0h1m12.8 0h2.9m6.9 0h.9M217.6 451.9h1M236.2 468.4h1"/>
<path stroke="#0d1345" stroke-width="16.52" d="M234.3 352.8h1M182.5 369.3h1m6 0h1M166.5 385.8h1m25 0h1m17 0h1m13 0h1M162.5 402.3h1m5 0h1m4 0h1m9 0h1m24 0h1M168.5 418.9h1m2 0h1m1 0h1m53.9 0h1m4.9 0h1M214.7 435.4h1m23.5 0h1M219.6 451.9h1M217.6 468.4h1m20.6 0h1"/>
<path stroke="#5e5d2b" stroke-width="16.52" d="M250 352.8h.9M191.5 369.3h1m28.1 0h.9M218.6 385.8h1m7.8 0h1m2.9 0h2m7.8 0h1M191.5 402.3h1m9 0h1m25.9 0h1m9.8 0h1.9m10.8 0h.1M155.5 418.9h1m23 0h1m26 0h1M154.5 435.4h1m14 0h1m19 0h3m7 0h1m9 0h3M168.5 451.9h1m13 0h2m10 0h1m2 0h1m5 0h1M182.5 468.4h1m16 0h1m3 0h1"/>
<path stroke="#9b9846" stroke-width="16.52" d="M162.5 369.3h1m14 0h1m14 0h1m20.2 0h2M239.2 385.8h1M199.5 402.3h1m26.9 0h1M219.6 418.9h1m21.5 0h1M192.5 451.9h1"/>
<path stroke="#f0ec6c" stroke-width="16.52" d="M164.5 369.3h1m1 0h1m48.2 0h.9M220.6 418.9h1.9m0 0h1M165.5 451.9h1m0 0h1m2 0h1m4 0h1m4 0h1"/>
<path stroke="#c5c258" stroke-width="16.52" d="M165.5 369.3h1m13 0h1m36.1 0h1M242.1 385.8h1m2 0h.9M247 418.9h1M175.5 451.9h1M189.5 468.4h1"/>
<path stroke="#727033" stroke-width="16.52" d="M169.5 369.3h1m1 0h1m30 0h1m19 0h1M251.9 385.8h.1M214.7 402.3h1m1.9 0h1m5.9 0h1m.9 0h1M164.5 418.9h1m80.5 0h1M170.5 435.4h2m2 0h1m17 0h1m14 0h2M160.5 451.9h1m3 0h1m6 0h1m19 0h1m13 0h1m2 0h1M164.5 468.4h1"/>
<path stroke="#86843d" stroke-width="16.52" d="M170.5 369.3h1m3 0h1m42.1 0h1M232.3 402.3h1m8.8 0h1M188.5 418.9h1m7 0h1m8 0h1m38.6 0h.9M201.5 435.4h1m1 0h1m1 0h2M159.5 451.9h1m17 0h1"/>
<path stroke="#b0ad4f" stroke-width="16.52" d="M175.5 369.3h1m42.1 0h1m10.8 0h2.9M216.6 402.3h1m4.9 0h1m7.8 0h1m8.8 0h1M192.5 418.9h1m1 0h1M166.5 435.4h1M207.5 451.9h1"/>
<path stroke="#141e72" stroke-width="16.52" d="M197.5 369.3h1M175.5 385.8h1m13 0h1M213.7 418.9h2m8.8 0h1M213.7 435.4h1m12.7 0h1m3.9 0h1m1 0h1m11.7 0h1m2.9 0h1.1M250 451.9h.9M224.5 468.4h1m2.9 0h1m1.9 0h1m5.9 0h1m1 0h.9m5.9 0h1m2.9 0h1"/>
<path stroke="#263cee" stroke-width="16.52" d="M203.5 369.3h1m1 0h1m0 0h1m0 0h1m29.7 0h1m5.9 0h.9m4 0h.9m1 0h.1M175.5 402.3h1m1 0h1m1 0h1m1 0h1m23 0h1M166.5 418.9h1m2 0h1m67.7 0h1m1.9 0h1m9.8 0h.1M218.6 435.4h1M213.7 451.9h1m1 0h.9m2 0h1m1.9 0h1m0 0h1m3.9 0h1m3.9 0h1m2.9 0h1m1 0h1m1.9 0h1m0 0h1m2 0h1.9m3.9 0h1m0 0h.1"/>
<path stroke="#1f31c1" stroke-width="16.52" d="M208.5 369.3h1m37.5 0h1M203.5 402.3h1m3 0h1M170.5 418.9h1m3 0h2m54.8 0h1m7.9 0h.9M226.4 451.9h1M221.5 468.4h1m19.6 0h1"/>
<path stroke="#1b2aa5" stroke-width="16.52" d="M234.3 369.3h1M160.5 385.8h1M169.5 402.3h1M220.6 435.4h.9m3 0h1m20.5 0h1M216.6 451.9h1m10.8 0h1m1 0h.9M213.7 468.4h1m30.4 0h.9m4 0h.9m1 0h.1"/>
<path stroke="#2338de" stroke-width="16.52" d="M236.2 369.3h1m4.9 0h1m2.9 0h1m3.9 0h1M164.5 402.3h1M236.2 418.9h1m12.8 0h1.9M216.6 435.4h1M224.5 451.9h1m13.7 0h1.9"/>
<path stroke="#dad662" stroke-width="16.52" d="M215.7 402.3h.9M157.5 418.9h1M170.5 451.9h1M188.5 468.4h1"/>
<rect x="213.20" y="344.50" width="0.50" height="132.20" fill="#b8b8a0"/>
<text x="283.00" y="18.36" font-size="12" font-weight="bold" fill="#000" stroke="#000" stroke-width="0.12">B</text>
<text x="312.50" y="30.56" font-size="6.85" text-anchor="middle" fill="#333" stroke="#333" stroke-width="0.12">mRNA</text>
<text x="312.50" y="38.36" font-size="6.85" text-anchor="middle" fill="#333" stroke="#333" stroke-width="0.12">expression</text>
<text x="312.50" y="46.26" font-size="6.85" text-anchor="middle" fill="#333" stroke="#333" stroke-width="0.12">(z score)</text>
<defs><linearGradient id="gB" x1="0" y1="0" x2="0" y2="1"><stop offset="0" stop-color="#f4f27c"/><stop offset="0.25" stop-color="#a9a648"/><stop offset="0.45" stop-color="#262410"/><stop offset="0.52" stop-color="#050508"/><stop offset="0.62" stop-color="#0c1040"/><stop offset="1" stop-color="#2638e6"/></linearGradient></defs>
<rect x="306.00" y="53.00" width="12.60" height="48.00" fill="url(#gB)"/>
<text x="323.00" y="57.46" font-size="6.85" fill="#333" stroke="#333" stroke-width="0.12">3</text>
<text x="323.00" y="79.96" font-size="6.85" fill="#333" stroke="#333" stroke-width="0.12">0</text>
<text x="321.60" y="102.86" font-size="6.85" fill="#333" stroke="#333" stroke-width="0.12">-3</text>
<rect x="341.60" y="201.30" width="103.30" height="9.90" fill="#a8eef6"/>
<text x="393.30" y="208.51" font-size="6.7" text-anchor="middle" fill="#1a2a30" stroke="#1a2a30" stroke-width="0.12">First (EMK)</text>
<rect x="446.20" y="201.30" width="65.90" height="9.90" fill="#dc94b8"/>
<text x="479.20" y="208.51" font-size="6.7" text-anchor="middle" fill="#301828" stroke="#301828" stroke-width="0.12">Second (IMP)</text>
<rect x="341.70" y="213.50" width="3.90" height="9.80" fill="#4a5ed8"/>
<rect x="345.60" y="213.50" width="1.80" height="9.80" fill="#8ac0b0"/>
<rect x="347.40" y="213.50" width="1.30" height="9.80" fill="#8aa0c8"/>
<rect x="348.70" y="213.50" width="6.40" height="9.80" fill="#5068d8"/>
<rect x="355.10" y="213.50" width="3.50" height="9.80" fill="#161a72"/>
<rect x="358.60" y="213.50" width="1.90" height="9.80" fill="#f2ee70"/>
<rect x="360.50" y="213.50" width="1.50" height="9.80" fill="#e6f0a0"/>
<rect x="362.00" y="213.50" width="1.80" height="9.80" fill="#d0a040"/>
<rect x="363.80" y="213.50" width="2.20" height="9.80" fill="#90b030"/>
<rect x="366.00" y="213.50" width="1.70" height="9.80" fill="#f0f090"/>
<rect x="367.70" y="213.50" width="6.90" height="9.80" fill="#c8e8a8"/>
<rect x="374.60" y="213.50" width="1.30" height="9.80" fill="#e0a0a0"/>
<rect x="375.90" y="213.50" width="2.60" height="9.80" fill="#6070b0"/>
<rect x="378.50" y="213.50" width="2.20" height="9.80" fill="#203020"/>
<rect x="380.70" y="213.50" width="0.80" height="9.80" fill="#f6f0a0"/>
<rect x="381.50" y="213.50" width="9.80" height="9.80" fill="#f4ee50"/>
<rect x="391.30" y="213.50" width="2.90" height="9.80" fill="#c8e8a8"/>
<rect x="394.20" y="213.50" width="5.40" height="9.80" fill="#eef080"/>
<rect x="399.60" y="213.50" width="5.20" height="9.80" fill="#4e62d6"/>
<rect x="404.80" y="213.50" width="1.70" height="9.80" fill="#161a72"/>
<rect x="406.50" y="213.50" width="1.50" height="9.80" fill="#5068d8"/>
<rect x="408.00" y="213.50" width="1.50" height="9.80" fill="#8090b0"/>
<rect x="409.50" y="213.50" width="2.20" height="9.80" fill="#eeee80"/>
<rect x="411.70" y="213.50" width="3.50" height="9.80" fill="#4e62d6"/>
<rect x="415.20" y="213.50" width="1.10" height="9.80" fill="#e8e8c8"/>
<rect x="416.30" y="213.50" width="7.50" height="9.80" fill="#f4ee50"/>
<rect x="423.80" y="213.50" width="2.90" height="9.80" fill="#d08070"/>
<rect x="426.70" y="213.50" width="2.90" height="9.80" fill="#a8dcf0"/>
<rect x="429.60" y="213.50" width="2.30" height="9.80" fill="#5060b0"/>
<rect x="431.90" y="213.50" width="7.50" height="9.80" fill="#f4ee50"/>
<rect x="439.40" y="213.50" width="5.50" height="9.80" fill="#e0a040"/>
<rect x="446.20" y="213.50" width="1.80" height="9.80" fill="#5a6ab0"/>
<rect x="448.00" y="213.50" width="3.00" height="9.80" fill="#90a040"/>
<rect x="451.00" y="213.50" width="1.00" height="9.80" fill="#e0a040"/>
<rect x="452.00" y="213.50" width="3.60" height="9.80" fill="#d89098"/>
<rect x="455.60" y="213.50" width="3.20" height="9.80" fill="#f2ee60"/>
<rect x="458.80" y="213.50" width="3.10" height="9.80" fill="#d6f088"/>
<rect x="461.90" y="213.50" width="2.50" height="9.80" fill="#a8e0c8"/>
<rect x="464.40" y="213.50" width="2.60" height="9.80" fill="#f2ee60"/>
<rect x="467.00" y="213.50" width="8.00" height="9.80" fill="#e090a0"/>
<rect x="475.00" y="213.50" width="10.60" height="9.80" fill="#d63232"/>
<rect x="485.60" y="213.50" width="4.40" height="9.80" fill="#90a040"/>
<rect x="490.00" y="213.50" width="4.40" height="9.80" fill="#d63232"/>
<rect x="494.40" y="213.50" width="2.50" height="9.80" fill="#d0eca0"/>
<rect x="496.90" y="213.50" width="5.00" height="9.80" fill="#f2ee60"/>
<rect x="501.90" y="213.50" width="5.60" height="9.80" fill="#e090a0"/>
<rect x="507.50" y="213.50" width="4.60" height="9.80" fill="#d63232"/>
<rect x="341.60" y="225.00" width="103.30" height="10.40" fill="#e3e3e3"/>
<rect x="446.20" y="225.00" width="65.90" height="10.40" fill="#e3e3e3"/>
<rect x="451.20" y="225.00" width="1.60" height="10.40" fill="#e090a8"/>
<rect x="459.80" y="225.00" width="1.40" height="10.40" fill="#e090a8"/>
<rect x="468.00" y="225.00" width="1.80" height="10.40" fill="#e090a8"/>
<rect x="475.00" y="225.00" width="10.30" height="10.40" fill="#d63a3a"/>
<rect x="490.60" y="225.00" width="3.20" height="10.40" fill="#d63a3a"/>
<rect x="507.50" y="225.00" width="4.60" height="10.40" fill="#d63a3a"/>
<rect x="341.60" y="237.30" width="103.30" height="10.20" fill="#e3e3e3"/>
<rect x="446.20" y="237.30" width="65.90" height="10.20" fill="#e3e3e3"/>
<rect x="353.80" y="237.30" width="1.50" height="10.20" fill="#e496ae"/>
<rect x="363.70" y="237.30" width="1.50" height="10.20" fill="#e496ae"/>
<rect x="366.90" y="237.30" width="1.70" height="10.20" fill="#e496ae"/>
<rect x="384.40" y="237.30" width="1.70" height="10.20" fill="#e496ae"/>
<rect x="387.90" y="237.30" width="2.90" height="10.20" fill="#e496ae"/>
<rect x="428.70" y="237.30" width="1.60" height="10.20" fill="#e496ae"/>
<rect x="451.20" y="237.30" width="1.60" height="10.20" fill="#e496ae"/>
<rect x="463.10" y="237.30" width="1.70" height="10.20" fill="#e496ae"/>
<rect x="468.00" y="237.30" width="1.80" height="10.20" fill="#e496ae"/>
<rect x="475.00" y="237.30" width="1.80" height="10.20" fill="#e496ae"/>
<rect x="478.50" y="237.30" width="3.40" height="10.20" fill="#e496ae"/>
<rect x="485.50" y="237.30" width="1.60" height="10.20" fill="#e496ae"/>
<rect x="490.60" y="237.30" width="3.20" height="10.20" fill="#e496ae"/>
<rect x="508.80" y="237.30" width="2.40" height="10.20" fill="#e496ae"/>
<text x="338.50" y="220.56" font-size="6.85" text-anchor="end" fill="#222" stroke="#222" stroke-width="0.12">WHO subtype</text>
<text x="338.50" y="229.56" font-size="6.85" text-anchor="end" fill="#222" stroke="#222" stroke-width="0.12">Leukemic</text>
<text x="338.50" y="236.46" font-size="6.85" text-anchor="end" fill="#222" stroke="#222" stroke-width="0.12">transformation</text>
<text x="338.50" y="245.66" font-size="6.85" text-anchor="end" fill="#222" stroke="#222" stroke-width="0.12">Survival</text>
<rect x="341.60" y="249.00" width="103.30" height="9.78" fill="#e3e3e3"/>
<rect x="446.20" y="249.00" width="65.90" height="9.78" fill="#e3e3e3"/>
<text x="339.00" y="256.16" font-size="6.85" text-anchor="end" font-style="italic" fill="#222" stroke="#222" stroke-width="0.12">SF3B1</text>
<rect x="341.60" y="259.28" width="103.30" height="9.78" fill="#e3e3e3"/>
<rect x="446.20" y="259.28" width="65.90" height="9.78" fill="#e3e3e3"/>
<text x="339.00" y="266.44" font-size="6.85" text-anchor="end" font-style="italic" fill="#222" stroke="#222" stroke-width="0.12">SRSF2</text>
<rect x="341.60" y="269.56" width="103.30" height="9.78" fill="#e3e3e3"/>
<rect x="446.20" y="269.56" width="65.90" height="9.78" fill="#e3e3e3"/>
<text x="339.00" y="276.72" font-size="6.85" text-anchor="end" font-style="italic" fill="#222" stroke="#222" stroke-width="0.12">TET2</text>
<rect x="341.60" y="279.84" width="103.30" height="9.78" fill="#e3e3e3"/>
<rect x="446.20" y="279.84" width="65.90" height="9.78" fill="#e3e3e3"/>
<text x="339.00" y="287.00" font-size="6.85" text-anchor="end" font-style="italic" fill="#222" stroke="#222" stroke-width="0.12">DNMT3A</text>
<rect x="341.60" y="290.12" width="103.30" height="9.78" fill="#e3e3e3"/>
<rect x="446.20" y="290.12" width="65.90" height="9.78" fill="#e3e3e3"/>
<text x="339.00" y="297.28" font-size="6.85" text-anchor="end" font-style="italic" fill="#222" stroke="#222" stroke-width="0.12">ASXL1</text>
<rect x="341.60" y="300.40" width="103.30" height="9.78" fill="#e3e3e3"/>
<rect x="446.20" y="300.40" width="65.90" height="9.78" fill="#e3e3e3"/>
<text x="339.00" y="307.56" font-size="6.85" text-anchor="end" font-style="italic" fill="#222" stroke="#222" stroke-width="0.12">EZH2</text>
<rect x="341.60" y="310.68" width="103.30" height="9.78" fill="#e3e3e3"/>
<rect x="446.20" y="310.68" width="65.90" height="9.78" fill="#e3e3e3"/>
<text x="339.00" y="317.84" font-size="6.85" text-anchor="end" font-style="italic" fill="#222" stroke="#222" stroke-width="0.12">RUNX1</text>
<rect x="341.60" y="320.96" width="103.30" height="9.78" fill="#e3e3e3"/>
<rect x="446.20" y="320.96" width="65.90" height="9.78" fill="#e3e3e3"/>
<text x="339.00" y="328.12" font-size="6.85" text-anchor="end" font-style="italic" fill="#222" stroke="#222" stroke-width="0.12">NRAS</text>
<rect x="341.60" y="331.24" width="103.30" height="9.78" fill="#e3e3e3"/>
<rect x="446.20" y="331.24" width="65.90" height="9.78" fill="#e3e3e3"/>
<text x="339.00" y="338.40" font-size="6.85" text-anchor="end" font-style="italic" fill="#222" stroke="#222" stroke-width="0.12">TP53</text>
<rect x="341.60" y="341.52" width="103.30" height="9.78" fill="#e3e3e3"/>
<rect x="446.20" y="341.52" width="65.90" height="9.78" fill="#e3e3e3"/>
<text x="339.0" y="348.68" font-size="6.85" text-anchor="end" fill="#222" stroke="#222" stroke-width="0.12"><tspan font-style="italic">EVI1</tspan> high</text>
<rect x="341.60" y="351.80" width="103.30" height="9.78" fill="#e3e3e3"/>
<rect x="446.20" y="351.80" width="65.90" height="9.78" fill="#e3e3e3"/>
<text x="339.00" y="358.96" font-size="6.85" text-anchor="end" fill="#222" stroke="#222" stroke-width="0.12">del(5q)</text>
<rect x="341.60" y="362.08" width="103.30" height="9.78" fill="#e3e3e3"/>
<rect x="446.20" y="362.08" width="65.90" height="9.78" fill="#e3e3e3"/>
<text x="339.00" y="369.24" font-size="6.85" text-anchor="end" fill="#222" stroke="#222" stroke-width="0.12">-7/del(7q)</text>
<rect x="341.60" y="372.36" width="103.30" height="9.78" fill="#e3e3e3"/>
<rect x="446.20" y="372.36" width="65.90" height="9.78" fill="#e3e3e3"/>
<text x="339.00" y="379.52" font-size="6.85" text-anchor="end" fill="#222" stroke="#222" stroke-width="0.12">del(20q)</text>
<rect x="341.60" y="382.64" width="103.30" height="9.78" fill="#e3e3e3"/>
<rect x="446.20" y="382.64" width="65.90" height="9.78" fill="#e3e3e3"/>
<text x="339.00" y="389.80" font-size="6.85" text-anchor="end" fill="#222" stroke="#222" stroke-width="0.12">trisomy 8</text>
<rect x="341.80" y="248.65" width="6.60" height="10.28" fill="#1e2d8a"/>
<rect x="350.20" y="248.65" width="13.50" height="10.28" fill="#1e2d8a"/>
<rect x="376.10" y="248.65" width="6.30" height="10.28" fill="#1e2d8a"/>
<rect x="399.80" y="248.65" width="15.30" height="10.28" fill="#1e2d8a"/>
<rect x="446.40" y="248.65" width="9.20" height="10.28" fill="#1e2d8a"/>
<rect x="475.00" y="248.65" width="1.60" height="10.28" fill="#1e2d8a"/>
<rect x="348.10" y="258.93" width="1.70" height="10.28" fill="#1e2d8a"/>
<rect x="363.90" y="258.93" width="1.70" height="10.28" fill="#1e2d8a"/>
<rect x="382.80" y="258.93" width="10.00" height="10.28" fill="#1e2d8a"/>
<rect x="394.70" y="258.93" width="1.50" height="10.28" fill="#1e2d8a"/>
<rect x="412.00" y="258.93" width="1.50" height="10.28" fill="#1e2d8a"/>
<rect x="415.10" y="258.93" width="11.90" height="10.28" fill="#1e2d8a"/>
<rect x="456.20" y="258.93" width="1.60" height="10.28" fill="#1e2d8a"/>
<rect x="477.20" y="258.93" width="2.80" height="10.28" fill="#1e2d8a"/>
<rect x="485.20" y="258.93" width="1.90" height="10.28" fill="#1e2d8a"/>
<rect x="491.00" y="258.93" width="4.20" height="10.28" fill="#1e2d8a"/>
<rect x="346.80" y="269.21" width="3.00" height="10.28" fill="#1e2d8a"/>
<rect x="357.00" y="269.21" width="1.80" height="10.28" fill="#1e2d8a"/>
<rect x="360.30" y="269.21" width="3.20" height="10.28" fill="#1e2d8a"/>
<rect x="365.50" y="269.21" width="1.60" height="10.28" fill="#1e2d8a"/>
<rect x="377.80" y="269.21" width="11.40" height="10.28" fill="#1e2d8a"/>
<rect x="391.20" y="269.21" width="1.60" height="10.28" fill="#1e2d8a"/>
<rect x="394.70" y="269.21" width="2.90" height="10.28" fill="#1e2d8a"/>
<rect x="403.10" y="269.21" width="1.70" height="10.28" fill="#1e2d8a"/>
<rect x="406.60" y="269.21" width="1.50" height="10.28" fill="#1e2d8a"/>
<rect x="410.00" y="269.21" width="11.90" height="10.28" fill="#1e2d8a"/>
<rect x="437.40" y="269.21" width="3.30" height="10.28" fill="#1e2d8a"/>
<rect x="452.70" y="269.21" width="1.70" height="10.28" fill="#1e2d8a"/>
<rect x="456.20" y="269.21" width="1.60" height="10.28" fill="#1e2d8a"/>
<rect x="459.70" y="269.21" width="1.50" height="10.28" fill="#1e2d8a"/>
<rect x="464.70" y="269.21" width="1.50" height="10.28" fill="#1e2d8a"/>
<rect x="478.50" y="269.21" width="1.50" height="10.28" fill="#1e2d8a"/>
<rect x="487.20" y="269.21" width="1.50" height="10.28" fill="#1e2d8a"/>
<rect x="490.60" y="269.21" width="1.50" height="10.28" fill="#1e2d8a"/>
<rect x="343.00" y="279.49" width="1.80" height="10.28" fill="#1e2d8a"/>
<rect x="360.30" y="279.49" width="1.80" height="10.28" fill="#1e2d8a"/>
<rect x="367.20" y="279.49" width="1.70" height="10.28" fill="#1e2d8a"/>
<rect x="370.80" y="279.49" width="1.50" height="10.28" fill="#1e2d8a"/>
<rect x="443.60" y="279.49" width="1.40" height="10.28" fill="#1e2d8a"/>
<rect x="463.10" y="279.49" width="1.60" height="10.28" fill="#1e2d8a"/>
<rect x="471.90" y="279.49" width="1.50" height="10.28" fill="#1e2d8a"/>
<rect x="483.50" y="279.49" width="1.50" height="10.28" fill="#1e2d8a"/>
<rect x="502.50" y="279.49" width="1.50" height="10.28" fill="#1e2d8a"/>
<rect x="341.60" y="289.77" width="1.40" height="10.28" fill="#1e2d8a"/>
<rect x="370.80" y="289.77" width="3.00" height="10.28" fill="#1e2d8a"/>
<rect x="384.20" y="289.77" width="1.80" height="10.28" fill="#1e2d8a"/>
<rect x="391.20" y="289.77" width="1.60" height="10.28" fill="#1e2d8a"/>
<rect x="403.10" y="289.77" width="5.00" height="10.28" fill="#1e2d8a"/>
<rect x="413.20" y="289.77" width="1.90" height="10.28" fill="#1e2d8a"/>
<rect x="423.70" y="289.77" width="1.80" height="10.28" fill="#1e2d8a"/>
<rect x="427.00" y="289.77" width="1.80" height="10.28" fill="#1e2d8a"/>
<rect x="439.00" y="289.77" width="1.80" height="10.28" fill="#1e2d8a"/>
<rect x="454.20" y="289.77" width="1.80" height="10.28" fill="#1e2d8a"/>
<rect x="459.70" y="289.77" width="1.50" height="10.28" fill="#1e2d8a"/>
<rect x="477.20" y="289.77" width="2.80" height="10.28" fill="#1e2d8a"/>
<rect x="491.00" y="289.77" width="2.70" height="10.28" fill="#1e2d8a"/>
<rect x="497.50" y="289.77" width="4.40" height="10.28" fill="#1e2d8a"/>
<rect x="379.20" y="300.05" width="1.70" height="10.28" fill="#1e2d8a"/>
<rect x="427.00" y="300.05" width="1.80" height="10.28" fill="#1e2d8a"/>
<rect x="446.20" y="300.05" width="1.60" height="10.28" fill="#1e2d8a"/>
<rect x="459.70" y="300.05" width="1.50" height="10.28" fill="#1e2d8a"/>
<rect x="475.00" y="300.05" width="1.60" height="10.28" fill="#1e2d8a"/>
<rect x="495.60" y="300.05" width="1.60" height="10.28" fill="#1e2d8a"/>
<rect x="499.40" y="300.05" width="1.60" height="10.28" fill="#1e2d8a"/>
<rect x="382.80" y="310.33" width="3.00" height="10.28" fill="#1e2d8a"/>
<rect x="449.20" y="310.33" width="1.80" height="10.28" fill="#1e2d8a"/>
<rect x="473.50" y="310.33" width="6.20" height="10.28" fill="#1e2d8a"/>
<rect x="499.40" y="310.33" width="1.60" height="10.28" fill="#1e2d8a"/>
<rect x="433.90" y="320.61" width="2.00" height="10.28" fill="#1e2d8a"/>
<rect x="451.30" y="320.61" width="2.80" height="10.28" fill="#1e2d8a"/>
<rect x="459.60" y="320.61" width="1.50" height="10.28" fill="#1e2d8a"/>
<rect x="483.80" y="320.61" width="3.20" height="10.28" fill="#1e2d8a"/>
<rect x="490.60" y="320.61" width="4.70" height="10.28" fill="#1e2d8a"/>
<rect x="499.20" y="320.61" width="1.50" height="10.28" fill="#1e2d8a"/>
<rect x="373.80" y="330.89" width="1.90" height="10.28" fill="#1e2d8a"/>
<rect x="466.30" y="330.89" width="1.60" height="10.28" fill="#1e2d8a"/>
<rect x="470.20" y="330.89" width="3.00" height="10.28" fill="#1e2d8a"/>
<rect x="481.90" y="330.89" width="1.60" height="10.28" fill="#1e2d8a"/>
<rect x="509.00" y="330.89" width="1.70" height="10.28" fill="#1e2d8a"/>
<rect x="446.20" y="341.17" width="2.40" height="10.28" fill="#1e2d8a"/>
<rect x="451.20" y="341.17" width="2.90" height="10.28" fill="#1e2d8a"/>
<rect x="468.10" y="341.17" width="1.70" height="10.28" fill="#1e2d8a"/>
<rect x="373.80" y="351.45" width="1.90" height="10.28" fill="#1e2d8a"/>
<rect x="408.10" y="351.45" width="2.00" height="10.28" fill="#1e2d8a"/>
<rect x="441.00" y="351.45" width="2.80" height="10.28" fill="#1e2d8a"/>
<rect x="461.50" y="351.45" width="1.50" height="10.28" fill="#1e2d8a"/>
<rect x="466.30" y="351.45" width="1.60" height="10.28" fill="#1e2d8a"/>
<rect x="471.70" y="351.45" width="1.50" height="10.28" fill="#1e2d8a"/>
<rect x="481.90" y="351.45" width="1.60" height="10.28" fill="#1e2d8a"/>
<rect x="373.80" y="361.73" width="1.90" height="10.28" fill="#1e2d8a"/>
<rect x="468.50" y="361.73" width="4.20" height="10.28" fill="#1e2d8a"/>
<rect x="475.30" y="361.73" width="1.50" height="10.28" fill="#1e2d8a"/>
<rect x="481.90" y="361.73" width="1.60" height="10.28" fill="#1e2d8a"/>
<rect x="490.60" y="361.73" width="1.50" height="10.28" fill="#1e2d8a"/>
<rect x="353.40" y="372.01" width="1.90" height="10.28" fill="#1e2d8a"/>
<rect x="373.80" y="372.01" width="1.90" height="10.28" fill="#1e2d8a"/>
<rect x="449.30" y="372.01" width="1.60" height="10.28" fill="#1e2d8a"/>
<rect x="469.80" y="372.01" width="1.70" height="10.28" fill="#1e2d8a"/>
<rect x="475.30" y="372.01" width="1.50" height="10.28" fill="#1e2d8a"/>
<rect x="481.90" y="372.01" width="1.60" height="10.28" fill="#1e2d8a"/>
<rect x="344.90" y="382.29" width="1.70" height="10.28" fill="#1e2d8a"/>
<rect x="435.60" y="382.29" width="1.50" height="10.28" fill="#1e2d8a"/>
<rect x="468.10" y="382.29" width="3.40" height="10.28" fill="#1e2d8a"/>
<rect x="492.10" y="382.29" width="2.00" height="10.28" fill="#1e2d8a"/>
<rect x="499.20" y="382.29" width="1.50" height="10.28" fill="#1e2d8a"/>
<text x="295.50" y="409.96" font-size="6.85" fill="#222" stroke="#222" stroke-width="0.12">WHO subtype</text>
<rect x="294.80" y="412.10" width="43.70" height="1.20" fill="#333"/>
<text x="431.90" y="409.76" font-size="6.85" fill="#222" stroke="#222" stroke-width="0.12">Leukemic transformation</text>
<rect x="431.90" y="411.90" width="74.80" height="1.20" fill="#333"/>
<rect x="295.00" y="415.70" width="7.50" height="7.20" fill="#a6d6da"/>
<text x="305.00" y="421.56" font-size="6.85" fill="#222" stroke="#222" stroke-width="0.12">MDS-SLD</text>
<rect x="295.00" y="427.87" width="7.50" height="7.20" fill="#4a64c8"/>
<text x="305.00" y="433.73" font-size="6.85" fill="#222" stroke="#222" stroke-width="0.12">MDS-RS-SLD</text>
<rect x="295.00" y="440.04" width="7.50" height="7.20" fill="#1e1e78"/>
<text x="305.00" y="445.90" font-size="6.85" fill="#222" stroke="#222" stroke-width="0.12">MDS/MPN-RS-T</text>
<rect x="295.00" y="452.21" width="7.50" height="7.20" fill="#c2dca2"/>
<text x="305.00" y="458.07" font-size="6.85" fill="#222" stroke="#222" stroke-width="0.12">MDS-MLD</text>
<rect x="295.00" y="464.38" width="7.50" height="7.20" fill="#7ab040"/>
<text x="305.00" y="470.24" font-size="6.85" fill="#222" stroke="#222" stroke-width="0.12">MDS-RS-MLD</text>
<rect x="295.00" y="476.55" width="7.50" height="7.20" fill="#5a3c96"/>
<text x="305.00" y="482.41" font-size="6.85" fill="#222" stroke="#222" stroke-width="0.12">MDS del(5q)</text>
<rect x="369.20" y="415.70" width="7.50" height="7.20" fill="#f4e84a"/>
<text x="379.90" y="421.56" font-size="6.85" fill="#222" stroke="#222" stroke-width="0.12">CMML-1</text>
<rect x="369.20" y="427.87" width="7.50" height="7.20" fill="#d8d090"/>
<text x="379.90" y="433.73" font-size="6.85" fill="#222" stroke="#222" stroke-width="0.12">CMML-2</text>
<rect x="369.20" y="440.04" width="7.50" height="7.20" fill="#e3a444"/>
<text x="379.90" y="445.90" font-size="6.85" fill="#222" stroke="#222" stroke-width="0.12">MDS-EB-1</text>
<rect x="369.20" y="452.21" width="7.50" height="7.20" fill="#e494bc"/>
<text x="379.90" y="458.07" font-size="6.85" fill="#222" stroke="#222" stroke-width="0.12">MDS-EB-2</text>
<rect x="369.20" y="464.38" width="7.50" height="7.20" fill="#d03434"/>
<text x="379.90" y="470.24" font-size="6.85" fill="#222" stroke="#222" stroke-width="0.12">AML-MDS</text>
<rect x="369.20" y="476.55" width="7.50" height="7.20" fill="#808080"/>
<text x="379.90" y="482.41" font-size="6.85" fill="#222" stroke="#222" stroke-width="0.12">MDS/MPN-U</text>
<rect x="432.30" y="415.80" width="7.50" height="7.00" fill="#d23c3c"/>
<text x="443.50" y="421.56" font-size="6.85" fill="#222" stroke="#222" stroke-width="0.12">AML-MDS at sampling</text>
<rect x="432.30" y="428.70" width="7.50" height="7.40" fill="#e494bc"/>
<text x="443.50" y="430.16" font-size="6.85" fill="#222" stroke="#222" stroke-width="0.12">Leukemic</text>
<text x="443.50" y="437.46" font-size="6.85" fill="#222" stroke="#222" stroke-width="0.12">transformation (+)</text>
<text x="432.30" y="447.06" font-size="6.85" fill="#222" stroke="#222" stroke-width="0.12">Survival</text>
<rect x="431.90" y="448.80" width="25.50" height="1.20" fill="#333"/>
<rect x="432.30" y="452.60" width="7.50" height="7.30" fill="#e494b4"/>
<text x="443.50" y="458.36" font-size="6.85" fill="#222" stroke="#222" stroke-width="0.12">Death</text>
<text x="432.30" y="472.06" font-size="6.85" fill="#222" stroke="#222" stroke-width="0.12">Genetic lesions</text>
<rect x="431.90" y="473.40" width="47.00" height="1.20" fill="#333"/>
<rect x="432.30" y="477.70" width="7.50" height="7.00" fill="#1e2080"/>
<text x="443.50" y="483.46" font-size="6.85" fill="#222" stroke="#222" stroke-width="0.12">Present</text>
<text x="282.60" y="511.60" font-size="12" font-weight="bold" fill="#000" stroke="#000" stroke-width="0.12">C</text>
<text x="311.30" y="524.06" font-size="6.85" text-anchor="middle" fill="#333" stroke="#333" stroke-width="0.12">mRNA</text>
<text x="311.30" y="531.86" font-size="6.85" text-anchor="middle" fill="#333" stroke="#333" stroke-width="0.12">expression</text>
<text x="311.30" y="539.66" font-size="6.85" text-anchor="middle" fill="#333" stroke="#333" stroke-width="0.12">(z score)</text>
<defs><linearGradient id="gC" x1="0" y1="0" x2="0" y2="1"><stop offset="0" stop-color="#f4f27c"/><stop offset="0.25" stop-color="#a9a648"/><stop offset="0.45" stop-color="#262410"/><stop offset="0.52" stop-color="#050508"/><stop offset="0.62" stop-color="#0c1040"/><stop offset="1" stop-color="#2638e6"/></linearGradient></defs>
<rect x="303.00" y="547.60" width="13.00" height="47.80" fill="url(#gC)"/>
<text x="320.30" y="550.86" font-size="6.85" fill="#333" stroke="#333" stroke-width="0.12">3</text>
<text x="320.30" y="573.76" font-size="6.85" fill="#333" stroke="#333" stroke-width="0.12">0</text>
<text x="319.00" y="597.26" font-size="6.85" fill="#333" stroke="#333" stroke-width="0.12">-3</text>
<text x="359.60" y="529.22" font-size="7.95" text-anchor="end" font-style="italic" fill="#222" stroke="#222" stroke-width="0.12">MSI2</text>
<text x="359.60" y="541.22" font-size="7.95" text-anchor="end" font-style="italic" fill="#222" stroke="#222" stroke-width="0.12">BMI1</text>
<text x="359.60" y="553.22" font-size="7.95" text-anchor="end" font-style="italic" fill="#222" stroke="#222" stroke-width="0.12">SETBP1</text>
<text x="359.60" y="565.22" font-size="7.95" text-anchor="end" font-style="italic" fill="#222" stroke="#222" stroke-width="0.12">BAALC</text>
<text x="359.60" y="577.22" font-size="7.95" text-anchor="end" font-style="italic" fill="#222" stroke="#222" stroke-width="0.12">FLT3</text>
<text x="359.60" y="589.22" font-size="7.95" text-anchor="end" font-style="italic" fill="#222" stroke="#222" stroke-width="0.12">MN1</text>
<text x="359.60" y="601.22" font-size="7.95" text-anchor="end" font-style="italic" fill="#222" stroke="#222" stroke-width="0.12">ERG</text>
<rect x="362.50" y="609.70" width="88.40" height="9.30" fill="#a8eef6"/>
<text x="406.70" y="616.81" font-size="6.7" text-anchor="middle" fill="#1a2a30" stroke="#1a2a30" stroke-width="0.12">First (EMK)</text>
<rect x="452.30" y="609.70" width="56.40" height="9.30" fill="#dc94b8"/>
<text x="480.50" y="616.61" font-size="6.7" text-anchor="middle" fill="#301828" stroke="#301828" stroke-width="0.12">Second (IMP)</text>
<text x="7.90" y="317.40" font-size="12" font-weight="bold" fill="#000" stroke="#000" stroke-width="0.12">D</text>
<text x="72.70" y="332.00" font-size="8.55" text-anchor="middle" font-weight="bold" fill="#111" stroke="#111" stroke-width="0.12">Lineage-specific gene</text>
<text x="74.30" y="340.70" font-size="8.55" text-anchor="middle" font-weight="bold" fill="#111" stroke="#111" stroke-width="0.12">expression</text>
<text x="202.70" y="335.00" font-size="8.55" text-anchor="middle" font-weight="bold" fill="#111" stroke="#111" stroke-width="0.12">Mean for each lineage</text>
<rect x="120.80" y="344.30" width="4.70" height="6.90" fill="#a070e0"/>
<rect x="120.80" y="351.20" width="4.70" height="20.60" fill="#94d8dc"/>
<rect x="120.80" y="371.80" width="4.70" height="5.00" fill="#c8d070"/>
<rect x="120.80" y="376.80" width="4.70" height="6.70" fill="#e8a860"/>
<rect x="120.80" y="383.50" width="4.70" height="81.30" fill="#d474cc"/>
<rect x="120.80" y="464.80" width="4.70" height="11.90" fill="#8a3438"/>
<rect x="146.30" y="344.30" width="4.70" height="16.40" fill="#b07ee8"/>
<rect x="146.30" y="360.70" width="4.70" height="16.70" fill="#4a40a8"/>
<rect x="146.30" y="377.40" width="4.70" height="16.80" fill="#a4e0e2"/>
<rect x="146.30" y="394.20" width="4.70" height="15.60" fill="#84bc78"/>
<rect x="146.30" y="409.80" width="4.70" height="17.90" fill="#d4e064"/>
<rect x="146.30" y="427.70" width="4.70" height="16.20" fill="#e4b062"/>
<rect x="146.30" y="443.90" width="4.70" height="16.40" fill="#d474d0"/>
<rect x="146.30" y="460.30" width="4.70" height="16.40" fill="#8a3438"/>
<rect x="125.9" y="344.4" width="20.1" height="132.3" fill="none" stroke="#aaa" stroke-width="0.5" stroke-dasharray="0.8 0.8"/>
<line x1="125.8" y1="351.2" x2="146" y2="360.7" stroke="#999" stroke-width="0.45" stroke-dasharray="0.8 0.8"/>
<line x1="125.8" y1="351.2" x2="146" y2="377.4" stroke="#999" stroke-width="0.45" stroke-dasharray="0.8 0.8"/>
<line x1="125.8" y1="371.8" x2="146" y2="394.2" stroke="#999" stroke-width="0.45" stroke-dasharray="0.8 0.8"/>
<line x1="125.8" y1="371.8" x2="146" y2="409.8" stroke="#999" stroke-width="0.45" stroke-dasharray="0.8 0.8"/>
<line x1="125.8" y1="376.8" x2="146" y2="427.7" stroke="#999" stroke-width="0.45" stroke-dasharray="0.8 0.8"/>
<line x1="125.8" y1="383.5" x2="146" y2="443.9" stroke="#999" stroke-width="0.45" stroke-dasharray="0.8 0.8"/>
<line x1="125.8" y1="464.8" x2="146" y2="460.3" stroke="#999" stroke-width="0.45" stroke-dasharray="0.8 0.8"/>
<rect x="128.50" y="349.10" width="15.60" height="6.80" fill="#fff"/>
<text x="144.10" y="354.76" font-size="6.85" text-anchor="end" fill="#262626" stroke="#262626" stroke-width="0.12">HSC</text>
<rect x="128.50" y="365.90" width="15.60" height="6.80" fill="#fff"/>
<text x="144.10" y="371.56" font-size="6.85" text-anchor="end" fill="#262626" stroke="#262626" stroke-width="0.12">MPP</text>
<rect x="128.50" y="382.20" width="15.60" height="6.80" fill="#fff"/>
<text x="144.10" y="387.86" font-size="6.85" text-anchor="end" fill="#262626" stroke="#262626" stroke-width="0.12">CLP</text>
<rect x="128.50" y="398.20" width="15.60" height="6.80" fill="#fff"/>
<text x="144.10" y="403.86" font-size="6.85" text-anchor="end" fill="#262626" stroke="#262626" stroke-width="0.12">CMP</text>
<rect x="128.50" y="415.40" width="15.60" height="6.80" fill="#fff"/>
<text x="144.10" y="421.06" font-size="6.85" text-anchor="end" fill="#262626" stroke="#262626" stroke-width="0.12">GMP</text>
<rect x="128.50" y="432.10" width="15.60" height="6.80" fill="#fff"/>
<text x="144.10" y="437.76" font-size="6.85" text-anchor="end" fill="#262626" stroke="#262626" stroke-width="0.12">MEP</text>
<rect x="128.50" y="448.90" width="15.60" height="6.80" fill="#fff"/>
<text x="144.10" y="454.56" font-size="6.85" text-anchor="end" fill="#262626" stroke="#262626" stroke-width="0.12">EB</text>
<rect x="128.50" y="465.00" width="15.60" height="6.80" fill="#fff"/>
<text x="144.10" y="470.66" font-size="6.85" text-anchor="end" fill="#262626" stroke="#262626" stroke-width="0.12">MK</text>
<circle cx="256.20" cy="385.90" r="1.9" fill="#f0a0b8" fill-opacity="0.45"/>
<circle cx="256.20" cy="385.90" r="1.2" fill="#6a4a5a"/>
<circle cx="260.25" cy="385.90" r="1.9" fill="#f0a0b8" fill-opacity="0.45"/>
<circle cx="260.25" cy="385.90" r="1.2" fill="#6a4a5a"/>
<circle cx="264.30" cy="385.90" r="1.9" fill="#f0a0b8" fill-opacity="0.45"/>
<circle cx="264.30" cy="385.90" r="1.2" fill="#6a4a5a"/>
<circle cx="256.20" cy="402.70" r="1.9" fill="#f0a0b8" fill-opacity="0.45"/>
<circle cx="256.20" cy="402.70" r="1.2" fill="#6a4a5a"/>
<circle cx="260.25" cy="402.70" r="1.9" fill="#f0a0b8" fill-opacity="0.45"/>
<circle cx="260.25" cy="402.70" r="1.2" fill="#6a4a5a"/>
<circle cx="264.30" cy="402.70" r="1.9" fill="#f0a0b8" fill-opacity="0.45"/>
<circle cx="264.30" cy="402.70" r="1.2" fill="#6a4a5a"/>
<circle cx="256.20" cy="436.20" r="1.9" fill="#b0b8d0" fill-opacity="0.45"/>
<circle cx="256.20" cy="436.20" r="1.2" fill="#59627a"/>
<circle cx="260.25" cy="436.20" r="1.9" fill="#b0b8d0" fill-opacity="0.45"/>
<circle cx="260.25" cy="436.20" r="1.2" fill="#59627a"/>
<circle cx="264.30" cy="436.20" r="1.9" fill="#b0b8d0" fill-opacity="0.45"/>
<circle cx="264.30" cy="436.20" r="1.2" fill="#59627a"/>
<circle cx="256.20" cy="452.60" r="1.9" fill="#b0b8d0" fill-opacity="0.45"/>
<circle cx="256.20" cy="452.60" r="1.2" fill="#59627a"/>
<circle cx="260.25" cy="452.60" r="1.9" fill="#b0b8d0" fill-opacity="0.45"/>
<circle cx="260.25" cy="452.60" r="1.2" fill="#59627a"/>
<circle cx="264.30" cy="452.60" r="1.9" fill="#b0b8d0" fill-opacity="0.45"/>
<circle cx="264.30" cy="452.60" r="1.2" fill="#59627a"/>
<circle cx="256.20" cy="469.10" r="1.9" fill="#b0b8d0" fill-opacity="0.45"/>
<circle cx="256.20" cy="469.10" r="1.2" fill="#59627a"/>
<circle cx="260.25" cy="469.10" r="1.9" fill="#b0b8d0" fill-opacity="0.45"/>
<circle cx="260.25" cy="469.10" r="1.2" fill="#59627a"/>
<circle cx="264.30" cy="469.10" r="1.9" fill="#b0b8d0" fill-opacity="0.45"/>
<circle cx="264.30" cy="469.10" r="1.2" fill="#59627a"/>
<rect x="20.00" y="481.40" width="60.10" height="9.10" fill="#a8eef6"/>
<rect x="80.20" y="481.40" width="39.30" height="9.10" fill="#dc94b8"/>
<text x="49.30" y="488.21" font-size="6.7" text-anchor="middle" fill="#1a2a30" stroke="#1a2a30" stroke-width="0.12">First (EMK)</text>
<text x="99.90" y="488.21" font-size="6.7" text-anchor="middle" fill="#301828" stroke="#301828" stroke-width="0.12">Second (IMP)</text>
<rect x="152.60" y="481.40" width="59.80" height="9.10" fill="#a8eef6"/>
<rect x="212.40" y="481.40" width="39.60" height="9.10" fill="#dc94b8"/>
<text x="182.50" y="488.21" font-size="6.7" text-anchor="middle" fill="#1a2a30" stroke="#1a2a30" stroke-width="0.12">First (EMK)</text>
<text x="232.20" y="488.21" font-size="6.7" text-anchor="middle" fill="#301828" stroke="#301828" stroke-width="0.12">Second (IMP)</text>
<defs><linearGradient id="gD" x1="0" y1="0" x2="0" y2="1"><stop offset="0" stop-color="#f4f27c"/><stop offset="0.25" stop-color="#a9a648"/><stop offset="0.45" stop-color="#262410"/><stop offset="0.52" stop-color="#050508"/><stop offset="0.62" stop-color="#0c1040"/><stop offset="1" stop-color="#2638e6"/></linearGradient></defs>
<rect x="20.00" y="498.60" width="9.80" height="45.40" fill="url(#gD)"/>
<text x="33.30" y="502.76" font-size="6.85" fill="#333" stroke="#333" stroke-width="0.12">3</text>
<text x="33.30" y="524.86" font-size="6.85" fill="#333" stroke="#333" stroke-width="0.12">0</text>
<text x="32.00" y="546.16" font-size="6.85" fill="#333" stroke="#333" stroke-width="0.12">-3</text>
<text x="63.40" y="516.86" font-size="6.85" text-anchor="middle" fill="#333" stroke="#333" stroke-width="0.12">mRNA</text>
<text x="63.40" y="524.86" font-size="6.85" text-anchor="middle" fill="#333" stroke="#333" stroke-width="0.12">expression</text>
<text x="63.40" y="532.86" font-size="6.85" text-anchor="middle" fill="#333" stroke="#333" stroke-width="0.12">(z score)</text>
<rect x="121.6" y="497.5" width="130.5" height="56.7" rx="5" fill="none" stroke="#222" stroke-width="1" stroke-dasharray="1 1.2"/>
<text x="130.80" y="509.76" font-size="6.85" fill="#222" stroke="#222" stroke-width="0.12">Up-regulated in the first subgroup</text>
<circle cx="132.00" cy="518.50" r="1.9" fill="#b0b8d0" fill-opacity="0.45"/>
<circle cx="132.00" cy="518.50" r="1.2" fill="#59627a"/>
<circle cx="136.05" cy="518.50" r="1.9" fill="#b0b8d0" fill-opacity="0.45"/>
<circle cx="136.05" cy="518.50" r="1.2" fill="#59627a"/>
<circle cx="140.10" cy="518.50" r="1.9" fill="#b0b8d0" fill-opacity="0.45"/>
<circle cx="140.10" cy="518.50" r="1.2" fill="#59627a"/>
<text x="144.60" y="519.86" font-size="6.85" fill="#222" stroke="#222" stroke-width="0.12">q-value &lt; 0.001</text>
<text x="130.80" y="535.16" font-size="6.85" fill="#222" stroke="#222" stroke-width="0.12">Up-regulated in the second subgroup</text>
<circle cx="131.60" cy="544.50" r="1.9" fill="#f0a0b8" fill-opacity="0.45"/>
<circle cx="131.60" cy="544.50" r="1.2" fill="#6a4a5a"/>
<circle cx="135.65" cy="544.50" r="1.9" fill="#f0a0b8" fill-opacity="0.45"/>
<circle cx="135.65" cy="544.50" r="1.2" fill="#6a4a5a"/>
<circle cx="139.70" cy="544.50" r="1.9" fill="#f0a0b8" fill-opacity="0.45"/>
<circle cx="139.70" cy="544.50" r="1.2" fill="#6a4a5a"/>
<text x="144.60" y="545.76" font-size="6.85" fill="#222" stroke="#222" stroke-width="0.12">q-value &lt; 0.001</text>
<rect x="0.6" y="0.6" width="518.6" height="625.6" fill="none" stroke="#000" stroke-width="1.3"/>
</svg></body></html>
